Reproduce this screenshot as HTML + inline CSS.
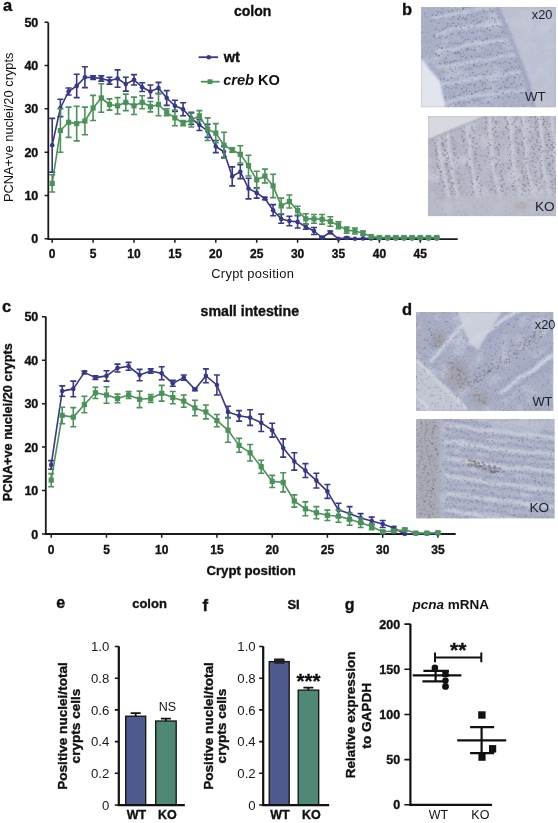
<!DOCTYPE html>
<html><head><meta charset="utf-8"><style>
html,body{margin:0;padding:0;background:#fff;}
svg{display:block;font-family:"Liberation Sans", sans-serif;filter:blur(0.35px);}
</style></head><body>
<svg width="558" height="823" viewBox="0 0 558 823">
<defs><filter id="speck1" x="0" y="0" width="100%" height="100%" color-interpolation-filters="sRGB"><feTurbulence type="fractalNoise" baseFrequency="0.38" numOctaves="2" seed="7"/><feColorMatrix type="matrix" values="0 0 0 0 0.38  0 0 0 0 0.38  0 0 0 0 0.48  2.6 0 0 0 -1.45"/><feGaussianBlur stdDeviation="0.6"/></filter><filter id="mottle1" x="0" y="0" width="100%" height="100%" color-interpolation-filters="sRGB"><feTurbulence type="fractalNoise" baseFrequency="0.06" numOctaves="2" seed="13"/><feColorMatrix type="matrix" values="0 0 0 0 0.88  0 0 0 0 0.89  0 0 0 0 0.94  1.2 0 0 0 -0.58"/></filter><filter id="speck2" x="0" y="0" width="100%" height="100%" color-interpolation-filters="sRGB"><feTurbulence type="fractalNoise" baseFrequency="0.38" numOctaves="2" seed="14"/><feColorMatrix type="matrix" values="0 0 0 0 0.38  0 0 0 0 0.38  0 0 0 0 0.48  2.6 0 0 0 -1.45"/><feGaussianBlur stdDeviation="0.6"/></filter><filter id="mottle2" x="0" y="0" width="100%" height="100%" color-interpolation-filters="sRGB"><feTurbulence type="fractalNoise" baseFrequency="0.06" numOctaves="2" seed="26"/><feColorMatrix type="matrix" values="0 0 0 0 0.88  0 0 0 0 0.89  0 0 0 0 0.94  1.2 0 0 0 -0.58"/></filter><filter id="speck3" x="0" y="0" width="100%" height="100%" color-interpolation-filters="sRGB"><feTurbulence type="fractalNoise" baseFrequency="0.38" numOctaves="2" seed="21"/><feColorMatrix type="matrix" values="0 0 0 0 0.38  0 0 0 0 0.38  0 0 0 0 0.48  2.6 0 0 0 -1.45"/><feGaussianBlur stdDeviation="0.6"/></filter><filter id="mottle3" x="0" y="0" width="100%" height="100%" color-interpolation-filters="sRGB"><feTurbulence type="fractalNoise" baseFrequency="0.06" numOctaves="2" seed="39"/><feColorMatrix type="matrix" values="0 0 0 0 0.88  0 0 0 0 0.89  0 0 0 0 0.94  1.2 0 0 0 -0.58"/></filter><filter id="speck4" x="0" y="0" width="100%" height="100%" color-interpolation-filters="sRGB"><feTurbulence type="fractalNoise" baseFrequency="0.38" numOctaves="2" seed="28"/><feColorMatrix type="matrix" values="0 0 0 0 0.38  0 0 0 0 0.38  0 0 0 0 0.48  2.6 0 0 0 -1.45"/><feGaussianBlur stdDeviation="0.6"/></filter><filter id="mottle4" x="0" y="0" width="100%" height="100%" color-interpolation-filters="sRGB"><feTurbulence type="fractalNoise" baseFrequency="0.06" numOctaves="2" seed="52"/><feColorMatrix type="matrix" values="0 0 0 0 0.88  0 0 0 0 0.89  0 0 0 0 0.94  1.2 0 0 0 -0.58"/></filter><filter id="soft" x="0" y="0" width="100%" height="100%"><feGaussianBlur stdDeviation="0.45"/></filter><filter id="blur3" x="-20%" y="-20%" width="140%" height="140%"><feGaussianBlur stdDeviation="2.5"/></filter><filter id="blur1" x="-20%" y="-20%" width="140%" height="140%"><feGaussianBlur stdDeviation="1"/></filter><clipPath id="clipb1"><rect x="421" y="7" width="135" height="100.5"/></clipPath><clipPath id="clipb2"><rect x="428" y="116" width="128" height="100.3"/></clipPath><clipPath id="clipd1"><rect x="416" y="312" width="137.5" height="99"/></clipPath><clipPath id="clipd2"><rect x="416" y="419" width="138.8" height="99.6"/></clipPath></defs>
<rect width="558" height="823" fill="#fff"/>
<g clip-path="url(#clipb1)"><g filter="url(#soft)"><rect x="421" y="7" width="135" height="100.5" fill="#aab0c7"/><rect x="421" y="7" width="135" height="100.5" filter="url(#mottle1)"/><g filter="url(#blur3)"><path d="M421,7H450L440,50L421,60Z" fill="#aab0c8"/></g><g filter="url(#blur1)" stroke="#c8ccdc" stroke-width="2.4" fill="none"><path d="M431.9,18.2L442.8,16.1L451.0,14.8L459.6,12.8L470.4,11.9L477.5,8.9L486.3,8.9L496.8,5.1L505.0,5.0"/><path d="M435.4,35.4L444.2,32.6L452.5,29.0L463.3,27.4L472.1,26.2L480.6,25.4L490.8,25.0L500.1,22.9L509.0,21.0"/><path d="M436.0,51.5L443.9,48.9L453.5,49.7L461.0,47.4L467.4,44.6L475.4,42.7L486.0,42.2L495.5,40.7L505.1,40.5L513.0,38.0"/><path d="M436.5,67.1L447.4,66.5L455.8,64.9L461.3,64.2L471.6,61.7L477.8,60.5L489.9,60.3L496.9,57.2L506.3,55.2L517.0,55.0"/><path d="M440.9,84.0L448.6,83.4L455.9,82.9L464.1,81.2L472.4,79.2L481.1,77.3L493.2,77.4L500.9,76.2L510.4,73.2L521.0,72.0"/><path d="M443.1,102.4L449.4,102.1L458.3,98.5L468.6,97.3L475.8,95.1L483.8,95.2L492.2,94.1L500.6,92.5L510.4,91.4L517.2,91.3L525.0,89.0"/></g><g><ellipse cx="432.6" cy="15.2" rx="1.0" ry="0.9" fill="#777b95" opacity="0.40"/><ellipse cx="436.2" cy="15.3" rx="0.9" ry="0.9" fill="#686c88" opacity="0.61"/><ellipse cx="438.3" cy="11.8" rx="0.6" ry="0.7" fill="#777b95" opacity="0.57"/><ellipse cx="440.8" cy="12.2" rx="0.8" ry="1.0" fill="#686c88" opacity="0.44"/><ellipse cx="443.1" cy="11.4" rx="0.7" ry="0.7" fill="#6f7390" opacity="0.43"/><ellipse cx="447.0" cy="10.2" rx="0.7" ry="0.5" fill="#7a7480" opacity="0.47"/><ellipse cx="448.9" cy="11.5" rx="0.9" ry="1.1" fill="#6f7390" opacity="0.46"/><ellipse cx="452.5" cy="10.1" rx="1.1" ry="1.2" fill="#777b95" opacity="0.53"/><ellipse cx="455.0" cy="7.9" rx="0.8" ry="0.6" fill="#6f7390" opacity="0.49"/><ellipse cx="457.7" cy="9.0" rx="0.8" ry="0.9" fill="#6f7390" opacity="0.49"/><ellipse cx="460.3" cy="11.5" rx="1.0" ry="0.8" fill="#7a7480" opacity="0.46"/><ellipse cx="463.1" cy="8.7" rx="1.1" ry="1.2" fill="#686c88" opacity="0.63"/><ellipse cx="464.6" cy="7.3" rx="1.0" ry="0.9" fill="#6f7390" opacity="0.53"/><ellipse cx="467.4" cy="7.0" rx="1.0" ry="1.1" fill="#686c88" opacity="0.57"/><ellipse cx="470.6" cy="6.2" rx="0.8" ry="0.9" fill="#6f7390" opacity="0.51"/><ellipse cx="473.2" cy="4.1" rx="0.8" ry="0.6" fill="#6f7390" opacity="0.42"/><ellipse cx="476.2" cy="3.5" rx="1.1" ry="0.9" fill="#6f7390" opacity="0.46"/><ellipse cx="478.3" cy="5.1" rx="0.9" ry="0.9" fill="#7a7480" opacity="0.55"/><ellipse cx="481.6" cy="5.5" rx="1.0" ry="0.8" fill="#686c88" opacity="0.59"/><ellipse cx="484.5" cy="3.2" rx="0.7" ry="0.6" fill="#777b95" opacity="0.52"/><ellipse cx="486.8" cy="4.7" rx="1.1" ry="1.2" fill="#6f7390" opacity="0.64"/><ellipse cx="489.5" cy="4.4" rx="0.7" ry="0.6" fill="#7a7480" opacity="0.63"/><ellipse cx="492.7" cy="1.3" rx="1.0" ry="1.0" fill="#686c88" opacity="0.45"/><ellipse cx="495.8" cy="3.2" rx="0.8" ry="0.8" fill="#7a7480" opacity="0.52"/><ellipse cx="497.4" cy="1.9" rx="0.7" ry="0.6" fill="#6f7390" opacity="0.58"/><ellipse cx="500.0" cy="1.1" rx="1.0" ry="1.1" fill="#6f7390" opacity="0.48"/><ellipse cx="503.1" cy="-0.6" rx="1.1" ry="1.2" fill="#777b95" opacity="0.60"/><ellipse cx="432.0" cy="20.4" rx="1.0" ry="1.1" fill="#6f7390" opacity="0.40"/><ellipse cx="434.9" cy="20.7" rx="0.9" ry="0.9" fill="#777b95" opacity="0.47"/><ellipse cx="439.0" cy="23.0" rx="1.1" ry="0.8" fill="#686c88" opacity="0.39"/><ellipse cx="440.5" cy="18.7" rx="0.8" ry="0.8" fill="#7a7480" opacity="0.49"/><ellipse cx="443.5" cy="18.2" rx="0.7" ry="0.8" fill="#6f7390" opacity="0.41"/><ellipse cx="447.7" cy="23.5" rx="0.9" ry="1.0" fill="#7a7480" opacity="0.43"/><ellipse cx="449.4" cy="18.8" rx="0.6" ry="0.6" fill="#6f7390" opacity="0.48"/><ellipse cx="451.9" cy="19.0" rx="0.6" ry="0.7" fill="#6f7390" opacity="0.48"/><ellipse cx="453.5" cy="16.9" rx="0.9" ry="0.9" fill="#777b95" opacity="0.49"/><ellipse cx="458.3" cy="19.0" rx="1.0" ry="0.9" fill="#686c88" opacity="0.52"/><ellipse cx="460.1" cy="16.3" rx="1.0" ry="0.9" fill="#7a7480" opacity="0.60"/><ellipse cx="462.9" cy="17.7" rx="1.1" ry="0.9" fill="#686c88" opacity="0.64"/><ellipse cx="466.3" cy="17.7" rx="0.9" ry="0.8" fill="#777b95" opacity="0.64"/><ellipse cx="468.0" cy="15.0" rx="0.9" ry="0.9" fill="#686c88" opacity="0.36"/><ellipse cx="471.5" cy="14.8" rx="0.9" ry="0.8" fill="#6f7390" opacity="0.50"/><ellipse cx="474.1" cy="16.4" rx="0.8" ry="1.0" fill="#686c88" opacity="0.43"/><ellipse cx="476.3" cy="15.1" rx="0.7" ry="0.6" fill="#686c88" opacity="0.51"/><ellipse cx="478.2" cy="13.8" rx="0.7" ry="0.8" fill="#6f7390" opacity="0.36"/><ellipse cx="481.0" cy="13.8" rx="0.6" ry="0.5" fill="#7a7480" opacity="0.42"/><ellipse cx="484.0" cy="11.2" rx="1.1" ry="1.1" fill="#777b95" opacity="0.56"/><ellipse cx="487.6" cy="12.5" rx="0.6" ry="0.6" fill="#777b95" opacity="0.51"/><ellipse cx="490.1" cy="11.1" rx="0.7" ry="0.7" fill="#777b95" opacity="0.42"/><ellipse cx="492.7" cy="11.4" rx="1.0" ry="1.2" fill="#7a7480" opacity="0.53"/><ellipse cx="495.8" cy="11.9" rx="0.7" ry="0.5" fill="#777b95" opacity="0.39"/><ellipse cx="497.5" cy="13.1" rx="0.8" ry="0.7" fill="#686c88" opacity="0.51"/><ellipse cx="500.9" cy="10.8" rx="1.0" ry="0.8" fill="#7a7480" opacity="0.62"/><ellipse cx="504.2" cy="11.5" rx="0.7" ry="0.6" fill="#7a7480" opacity="0.50"/><ellipse cx="435.1" cy="29.5" rx="0.7" ry="0.5" fill="#686c88" opacity="0.39"/><ellipse cx="437.0" cy="29.5" rx="0.7" ry="0.8" fill="#7a7480" opacity="0.63"/><ellipse cx="439.9" cy="31.7" rx="0.9" ry="0.9" fill="#7a7480" opacity="0.47"/><ellipse cx="442.7" cy="29.3" rx="0.8" ry="0.6" fill="#7a7480" opacity="0.35"/><ellipse cx="445.6" cy="27.9" rx="0.8" ry="0.9" fill="#686c88" opacity="0.63"/><ellipse cx="447.8" cy="26.3" rx="0.7" ry="0.7" fill="#7a7480" opacity="0.62"/><ellipse cx="450.7" cy="25.7" rx="0.9" ry="0.9" fill="#777b95" opacity="0.50"/><ellipse cx="453.3" cy="23.3" rx="1.0" ry="0.9" fill="#6f7390" opacity="0.57"/><ellipse cx="456.1" cy="26.1" rx="1.1" ry="1.2" fill="#7a7480" opacity="0.58"/><ellipse cx="458.4" cy="23.8" rx="0.8" ry="0.9" fill="#6f7390" opacity="0.59"/><ellipse cx="460.9" cy="27.1" rx="1.1" ry="1.3" fill="#6f7390" opacity="0.42"/><ellipse cx="464.4" cy="25.8" rx="1.0" ry="0.8" fill="#686c88" opacity="0.52"/><ellipse cx="465.2" cy="19.2" rx="1.0" ry="1.0" fill="#686c88" opacity="0.64"/><ellipse cx="468.5" cy="27.2" rx="0.9" ry="1.0" fill="#7a7480" opacity="0.48"/><ellipse cx="471.2" cy="23.0" rx="0.6" ry="0.5" fill="#7a7480" opacity="0.62"/><ellipse cx="473.5" cy="20.4" rx="0.9" ry="1.0" fill="#6f7390" opacity="0.54"/><ellipse cx="477.1" cy="23.5" rx="1.0" ry="0.7" fill="#777b95" opacity="0.47"/><ellipse cx="479.8" cy="22.3" rx="1.1" ry="1.0" fill="#6f7390" opacity="0.48"/><ellipse cx="481.4" cy="20.8" rx="0.8" ry="0.7" fill="#686c88" opacity="0.55"/><ellipse cx="484.4" cy="22.0" rx="0.8" ry="0.8" fill="#7a7480" opacity="0.36"/><ellipse cx="486.8" cy="18.5" rx="0.8" ry="0.9" fill="#6f7390" opacity="0.62"/><ellipse cx="489.4" cy="18.7" rx="0.6" ry="0.7" fill="#7a7480" opacity="0.37"/><ellipse cx="492.2" cy="17.8" rx="1.1" ry="0.9" fill="#6f7390" opacity="0.63"/><ellipse cx="494.8" cy="19.6" rx="0.9" ry="1.0" fill="#777b95" opacity="0.53"/><ellipse cx="496.1" cy="17.5" rx="0.7" ry="0.5" fill="#777b95" opacity="0.39"/><ellipse cx="499.2" cy="17.0" rx="1.0" ry="0.9" fill="#7a7480" opacity="0.54"/><ellipse cx="502.1" cy="16.1" rx="1.0" ry="0.8" fill="#7a7480" opacity="0.57"/><ellipse cx="504.5" cy="19.0" rx="0.7" ry="0.8" fill="#7a7480" opacity="0.43"/><ellipse cx="507.3" cy="16.4" rx="0.7" ry="0.6" fill="#777b95" opacity="0.41"/><ellipse cx="434.0" cy="36.3" rx="1.1" ry="1.3" fill="#6f7390" opacity="0.54"/><ellipse cx="436.6" cy="38.0" rx="0.6" ry="0.5" fill="#7a7480" opacity="0.37"/><ellipse cx="439.4" cy="37.9" rx="1.0" ry="0.9" fill="#7a7480" opacity="0.50"/><ellipse cx="442.2" cy="36.2" rx="0.7" ry="0.8" fill="#6f7390" opacity="0.48"/><ellipse cx="445.9" cy="37.8" rx="1.1" ry="1.2" fill="#686c88" opacity="0.48"/><ellipse cx="447.5" cy="36.6" rx="1.0" ry="1.1" fill="#7a7480" opacity="0.44"/><ellipse cx="450.6" cy="34.3" rx="1.1" ry="0.8" fill="#7a7480" opacity="0.52"/><ellipse cx="452.8" cy="34.3" rx="0.8" ry="0.8" fill="#686c88" opacity="0.44"/><ellipse cx="456.3" cy="36.1" rx="0.6" ry="0.5" fill="#6f7390" opacity="0.56"/><ellipse cx="458.2" cy="34.3" rx="1.1" ry="0.9" fill="#7a7480" opacity="0.46"/><ellipse cx="460.0" cy="32.6" rx="1.0" ry="1.0" fill="#7a7480" opacity="0.48"/><ellipse cx="463.8" cy="32.7" rx="0.8" ry="1.0" fill="#777b95" opacity="0.38"/><ellipse cx="466.7" cy="33.8" rx="0.6" ry="0.6" fill="#686c88" opacity="0.59"/><ellipse cx="468.8" cy="31.3" rx="0.7" ry="0.7" fill="#777b95" opacity="0.40"/><ellipse cx="471.8" cy="32.8" rx="1.1" ry="0.9" fill="#6f7390" opacity="0.42"/><ellipse cx="473.2" cy="32.1" rx="0.6" ry="0.7" fill="#686c88" opacity="0.37"/><ellipse cx="476.6" cy="31.9" rx="1.0" ry="0.8" fill="#6f7390" opacity="0.43"/><ellipse cx="478.3" cy="30.5" rx="1.0" ry="0.7" fill="#686c88" opacity="0.42"/><ellipse cx="481.1" cy="30.4" rx="1.0" ry="1.0" fill="#686c88" opacity="0.47"/><ellipse cx="484.1" cy="31.7" rx="0.9" ry="0.8" fill="#6f7390" opacity="0.56"/><ellipse cx="487.2" cy="28.7" rx="0.8" ry="0.9" fill="#7a7480" opacity="0.61"/><ellipse cx="489.9" cy="30.2" rx="1.1" ry="1.1" fill="#7a7480" opacity="0.56"/><ellipse cx="491.8" cy="25.8" rx="0.8" ry="0.8" fill="#777b95" opacity="0.42"/><ellipse cx="493.6" cy="26.6" rx="0.8" ry="0.7" fill="#7a7480" opacity="0.43"/><ellipse cx="497.2" cy="25.8" rx="0.9" ry="0.9" fill="#7a7480" opacity="0.54"/><ellipse cx="499.9" cy="27.2" rx="0.9" ry="0.8" fill="#6f7390" opacity="0.44"/><ellipse cx="501.7" cy="27.2" rx="0.8" ry="0.8" fill="#686c88" opacity="0.53"/><ellipse cx="504.3" cy="26.7" rx="0.7" ry="0.7" fill="#7a7480" opacity="0.54"/><ellipse cx="508.1" cy="26.7" rx="0.9" ry="1.0" fill="#686c88" opacity="0.62"/><ellipse cx="437.3" cy="45.3" rx="1.1" ry="1.1" fill="#777b95" opacity="0.47"/><ellipse cx="439.3" cy="47.4" rx="0.7" ry="0.7" fill="#7a7480" opacity="0.59"/><ellipse cx="441.9" cy="48.1" rx="1.1" ry="1.2" fill="#686c88" opacity="0.59"/><ellipse cx="444.9" cy="43.6" rx="0.9" ry="0.7" fill="#777b95" opacity="0.58"/><ellipse cx="447.3" cy="46.7" rx="0.7" ry="0.7" fill="#7a7480" opacity="0.50"/><ellipse cx="449.2" cy="42.8" rx="0.9" ry="0.7" fill="#777b95" opacity="0.60"/><ellipse cx="453.4" cy="43.7" rx="0.7" ry="0.8" fill="#6f7390" opacity="0.62"/><ellipse cx="455.7" cy="42.5" rx="0.6" ry="0.7" fill="#7a7480" opacity="0.36"/><ellipse cx="457.8" cy="43.4" rx="1.0" ry="0.9" fill="#6f7390" opacity="0.51"/><ellipse cx="461.2" cy="44.1" rx="0.7" ry="0.8" fill="#7a7480" opacity="0.44"/><ellipse cx="462.5" cy="37.3" rx="1.0" ry="0.7" fill="#6f7390" opacity="0.56"/><ellipse cx="465.2" cy="39.7" rx="0.8" ry="0.8" fill="#6f7390" opacity="0.55"/><ellipse cx="467.7" cy="39.3" rx="0.7" ry="0.7" fill="#686c88" opacity="0.58"/><ellipse cx="472.3" cy="41.7" rx="1.1" ry="1.1" fill="#777b95" opacity="0.44"/><ellipse cx="473.7" cy="38.7" rx="0.8" ry="0.7" fill="#6f7390" opacity="0.43"/><ellipse cx="476.3" cy="39.2" rx="1.0" ry="0.9" fill="#7a7480" opacity="0.52"/><ellipse cx="479.6" cy="37.6" rx="0.7" ry="0.5" fill="#6f7390" opacity="0.39"/><ellipse cx="482.7" cy="40.7" rx="0.7" ry="0.6" fill="#6f7390" opacity="0.60"/><ellipse cx="485.0" cy="38.9" rx="0.7" ry="0.5" fill="#686c88" opacity="0.58"/><ellipse cx="487.2" cy="38.2" rx="1.1" ry="1.2" fill="#777b95" opacity="0.54"/><ellipse cx="490.5" cy="37.7" rx="0.8" ry="0.7" fill="#6f7390" opacity="0.57"/><ellipse cx="492.6" cy="35.5" rx="0.8" ry="0.8" fill="#777b95" opacity="0.55"/><ellipse cx="495.7" cy="37.6" rx="0.8" ry="0.8" fill="#6f7390" opacity="0.52"/><ellipse cx="497.5" cy="36.2" rx="0.8" ry="0.7" fill="#6f7390" opacity="0.53"/><ellipse cx="500.1" cy="35.9" rx="0.9" ry="0.8" fill="#777b95" opacity="0.52"/><ellipse cx="502.3" cy="32.2" rx="1.1" ry="1.3" fill="#777b95" opacity="0.52"/><ellipse cx="504.9" cy="33.5" rx="0.7" ry="0.6" fill="#686c88" opacity="0.56"/><ellipse cx="507.9" cy="32.3" rx="1.1" ry="1.0" fill="#686c88" opacity="0.61"/><ellipse cx="511.1" cy="33.7" rx="0.9" ry="0.9" fill="#6f7390" opacity="0.52"/><ellipse cx="436.2" cy="54.4" rx="1.1" ry="1.3" fill="#7a7480" opacity="0.53"/><ellipse cx="439.0" cy="55.5" rx="1.1" ry="0.9" fill="#7a7480" opacity="0.60"/><ellipse cx="441.5" cy="53.5" rx="0.9" ry="0.7" fill="#6f7390" opacity="0.47"/><ellipse cx="446.1" cy="58.5" rx="0.7" ry="0.7" fill="#686c88" opacity="0.53"/><ellipse cx="447.3" cy="51.3" rx="1.0" ry="0.8" fill="#686c88" opacity="0.49"/><ellipse cx="449.3" cy="51.8" rx="0.7" ry="0.7" fill="#7a7480" opacity="0.42"/><ellipse cx="453.7" cy="53.6" rx="0.6" ry="0.7" fill="#777b95" opacity="0.47"/><ellipse cx="455.6" cy="53.1" rx="1.1" ry="1.3" fill="#686c88" opacity="0.58"/><ellipse cx="458.2" cy="52.4" rx="1.1" ry="1.3" fill="#686c88" opacity="0.60"/><ellipse cx="460.6" cy="53.7" rx="0.8" ry="0.8" fill="#686c88" opacity="0.62"/><ellipse cx="463.6" cy="52.9" rx="0.6" ry="0.7" fill="#686c88" opacity="0.57"/><ellipse cx="466.3" cy="50.2" rx="0.9" ry="0.7" fill="#6f7390" opacity="0.60"/><ellipse cx="468.2" cy="48.7" rx="1.1" ry="1.3" fill="#686c88" opacity="0.56"/><ellipse cx="471.5" cy="49.4" rx="0.8" ry="0.7" fill="#6f7390" opacity="0.65"/><ellipse cx="474.7" cy="49.9" rx="1.1" ry="1.0" fill="#686c88" opacity="0.52"/><ellipse cx="476.1" cy="47.6" rx="0.7" ry="0.5" fill="#777b95" opacity="0.39"/><ellipse cx="479.3" cy="46.8" rx="1.1" ry="0.8" fill="#777b95" opacity="0.57"/><ellipse cx="481.4" cy="48.3" rx="0.8" ry="0.8" fill="#777b95" opacity="0.46"/><ellipse cx="485.1" cy="48.4" rx="0.6" ry="0.4" fill="#7a7480" opacity="0.44"/><ellipse cx="487.9" cy="50.1" rx="0.9" ry="0.7" fill="#7a7480" opacity="0.61"/><ellipse cx="490.1" cy="44.6" rx="0.6" ry="0.5" fill="#7a7480" opacity="0.62"/><ellipse cx="491.7" cy="44.5" rx="0.9" ry="0.9" fill="#777b95" opacity="0.41"/><ellipse cx="495.6" cy="43.7" rx="0.6" ry="0.5" fill="#7a7480" opacity="0.64"/><ellipse cx="497.2" cy="42.5" rx="0.8" ry="0.9" fill="#686c88" opacity="0.47"/><ellipse cx="500.3" cy="46.0" rx="1.1" ry="0.8" fill="#777b95" opacity="0.43"/><ellipse cx="503.4" cy="42.9" rx="0.8" ry="0.8" fill="#6f7390" opacity="0.53"/><ellipse cx="505.4" cy="43.7" rx="0.8" ry="0.9" fill="#777b95" opacity="0.43"/><ellipse cx="509.3" cy="46.5" rx="0.8" ry="0.8" fill="#6f7390" opacity="0.35"/><ellipse cx="511.6" cy="44.9" rx="0.9" ry="0.8" fill="#6f7390" opacity="0.40"/><ellipse cx="439.7" cy="63.5" rx="1.0" ry="0.7" fill="#777b95" opacity="0.65"/><ellipse cx="440.9" cy="63.8" rx="0.9" ry="0.9" fill="#686c88" opacity="0.35"/><ellipse cx="445.0" cy="62.8" rx="1.0" ry="1.2" fill="#7a7480" opacity="0.55"/><ellipse cx="447.5" cy="62.1" rx="0.9" ry="0.8" fill="#777b95" opacity="0.53"/><ellipse cx="450.4" cy="62.5" rx="1.0" ry="0.9" fill="#7a7480" opacity="0.59"/><ellipse cx="453.1" cy="61.9" rx="0.7" ry="0.7" fill="#777b95" opacity="0.61"/><ellipse cx="455.4" cy="60.5" rx="1.1" ry="0.8" fill="#686c88" opacity="0.61"/><ellipse cx="457.6" cy="61.1" rx="0.7" ry="0.5" fill="#686c88" opacity="0.59"/><ellipse cx="460.6" cy="59.2" rx="0.6" ry="0.5" fill="#777b95" opacity="0.52"/><ellipse cx="463.0" cy="56.5" rx="1.0" ry="0.8" fill="#777b95" opacity="0.37"/><ellipse cx="465.9" cy="57.9" rx="1.0" ry="1.1" fill="#686c88" opacity="0.38"/><ellipse cx="469.0" cy="55.7" rx="0.7" ry="0.6" fill="#777b95" opacity="0.50"/><ellipse cx="471.7" cy="56.5" rx="0.8" ry="0.7" fill="#777b95" opacity="0.56"/><ellipse cx="475.0" cy="56.3" rx="0.7" ry="0.7" fill="#777b95" opacity="0.39"/><ellipse cx="477.0" cy="56.8" rx="0.7" ry="0.8" fill="#777b95" opacity="0.38"/><ellipse cx="479.8" cy="56.0" rx="0.9" ry="1.0" fill="#6f7390" opacity="0.55"/><ellipse cx="483.2" cy="57.8" rx="0.8" ry="0.6" fill="#777b95" opacity="0.48"/><ellipse cx="484.5" cy="55.3" rx="0.7" ry="0.6" fill="#777b95" opacity="0.36"/><ellipse cx="487.8" cy="54.8" rx="0.8" ry="0.8" fill="#777b95" opacity="0.49"/><ellipse cx="490.4" cy="54.3" rx="1.1" ry="0.9" fill="#6f7390" opacity="0.41"/><ellipse cx="493.2" cy="55.0" rx="0.7" ry="0.6" fill="#777b95" opacity="0.53"/><ellipse cx="496.8" cy="55.3" rx="0.9" ry="0.8" fill="#777b95" opacity="0.61"/><ellipse cx="498.3" cy="53.0" rx="1.0" ry="0.9" fill="#7a7480" opacity="0.54"/><ellipse cx="501.6" cy="53.3" rx="1.0" ry="1.0" fill="#777b95" opacity="0.43"/><ellipse cx="504.3" cy="54.4" rx="0.8" ry="0.9" fill="#6f7390" opacity="0.36"/><ellipse cx="507.1" cy="54.8" rx="0.8" ry="0.6" fill="#686c88" opacity="0.45"/><ellipse cx="510.0" cy="51.1" rx="0.8" ry="0.7" fill="#6f7390" opacity="0.41"/><ellipse cx="512.4" cy="51.2" rx="0.7" ry="0.5" fill="#686c88" opacity="0.48"/><ellipse cx="515.4" cy="52.2" rx="0.7" ry="0.8" fill="#686c88" opacity="0.39"/><ellipse cx="438.6" cy="74.1" rx="0.8" ry="0.8" fill="#686c88" opacity="0.39"/><ellipse cx="441.5" cy="71.5" rx="0.8" ry="0.8" fill="#777b95" opacity="0.36"/><ellipse cx="443.6" cy="72.1" rx="0.9" ry="0.9" fill="#7a7480" opacity="0.55"/><ellipse cx="446.5" cy="72.1" rx="0.8" ry="0.6" fill="#7a7480" opacity="0.42"/><ellipse cx="449.7" cy="69.0" rx="0.6" ry="0.6" fill="#686c88" opacity="0.50"/><ellipse cx="452.6" cy="71.1" rx="1.0" ry="0.8" fill="#686c88" opacity="0.41"/><ellipse cx="455.6" cy="69.0" rx="0.8" ry="0.8" fill="#6f7390" opacity="0.57"/><ellipse cx="458.7" cy="69.5" rx="0.7" ry="0.8" fill="#7a7480" opacity="0.56"/><ellipse cx="459.7" cy="67.3" rx="0.8" ry="0.7" fill="#6f7390" opacity="0.62"/><ellipse cx="462.7" cy="66.3" rx="0.8" ry="0.8" fill="#7a7480" opacity="0.37"/><ellipse cx="465.7" cy="69.7" rx="0.8" ry="0.7" fill="#7a7480" opacity="0.43"/><ellipse cx="469.3" cy="67.8" rx="0.9" ry="1.1" fill="#7a7480" opacity="0.36"/><ellipse cx="472.2" cy="68.1" rx="0.7" ry="0.5" fill="#6f7390" opacity="0.54"/><ellipse cx="474.0" cy="65.4" rx="1.1" ry="1.2" fill="#686c88" opacity="0.64"/><ellipse cx="477.0" cy="66.4" rx="1.0" ry="1.1" fill="#7a7480" opacity="0.44"/><ellipse cx="479.7" cy="66.2" rx="0.7" ry="0.6" fill="#777b95" opacity="0.42"/><ellipse cx="481.7" cy="65.0" rx="0.9" ry="0.8" fill="#777b95" opacity="0.51"/><ellipse cx="485.8" cy="64.5" rx="1.1" ry="1.2" fill="#7a7480" opacity="0.43"/><ellipse cx="487.2" cy="63.6" rx="0.6" ry="0.7" fill="#777b95" opacity="0.56"/><ellipse cx="491.4" cy="66.1" rx="0.7" ry="0.7" fill="#686c88" opacity="0.59"/><ellipse cx="493.0" cy="62.7" rx="0.8" ry="0.7" fill="#686c88" opacity="0.42"/><ellipse cx="495.6" cy="62.5" rx="0.9" ry="0.7" fill="#6f7390" opacity="0.65"/><ellipse cx="499.5" cy="63.1" rx="1.1" ry="0.9" fill="#686c88" opacity="0.50"/><ellipse cx="502.1" cy="63.8" rx="0.8" ry="0.8" fill="#7a7480" opacity="0.43"/><ellipse cx="504.3" cy="62.0" rx="1.0" ry="0.9" fill="#7a7480" opacity="0.46"/><ellipse cx="507.4" cy="62.1" rx="0.7" ry="0.7" fill="#777b95" opacity="0.52"/><ellipse cx="509.9" cy="63.2" rx="1.0" ry="1.0" fill="#7a7480" opacity="0.59"/><ellipse cx="511.5" cy="58.9" rx="0.7" ry="0.6" fill="#6f7390" opacity="0.49"/><ellipse cx="515.6" cy="61.2" rx="1.0" ry="1.2" fill="#7a7480" opacity="0.56"/><ellipse cx="440.5" cy="79.4" rx="1.1" ry="1.3" fill="#6f7390" opacity="0.40"/><ellipse cx="444.0" cy="78.8" rx="1.1" ry="0.9" fill="#7a7480" opacity="0.57"/><ellipse cx="447.0" cy="80.3" rx="0.6" ry="0.6" fill="#686c88" opacity="0.40"/><ellipse cx="448.1" cy="80.0" rx="0.8" ry="1.0" fill="#7a7480" opacity="0.42"/><ellipse cx="451.5" cy="77.9" rx="0.9" ry="1.0" fill="#777b95" opacity="0.51"/><ellipse cx="454.5" cy="78.5" rx="0.7" ry="0.5" fill="#6f7390" opacity="0.52"/><ellipse cx="457.3" cy="78.7" rx="0.7" ry="0.8" fill="#7a7480" opacity="0.52"/><ellipse cx="458.4" cy="76.4" rx="0.9" ry="0.8" fill="#777b95" opacity="0.37"/><ellipse cx="461.0" cy="75.3" rx="0.7" ry="0.5" fill="#7a7480" opacity="0.55"/><ellipse cx="463.5" cy="76.0" rx="0.8" ry="0.6" fill="#777b95" opacity="0.65"/><ellipse cx="467.1" cy="77.3" rx="0.9" ry="0.9" fill="#777b95" opacity="0.52"/><ellipse cx="470.0" cy="75.8" rx="0.9" ry="0.8" fill="#7a7480" opacity="0.61"/><ellipse cx="472.7" cy="72.5" rx="1.0" ry="0.8" fill="#6f7390" opacity="0.63"/><ellipse cx="475.1" cy="75.6" rx="1.0" ry="0.8" fill="#6f7390" opacity="0.58"/><ellipse cx="477.2" cy="74.1" rx="0.7" ry="0.8" fill="#6f7390" opacity="0.58"/><ellipse cx="479.8" cy="73.9" rx="0.7" ry="0.9" fill="#686c88" opacity="0.47"/><ellipse cx="483.4" cy="74.4" rx="1.1" ry="0.9" fill="#686c88" opacity="0.47"/><ellipse cx="485.4" cy="70.8" rx="0.7" ry="0.9" fill="#6f7390" opacity="0.35"/><ellipse cx="487.3" cy="71.7" rx="0.9" ry="0.7" fill="#7a7480" opacity="0.54"/><ellipse cx="490.8" cy="74.2" rx="0.8" ry="0.6" fill="#7a7480" opacity="0.53"/><ellipse cx="492.8" cy="72.0" rx="0.6" ry="0.5" fill="#7a7480" opacity="0.55"/><ellipse cx="495.4" cy="72.3" rx="0.7" ry="0.5" fill="#7a7480" opacity="0.40"/><ellipse cx="497.6" cy="70.7" rx="0.7" ry="0.8" fill="#777b95" opacity="0.36"/><ellipse cx="500.5" cy="70.9" rx="0.6" ry="0.6" fill="#7a7480" opacity="0.48"/><ellipse cx="504.3" cy="70.3" rx="1.0" ry="0.8" fill="#7a7480" opacity="0.37"/><ellipse cx="506.2" cy="71.2" rx="1.1" ry="1.3" fill="#7a7480" opacity="0.51"/><ellipse cx="508.0" cy="69.2" rx="1.1" ry="0.8" fill="#7a7480" opacity="0.62"/><ellipse cx="511.6" cy="66.9" rx="0.9" ry="0.9" fill="#6f7390" opacity="0.39"/><ellipse cx="514.3" cy="68.5" rx="0.9" ry="1.0" fill="#777b95" opacity="0.46"/><ellipse cx="516.4" cy="66.7" rx="0.6" ry="0.7" fill="#686c88" opacity="0.48"/><ellipse cx="518.9" cy="65.1" rx="0.7" ry="0.6" fill="#7a7480" opacity="0.57"/><ellipse cx="440.2" cy="87.6" rx="1.0" ry="1.2" fill="#686c88" opacity="0.37"/><ellipse cx="444.2" cy="88.9" rx="0.7" ry="0.5" fill="#777b95" opacity="0.60"/><ellipse cx="446.0" cy="85.5" rx="0.9" ry="1.1" fill="#6f7390" opacity="0.41"/><ellipse cx="447.8" cy="87.3" rx="0.8" ry="0.6" fill="#6f7390" opacity="0.61"/><ellipse cx="451.0" cy="89.1" rx="0.8" ry="0.8" fill="#6f7390" opacity="0.38"/><ellipse cx="453.8" cy="87.3" rx="0.6" ry="0.6" fill="#6f7390" opacity="0.58"/><ellipse cx="456.1" cy="83.9" rx="1.1" ry="1.2" fill="#777b95" opacity="0.59"/><ellipse cx="458.4" cy="84.8" rx="1.1" ry="0.9" fill="#7a7480" opacity="0.39"/><ellipse cx="461.7" cy="88.7" rx="0.8" ry="0.9" fill="#686c88" opacity="0.62"/><ellipse cx="463.9" cy="86.5" rx="0.9" ry="1.1" fill="#777b95" opacity="0.52"/><ellipse cx="467.8" cy="84.8" rx="0.8" ry="0.9" fill="#7a7480" opacity="0.60"/><ellipse cx="470.3" cy="83.9" rx="0.7" ry="0.8" fill="#777b95" opacity="0.56"/><ellipse cx="472.1" cy="83.3" rx="0.7" ry="0.5" fill="#7a7480" opacity="0.53"/><ellipse cx="474.9" cy="85.2" rx="1.0" ry="1.0" fill="#7a7480" opacity="0.61"/><ellipse cx="478.7" cy="87.4" rx="0.7" ry="0.5" fill="#7a7480" opacity="0.48"/><ellipse cx="480.5" cy="81.4" rx="0.9" ry="1.0" fill="#7a7480" opacity="0.50"/><ellipse cx="482.8" cy="83.2" rx="0.9" ry="0.7" fill="#6f7390" opacity="0.61"/><ellipse cx="485.2" cy="83.3" rx="0.9" ry="1.0" fill="#686c88" opacity="0.41"/><ellipse cx="487.6" cy="80.0" rx="0.7" ry="0.7" fill="#7a7480" opacity="0.48"/><ellipse cx="489.7" cy="78.0" rx="0.8" ry="0.8" fill="#777b95" opacity="0.35"/><ellipse cx="493.2" cy="82.1" rx="0.9" ry="1.0" fill="#686c88" opacity="0.48"/><ellipse cx="495.7" cy="81.6" rx="0.9" ry="0.9" fill="#6f7390" opacity="0.49"/><ellipse cx="497.6" cy="77.6" rx="1.0" ry="0.7" fill="#6f7390" opacity="0.57"/><ellipse cx="501.0" cy="77.9" rx="1.1" ry="0.8" fill="#777b95" opacity="0.49"/><ellipse cx="503.7" cy="81.7" rx="0.9" ry="0.7" fill="#6f7390" opacity="0.64"/><ellipse cx="507.1" cy="80.1" rx="1.1" ry="1.1" fill="#6f7390" opacity="0.65"/><ellipse cx="508.1" cy="78.4" rx="0.9" ry="0.8" fill="#777b95" opacity="0.51"/><ellipse cx="511.1" cy="75.4" rx="0.9" ry="0.7" fill="#6f7390" opacity="0.35"/><ellipse cx="514.7" cy="77.5" rx="1.0" ry="1.1" fill="#7a7480" opacity="0.55"/><ellipse cx="516.9" cy="74.2" rx="0.8" ry="0.7" fill="#7a7480" opacity="0.61"/><ellipse cx="519.9" cy="77.1" rx="1.1" ry="0.8" fill="#7a7480" opacity="0.47"/><ellipse cx="443.3" cy="99.7" rx="0.7" ry="0.8" fill="#6f7390" opacity="0.37"/><ellipse cx="445.0" cy="96.6" rx="1.0" ry="0.9" fill="#7a7480" opacity="0.44"/><ellipse cx="448.6" cy="96.4" rx="0.6" ry="0.5" fill="#686c88" opacity="0.40"/><ellipse cx="450.5" cy="97.6" rx="0.7" ry="0.8" fill="#777b95" opacity="0.39"/><ellipse cx="453.8" cy="96.5" rx="1.1" ry="1.2" fill="#6f7390" opacity="0.47"/><ellipse cx="455.7" cy="97.0" rx="0.7" ry="0.8" fill="#686c88" opacity="0.40"/><ellipse cx="459.1" cy="95.4" rx="0.8" ry="0.9" fill="#6f7390" opacity="0.47"/><ellipse cx="461.3" cy="94.5" rx="0.7" ry="0.7" fill="#686c88" opacity="0.45"/><ellipse cx="464.0" cy="92.2" rx="1.1" ry="1.1" fill="#6f7390" opacity="0.47"/><ellipse cx="466.3" cy="91.1" rx="1.0" ry="0.8" fill="#7a7480" opacity="0.38"/><ellipse cx="469.9" cy="91.4" rx="0.8" ry="0.6" fill="#7a7480" opacity="0.60"/><ellipse cx="471.9" cy="94.0" rx="0.9" ry="0.9" fill="#686c88" opacity="0.60"/><ellipse cx="475.3" cy="92.0" rx="0.8" ry="0.9" fill="#686c88" opacity="0.57"/><ellipse cx="477.5" cy="91.4" rx="0.9" ry="0.7" fill="#7a7480" opacity="0.64"/><ellipse cx="480.0" cy="90.2" rx="0.8" ry="0.8" fill="#6f7390" opacity="0.44"/><ellipse cx="483.0" cy="90.0" rx="0.9" ry="1.0" fill="#6f7390" opacity="0.61"/><ellipse cx="485.0" cy="88.3" rx="1.1" ry="1.1" fill="#7a7480" opacity="0.47"/><ellipse cx="487.9" cy="88.7" rx="1.0" ry="0.7" fill="#777b95" opacity="0.60"/><ellipse cx="490.7" cy="88.6" rx="1.0" ry="1.1" fill="#6f7390" opacity="0.65"/><ellipse cx="494.1" cy="91.5" rx="0.8" ry="0.6" fill="#777b95" opacity="0.63"/><ellipse cx="497.2" cy="91.9" rx="1.0" ry="1.0" fill="#6f7390" opacity="0.60"/><ellipse cx="499.2" cy="88.8" rx="0.8" ry="0.8" fill="#6f7390" opacity="0.40"/><ellipse cx="501.1" cy="87.8" rx="1.0" ry="1.1" fill="#6f7390" opacity="0.48"/><ellipse cx="505.0" cy="86.8" rx="1.0" ry="1.1" fill="#7a7480" opacity="0.55"/><ellipse cx="507.3" cy="87.7" rx="0.8" ry="0.9" fill="#6f7390" opacity="0.63"/><ellipse cx="509.4" cy="87.3" rx="0.8" ry="0.8" fill="#6f7390" opacity="0.40"/><ellipse cx="511.7" cy="84.0" rx="1.1" ry="0.9" fill="#686c88" opacity="0.50"/><ellipse cx="515.7" cy="87.6" rx="0.8" ry="0.9" fill="#6f7390" opacity="0.51"/><ellipse cx="518.4" cy="85.7" rx="0.6" ry="0.7" fill="#7a7480" opacity="0.46"/><ellipse cx="520.8" cy="83.9" rx="1.0" ry="0.9" fill="#686c88" opacity="0.46"/><ellipse cx="522.7" cy="80.9" rx="0.8" ry="0.8" fill="#777b95" opacity="0.54"/><ellipse cx="442.6" cy="106.9" rx="0.8" ry="0.6" fill="#6f7390" opacity="0.59"/><ellipse cx="445.1" cy="106.0" rx="1.1" ry="0.8" fill="#777b95" opacity="0.64"/><ellipse cx="449.0" cy="106.3" rx="0.9" ry="0.8" fill="#777b95" opacity="0.41"/><ellipse cx="450.9" cy="104.3" rx="0.7" ry="0.8" fill="#7a7480" opacity="0.52"/><ellipse cx="453.4" cy="103.1" rx="0.8" ry="0.6" fill="#7a7480" opacity="0.59"/><ellipse cx="455.6" cy="104.5" rx="0.7" ry="0.7" fill="#7a7480" opacity="0.39"/><ellipse cx="459.2" cy="102.7" rx="0.9" ry="1.1" fill="#7a7480" opacity="0.56"/><ellipse cx="461.7" cy="105.4" rx="0.8" ry="0.9" fill="#7a7480" opacity="0.38"/><ellipse cx="464.0" cy="102.2" rx="0.7" ry="0.8" fill="#7a7480" opacity="0.44"/><ellipse cx="467.1" cy="102.4" rx="0.6" ry="0.7" fill="#777b95" opacity="0.61"/><ellipse cx="469.2" cy="102.6" rx="1.1" ry="1.2" fill="#6f7390" opacity="0.51"/><ellipse cx="472.4" cy="99.5" rx="1.1" ry="1.2" fill="#7a7480" opacity="0.44"/><ellipse cx="474.9" cy="100.7" rx="1.0" ry="1.1" fill="#777b95" opacity="0.49"/><ellipse cx="478.0" cy="100.1" rx="1.0" ry="0.8" fill="#7a7480" opacity="0.62"/><ellipse cx="479.9" cy="101.2" rx="0.9" ry="0.9" fill="#6f7390" opacity="0.44"/><ellipse cx="482.8" cy="103.2" rx="0.7" ry="0.6" fill="#7a7480" opacity="0.61"/><ellipse cx="484.9" cy="98.1" rx="1.0" ry="0.7" fill="#6f7390" opacity="0.47"/><ellipse cx="488.4" cy="102.1" rx="1.1" ry="1.3" fill="#6f7390" opacity="0.48"/><ellipse cx="491.1" cy="96.4" rx="0.6" ry="0.7" fill="#686c88" opacity="0.63"/><ellipse cx="494.5" cy="98.7" rx="0.7" ry="0.7" fill="#6f7390" opacity="0.52"/><ellipse cx="497.3" cy="98.1" rx="0.9" ry="0.7" fill="#7a7480" opacity="0.43"/><ellipse cx="498.7" cy="97.3" rx="0.9" ry="1.0" fill="#777b95" opacity="0.61"/><ellipse cx="502.6" cy="97.7" rx="0.6" ry="0.6" fill="#7a7480" opacity="0.63"/><ellipse cx="503.3" cy="93.2" rx="0.6" ry="0.5" fill="#7a7480" opacity="0.64"/><ellipse cx="506.3" cy="95.9" rx="0.6" ry="0.7" fill="#6f7390" opacity="0.35"/><ellipse cx="509.3" cy="96.9" rx="1.1" ry="1.0" fill="#7a7480" opacity="0.42"/><ellipse cx="511.8" cy="91.8" rx="1.1" ry="0.9" fill="#6f7390" opacity="0.53"/><ellipse cx="515.0" cy="93.9" rx="0.9" ry="0.7" fill="#686c88" opacity="0.40"/><ellipse cx="517.5" cy="96.4" rx="0.7" ry="0.7" fill="#7a7480" opacity="0.41"/><ellipse cx="520.5" cy="92.7" rx="0.9" ry="0.9" fill="#6f7390" opacity="0.41"/><ellipse cx="522.5" cy="92.7" rx="0.8" ry="0.7" fill="#777b95" opacity="0.55"/></g><path d="M497,7L512,40L527,80L534,107.5" stroke="#a2a9c4" stroke-width="4" fill="none" filter="url(#blur1)"/><rect x="421" y="7" width="135" height="100.5" filter="url(#speck1)" opacity="0.4"/><path d="M500,7L514,40L529,80L536,107.5H556V7Z" fill="#c8cbd8" opacity="0.65" filter="url(#blur1)"/><path d="M421,58L431,71L440,81L442.5,94L445.7,107.5H421Z" fill="#e2e5ed" filter="url(#blur1)"/></g></g><g clip-path="url(#clipb2)"><g filter="url(#soft)"><rect x="428" y="116" width="128" height="100.3" fill="#b5b7c7"/><rect x="428" y="116" width="128" height="100.3" filter="url(#mottle2)"/><g filter="url(#blur1)" stroke="#cdcfda" stroke-width="2.4" fill="none"><path d="M438.9,135.9L438.0,145.1L439.7,152.1L441.5,162.9L442.6,169.6L446.2,180.8L446.7,187.6L449.0,198.0"/><path d="M447.9,132.9L447.8,142.4L449.1,150.4L451.0,161.2L451.9,171.0L452.5,179.3L455.6,187.4L458.0,198.0"/><path d="M468.2,122.6L467.1,134.0L470.4,143.5L469.5,152.7L469.9,161.4L473.3,169.1L472.9,179.9L477.1,189.3L478.0,198.0"/><path d="M490.3,114.2L489.5,122.5L490.0,134.2L490.2,141.2L491.9,150.1L492.6,159.8L492.9,170.1L496.1,179.5L498.8,188.7L500.0,198.0"/><path d="M510.3,104.7L508.8,112.7L509.7,122.8L512.1,130.0L510.5,137.5L512.3,145.4L513.6,155.4L513.3,162.3L515.0,169.9L515.1,180.7L519.4,187.2L520.0,198.0"/><path d="M523.8,99.8L522.3,107.8L523.3,118.3L524.0,124.9L524.7,135.9L526.1,144.2L526.6,151.6L525.9,160.7L526.6,169.3L530.4,178.9L531.9,189.0L534.0,198.0"/><path d="M537.5,93.4L539.7,102.5L538.9,110.9L539.5,118.7L541.5,126.9L542.1,137.2L542.5,143.6L541.9,154.5L541.8,160.5L543.7,169.2L545.3,178.3L548.3,188.0L549.0,198.0"/><path d="M549.8,88.9L551.0,96.7L552.0,105.9L552.5,112.5L551.5,121.0L552.8,129.4L554.4,137.2L553.3,145.5L554.9,154.1L556.9,161.2L555.8,168.8L558.9,178.5L561.0,189.6L562.0,198.0"/></g><g><ellipse cx="432.2" cy="140.5" rx="0.8" ry="0.8" fill="#77788a" opacity="0.50"/><ellipse cx="435.1" cy="142.9" rx="0.8" ry="0.9" fill="#6f7080" opacity="0.63"/><ellipse cx="435.2" cy="145.8" rx="0.8" ry="0.8" fill="#7d7470" opacity="0.56"/><ellipse cx="436.6" cy="148.4" rx="1.0" ry="1.1" fill="#7d7470" opacity="0.39"/><ellipse cx="435.7" cy="150.7" rx="1.0" ry="1.2" fill="#6f7080" opacity="0.49"/><ellipse cx="436.6" cy="153.5" rx="1.0" ry="0.9" fill="#77788a" opacity="0.64"/><ellipse cx="436.6" cy="155.4" rx="0.8" ry="0.7" fill="#6f7080" opacity="0.65"/><ellipse cx="436.1" cy="158.9" rx="0.7" ry="0.7" fill="#77788a" opacity="0.48"/><ellipse cx="439.4" cy="160.5" rx="0.6" ry="0.5" fill="#80766e" opacity="0.54"/><ellipse cx="436.7" cy="163.8" rx="0.8" ry="0.7" fill="#77788a" opacity="0.62"/><ellipse cx="437.7" cy="166.3" rx="0.9" ry="0.7" fill="#7d7470" opacity="0.50"/><ellipse cx="439.2" cy="168.4" rx="0.8" ry="0.6" fill="#6f7080" opacity="0.56"/><ellipse cx="441.3" cy="171.6" rx="1.1" ry="0.9" fill="#6f7080" opacity="0.64"/><ellipse cx="437.5" cy="174.7" rx="0.8" ry="0.7" fill="#80766e" opacity="0.37"/><ellipse cx="440.7" cy="175.7" rx="1.0" ry="1.0" fill="#6f7080" opacity="0.41"/><ellipse cx="441.6" cy="178.9" rx="0.7" ry="0.6" fill="#77788a" opacity="0.45"/><ellipse cx="442.6" cy="182.0" rx="1.1" ry="1.0" fill="#7d7470" opacity="0.47"/><ellipse cx="439.5" cy="184.1" rx="0.9" ry="1.0" fill="#77788a" opacity="0.48"/><ellipse cx="444.3" cy="186.2" rx="1.0" ry="1.2" fill="#6f7080" opacity="0.53"/><ellipse cx="442.2" cy="189.2" rx="0.6" ry="0.5" fill="#7d7470" opacity="0.58"/><ellipse cx="442.5" cy="191.2" rx="0.7" ry="0.8" fill="#6f7080" opacity="0.43"/><ellipse cx="442.8" cy="194.9" rx="0.6" ry="0.5" fill="#77788a" opacity="0.48"/><ellipse cx="445.9" cy="139.3" rx="1.1" ry="0.8" fill="#77788a" opacity="0.35"/><ellipse cx="442.6" cy="143.2" rx="0.9" ry="1.1" fill="#80766e" opacity="0.50"/><ellipse cx="443.7" cy="146.1" rx="0.7" ry="0.8" fill="#80766e" opacity="0.36"/><ellipse cx="441.7" cy="149.0" rx="0.7" ry="0.5" fill="#80766e" opacity="0.47"/><ellipse cx="444.7" cy="150.6" rx="0.9" ry="0.8" fill="#7d7470" opacity="0.61"/><ellipse cx="447.4" cy="152.9" rx="0.9" ry="0.8" fill="#77788a" opacity="0.45"/><ellipse cx="444.4" cy="155.4" rx="0.9" ry="1.0" fill="#7d7470" opacity="0.43"/><ellipse cx="448.1" cy="158.5" rx="1.0" ry="0.9" fill="#6f7080" opacity="0.55"/><ellipse cx="447.4" cy="160.4" rx="0.6" ry="0.7" fill="#77788a" opacity="0.49"/><ellipse cx="446.8" cy="163.6" rx="1.1" ry="1.0" fill="#80766e" opacity="0.55"/><ellipse cx="446.7" cy="166.3" rx="1.1" ry="0.8" fill="#7d7470" opacity="0.44"/><ellipse cx="451.2" cy="168.4" rx="1.1" ry="1.2" fill="#80766e" opacity="0.48"/><ellipse cx="448.3" cy="171.5" rx="0.9" ry="1.1" fill="#6f7080" opacity="0.52"/><ellipse cx="446.8" cy="174.1" rx="1.1" ry="0.9" fill="#80766e" opacity="0.43"/><ellipse cx="449.4" cy="176.6" rx="1.1" ry="0.9" fill="#80766e" opacity="0.37"/><ellipse cx="448.8" cy="179.3" rx="1.1" ry="1.2" fill="#80766e" opacity="0.37"/><ellipse cx="451.1" cy="182.1" rx="0.8" ry="0.8" fill="#6f7080" opacity="0.56"/><ellipse cx="452.4" cy="183.8" rx="0.9" ry="1.1" fill="#7d7470" opacity="0.58"/><ellipse cx="451.1" cy="186.8" rx="0.6" ry="0.7" fill="#6f7080" opacity="0.51"/><ellipse cx="453.7" cy="188.8" rx="0.7" ry="0.7" fill="#80766e" opacity="0.55"/><ellipse cx="452.1" cy="191.4" rx="0.7" ry="0.7" fill="#80766e" opacity="0.49"/><ellipse cx="454.5" cy="194.0" rx="0.8" ry="0.6" fill="#6f7080" opacity="0.46"/><ellipse cx="441.7" cy="137.4" rx="1.0" ry="1.0" fill="#7d7470" opacity="0.46"/><ellipse cx="442.5" cy="139.2" rx="0.8" ry="0.8" fill="#77788a" opacity="0.51"/><ellipse cx="445.6" cy="141.5" rx="0.9" ry="1.1" fill="#7d7470" opacity="0.41"/><ellipse cx="442.6" cy="144.1" rx="1.1" ry="1.1" fill="#77788a" opacity="0.57"/><ellipse cx="446.6" cy="146.5" rx="0.6" ry="0.7" fill="#6f7080" opacity="0.41"/><ellipse cx="444.9" cy="150.2" rx="1.0" ry="0.9" fill="#7d7470" opacity="0.60"/><ellipse cx="442.5" cy="153.3" rx="1.0" ry="0.9" fill="#6f7080" opacity="0.42"/><ellipse cx="445.4" cy="154.7" rx="0.9" ry="0.7" fill="#6f7080" opacity="0.59"/><ellipse cx="446.2" cy="158.3" rx="0.9" ry="1.0" fill="#80766e" opacity="0.46"/><ellipse cx="446.2" cy="160.7" rx="0.7" ry="0.8" fill="#7d7470" opacity="0.49"/><ellipse cx="449.3" cy="161.8" rx="1.1" ry="1.1" fill="#77788a" opacity="0.38"/><ellipse cx="447.7" cy="164.8" rx="0.8" ry="0.9" fill="#80766e" opacity="0.37"/><ellipse cx="446.2" cy="167.9" rx="0.7" ry="0.6" fill="#7d7470" opacity="0.56"/><ellipse cx="448.5" cy="170.5" rx="0.9" ry="0.7" fill="#77788a" opacity="0.46"/><ellipse cx="449.3" cy="173.1" rx="0.7" ry="0.5" fill="#6f7080" opacity="0.47"/><ellipse cx="448.6" cy="175.6" rx="0.7" ry="0.5" fill="#77788a" opacity="0.49"/><ellipse cx="451.4" cy="178.3" rx="1.0" ry="1.0" fill="#80766e" opacity="0.56"/><ellipse cx="448.1" cy="181.6" rx="0.8" ry="0.7" fill="#6f7080" opacity="0.49"/><ellipse cx="453.6" cy="183.4" rx="1.1" ry="0.9" fill="#77788a" opacity="0.44"/><ellipse cx="452.2" cy="186.1" rx="1.0" ry="0.7" fill="#80766e" opacity="0.44"/><ellipse cx="450.3" cy="188.8" rx="1.0" ry="1.0" fill="#80766e" opacity="0.38"/><ellipse cx="454.6" cy="191.2" rx="0.7" ry="0.7" fill="#7d7470" opacity="0.37"/><ellipse cx="451.4" cy="194.1" rx="0.9" ry="0.8" fill="#6f7080" opacity="0.51"/><ellipse cx="452.1" cy="137.5" rx="0.6" ry="0.8" fill="#77788a" opacity="0.61"/><ellipse cx="452.7" cy="139.8" rx="0.8" ry="1.0" fill="#80766e" opacity="0.53"/><ellipse cx="454.9" cy="141.7" rx="0.6" ry="0.7" fill="#77788a" opacity="0.49"/><ellipse cx="453.6" cy="145.2" rx="0.8" ry="0.8" fill="#6f7080" opacity="0.65"/><ellipse cx="454.5" cy="147.7" rx="0.9" ry="0.7" fill="#7d7470" opacity="0.53"/><ellipse cx="454.3" cy="149.4" rx="1.1" ry="1.0" fill="#7d7470" opacity="0.43"/><ellipse cx="453.8" cy="153.1" rx="1.0" ry="1.1" fill="#77788a" opacity="0.45"/><ellipse cx="455.6" cy="155.3" rx="0.9" ry="1.0" fill="#80766e" opacity="0.54"/><ellipse cx="458.0" cy="158.0" rx="1.0" ry="1.2" fill="#7d7470" opacity="0.45"/><ellipse cx="453.7" cy="160.1" rx="1.1" ry="0.9" fill="#6f7080" opacity="0.47"/><ellipse cx="456.4" cy="163.1" rx="0.8" ry="0.9" fill="#77788a" opacity="0.42"/><ellipse cx="455.0" cy="165.5" rx="0.6" ry="0.5" fill="#7d7470" opacity="0.46"/><ellipse cx="458.5" cy="168.6" rx="1.0" ry="0.7" fill="#80766e" opacity="0.63"/><ellipse cx="456.4" cy="170.7" rx="0.9" ry="0.7" fill="#6f7080" opacity="0.36"/><ellipse cx="458.1" cy="172.6" rx="1.1" ry="1.0" fill="#6f7080" opacity="0.47"/><ellipse cx="460.1" cy="176.4" rx="0.7" ry="0.5" fill="#7d7470" opacity="0.48"/><ellipse cx="460.8" cy="178.2" rx="0.6" ry="0.6" fill="#77788a" opacity="0.39"/><ellipse cx="459.5" cy="181.0" rx="0.8" ry="0.6" fill="#6f7080" opacity="0.57"/><ellipse cx="458.7" cy="183.3" rx="1.1" ry="0.8" fill="#7d7470" opacity="0.53"/><ellipse cx="460.7" cy="187.0" rx="0.7" ry="0.7" fill="#7d7470" opacity="0.60"/><ellipse cx="459.3" cy="189.5" rx="1.1" ry="0.8" fill="#77788a" opacity="0.42"/><ellipse cx="463.0" cy="190.8" rx="0.6" ry="0.6" fill="#77788a" opacity="0.40"/><ellipse cx="461.7" cy="194.3" rx="0.8" ry="0.6" fill="#77788a" opacity="0.47"/><ellipse cx="460.8" cy="128.7" rx="0.7" ry="0.6" fill="#77788a" opacity="0.48"/><ellipse cx="462.7" cy="131.6" rx="1.1" ry="0.9" fill="#6f7080" opacity="0.63"/><ellipse cx="465.0" cy="132.8" rx="0.8" ry="0.8" fill="#77788a" opacity="0.43"/><ellipse cx="462.4" cy="136.2" rx="0.7" ry="0.9" fill="#77788a" opacity="0.56"/><ellipse cx="463.9" cy="139.7" rx="1.1" ry="1.2" fill="#77788a" opacity="0.52"/><ellipse cx="463.4" cy="141.2" rx="0.8" ry="0.9" fill="#6f7080" opacity="0.65"/><ellipse cx="467.2" cy="144.4" rx="0.7" ry="0.6" fill="#77788a" opacity="0.39"/><ellipse cx="468.6" cy="146.8" rx="0.6" ry="0.6" fill="#6f7080" opacity="0.41"/><ellipse cx="467.0" cy="150.0" rx="1.0" ry="1.1" fill="#77788a" opacity="0.43"/><ellipse cx="465.7" cy="152.0" rx="1.0" ry="0.8" fill="#6f7080" opacity="0.41"/><ellipse cx="466.9" cy="154.8" rx="0.6" ry="0.4" fill="#6f7080" opacity="0.54"/><ellipse cx="467.2" cy="157.3" rx="0.9" ry="0.6" fill="#80766e" opacity="0.56"/><ellipse cx="469.8" cy="159.2" rx="1.1" ry="1.3" fill="#80766e" opacity="0.43"/><ellipse cx="467.9" cy="162.7" rx="0.7" ry="0.8" fill="#80766e" opacity="0.51"/><ellipse cx="466.8" cy="165.7" rx="1.1" ry="0.9" fill="#7d7470" opacity="0.56"/><ellipse cx="470.0" cy="167.6" rx="1.1" ry="1.0" fill="#7d7470" opacity="0.52"/><ellipse cx="469.0" cy="170.8" rx="0.7" ry="0.5" fill="#80766e" opacity="0.55"/><ellipse cx="469.9" cy="172.7" rx="0.7" ry="0.7" fill="#6f7080" opacity="0.63"/><ellipse cx="471.1" cy="174.9" rx="0.7" ry="0.7" fill="#77788a" opacity="0.40"/><ellipse cx="471.9" cy="177.9" rx="0.7" ry="0.7" fill="#6f7080" opacity="0.63"/><ellipse cx="471.8" cy="180.7" rx="0.8" ry="0.9" fill="#7d7470" opacity="0.61"/><ellipse cx="472.6" cy="183.7" rx="1.1" ry="1.0" fill="#6f7080" opacity="0.54"/><ellipse cx="470.4" cy="186.5" rx="0.7" ry="0.7" fill="#7d7470" opacity="0.50"/><ellipse cx="472.1" cy="188.2" rx="0.7" ry="0.7" fill="#77788a" opacity="0.65"/><ellipse cx="473.2" cy="191.9" rx="0.9" ry="1.0" fill="#80766e" opacity="0.64"/><ellipse cx="471.8" cy="194.7" rx="1.1" ry="1.2" fill="#6f7080" opacity="0.37"/><ellipse cx="472.0" cy="127.7" rx="1.1" ry="1.3" fill="#80766e" opacity="0.39"/><ellipse cx="473.7" cy="130.7" rx="0.9" ry="1.0" fill="#80766e" opacity="0.54"/><ellipse cx="474.7" cy="133.0" rx="1.0" ry="0.7" fill="#7d7470" opacity="0.49"/><ellipse cx="470.8" cy="136.0" rx="0.7" ry="0.8" fill="#77788a" opacity="0.52"/><ellipse cx="473.7" cy="138.3" rx="1.1" ry="1.0" fill="#77788a" opacity="0.45"/><ellipse cx="472.9" cy="141.1" rx="1.0" ry="0.8" fill="#77788a" opacity="0.64"/><ellipse cx="476.7" cy="143.5" rx="1.0" ry="1.1" fill="#7d7470" opacity="0.49"/><ellipse cx="472.7" cy="146.8" rx="1.1" ry="0.9" fill="#77788a" opacity="0.48"/><ellipse cx="475.8" cy="148.8" rx="0.6" ry="0.6" fill="#77788a" opacity="0.59"/><ellipse cx="475.1" cy="151.7" rx="1.1" ry="1.0" fill="#6f7080" opacity="0.42"/><ellipse cx="476.2" cy="154.7" rx="1.0" ry="1.1" fill="#6f7080" opacity="0.55"/><ellipse cx="475.6" cy="158.0" rx="1.1" ry="0.9" fill="#77788a" opacity="0.39"/><ellipse cx="475.3" cy="159.5" rx="0.9" ry="0.9" fill="#6f7080" opacity="0.41"/><ellipse cx="474.8" cy="162.3" rx="0.7" ry="0.7" fill="#7d7470" opacity="0.39"/><ellipse cx="479.2" cy="165.3" rx="1.0" ry="1.0" fill="#80766e" opacity="0.47"/><ellipse cx="479.1" cy="167.9" rx="0.8" ry="0.7" fill="#6f7080" opacity="0.39"/><ellipse cx="480.1" cy="169.8" rx="0.7" ry="0.8" fill="#7d7470" opacity="0.60"/><ellipse cx="478.4" cy="173.0" rx="1.0" ry="0.8" fill="#6f7080" opacity="0.52"/><ellipse cx="478.0" cy="176.7" rx="0.9" ry="0.9" fill="#7d7470" opacity="0.64"/><ellipse cx="477.0" cy="178.9" rx="0.9" ry="0.9" fill="#80766e" opacity="0.42"/><ellipse cx="481.1" cy="181.5" rx="0.7" ry="0.6" fill="#80766e" opacity="0.59"/><ellipse cx="479.2" cy="183.5" rx="0.9" ry="0.7" fill="#6f7080" opacity="0.50"/><ellipse cx="481.3" cy="185.4" rx="1.0" ry="1.0" fill="#7d7470" opacity="0.49"/><ellipse cx="481.1" cy="189.1" rx="0.8" ry="0.6" fill="#80766e" opacity="0.48"/><ellipse cx="480.4" cy="191.4" rx="1.0" ry="1.1" fill="#77788a" opacity="0.39"/><ellipse cx="480.8" cy="194.9" rx="0.6" ry="0.6" fill="#77788a" opacity="0.50"/><ellipse cx="485.4" cy="118.5" rx="0.8" ry="0.7" fill="#6f7080" opacity="0.64"/><ellipse cx="485.8" cy="122.0" rx="1.0" ry="0.9" fill="#6f7080" opacity="0.55"/><ellipse cx="486.7" cy="123.6" rx="0.9" ry="0.9" fill="#80766e" opacity="0.38"/><ellipse cx="485.9" cy="126.3" rx="0.6" ry="0.5" fill="#6f7080" opacity="0.38"/><ellipse cx="485.1" cy="129.1" rx="0.9" ry="1.0" fill="#77788a" opacity="0.60"/><ellipse cx="484.9" cy="132.8" rx="0.6" ry="0.6" fill="#77788a" opacity="0.62"/><ellipse cx="487.9" cy="134.1" rx="1.0" ry="1.0" fill="#7d7470" opacity="0.47"/><ellipse cx="485.5" cy="137.5" rx="0.7" ry="0.7" fill="#6f7080" opacity="0.37"/><ellipse cx="489.3" cy="139.5" rx="0.9" ry="0.9" fill="#80766e" opacity="0.35"/><ellipse cx="488.6" cy="143.1" rx="1.1" ry="0.9" fill="#7d7470" opacity="0.49"/><ellipse cx="490.3" cy="145.0" rx="1.1" ry="1.0" fill="#7d7470" opacity="0.54"/><ellipse cx="487.8" cy="147.5" rx="0.8" ry="1.0" fill="#77788a" opacity="0.62"/><ellipse cx="488.1" cy="150.3" rx="0.7" ry="0.8" fill="#6f7080" opacity="0.48"/><ellipse cx="488.4" cy="152.9" rx="0.9" ry="0.8" fill="#80766e" opacity="0.50"/><ellipse cx="487.2" cy="156.5" rx="1.0" ry="0.8" fill="#80766e" opacity="0.52"/><ellipse cx="492.8" cy="158.3" rx="0.9" ry="1.0" fill="#7d7470" opacity="0.60"/><ellipse cx="490.9" cy="159.7" rx="0.8" ry="0.6" fill="#80766e" opacity="0.45"/><ellipse cx="489.6" cy="162.8" rx="0.8" ry="0.7" fill="#7d7470" opacity="0.41"/><ellipse cx="490.4" cy="166.3" rx="0.8" ry="0.8" fill="#77788a" opacity="0.57"/><ellipse cx="491.9" cy="168.0" rx="0.8" ry="0.7" fill="#80766e" opacity="0.38"/><ellipse cx="491.6" cy="171.7" rx="0.8" ry="0.7" fill="#77788a" opacity="0.40"/><ellipse cx="492.6" cy="174.2" rx="0.7" ry="0.8" fill="#77788a" opacity="0.49"/><ellipse cx="491.1" cy="176.9" rx="0.8" ry="0.6" fill="#80766e" opacity="0.61"/><ellipse cx="492.2" cy="178.8" rx="0.6" ry="0.5" fill="#6f7080" opacity="0.59"/><ellipse cx="491.0" cy="181.4" rx="0.8" ry="0.8" fill="#80766e" opacity="0.57"/><ellipse cx="492.5" cy="183.8" rx="0.7" ry="0.5" fill="#77788a" opacity="0.44"/><ellipse cx="494.9" cy="186.0" rx="0.9" ry="0.8" fill="#80766e" opacity="0.55"/><ellipse cx="491.4" cy="189.2" rx="0.9" ry="0.8" fill="#6f7080" opacity="0.54"/><ellipse cx="494.7" cy="190.8" rx="0.7" ry="0.8" fill="#77788a" opacity="0.57"/><ellipse cx="495.9" cy="193.3" rx="0.6" ry="0.6" fill="#7d7470" opacity="0.36"/><ellipse cx="493.1" cy="118.6" rx="0.9" ry="0.8" fill="#6f7080" opacity="0.50"/><ellipse cx="495.8" cy="122.0" rx="1.1" ry="1.2" fill="#7d7470" opacity="0.55"/><ellipse cx="496.1" cy="124.0" rx="0.9" ry="1.0" fill="#77788a" opacity="0.60"/><ellipse cx="495.2" cy="127.4" rx="0.9" ry="0.9" fill="#77788a" opacity="0.53"/><ellipse cx="493.2" cy="129.2" rx="1.1" ry="0.9" fill="#80766e" opacity="0.38"/><ellipse cx="495.4" cy="132.3" rx="1.1" ry="1.0" fill="#6f7080" opacity="0.42"/><ellipse cx="494.1" cy="135.3" rx="0.8" ry="0.6" fill="#80766e" opacity="0.57"/><ellipse cx="497.7" cy="136.4" rx="1.1" ry="1.1" fill="#77788a" opacity="0.48"/><ellipse cx="495.6" cy="139.6" rx="0.8" ry="0.8" fill="#80766e" opacity="0.39"/><ellipse cx="495.3" cy="142.8" rx="0.9" ry="0.7" fill="#80766e" opacity="0.47"/><ellipse cx="499.0" cy="144.7" rx="1.1" ry="1.3" fill="#7d7470" opacity="0.56"/><ellipse cx="496.8" cy="147.3" rx="1.1" ry="1.0" fill="#6f7080" opacity="0.55"/><ellipse cx="498.4" cy="149.8" rx="1.1" ry="1.3" fill="#77788a" opacity="0.55"/><ellipse cx="498.9" cy="152.1" rx="0.7" ry="0.5" fill="#6f7080" opacity="0.51"/><ellipse cx="499.3" cy="155.2" rx="0.9" ry="0.7" fill="#6f7080" opacity="0.58"/><ellipse cx="496.1" cy="158.4" rx="0.7" ry="0.7" fill="#6f7080" opacity="0.57"/><ellipse cx="499.6" cy="160.0" rx="0.7" ry="0.7" fill="#77788a" opacity="0.64"/><ellipse cx="496.5" cy="164.3" rx="1.1" ry="1.2" fill="#6f7080" opacity="0.52"/><ellipse cx="500.4" cy="165.0" rx="1.1" ry="0.8" fill="#77788a" opacity="0.50"/><ellipse cx="503.2" cy="168.3" rx="0.6" ry="0.6" fill="#80766e" opacity="0.61"/><ellipse cx="501.5" cy="170.4" rx="0.6" ry="0.8" fill="#80766e" opacity="0.57"/><ellipse cx="500.0" cy="174.2" rx="0.9" ry="0.7" fill="#80766e" opacity="0.48"/><ellipse cx="501.9" cy="176.6" rx="1.1" ry="1.3" fill="#7d7470" opacity="0.39"/><ellipse cx="502.9" cy="179.3" rx="1.1" ry="1.0" fill="#7d7470" opacity="0.55"/><ellipse cx="501.0" cy="180.7" rx="1.0" ry="1.0" fill="#6f7080" opacity="0.37"/><ellipse cx="504.2" cy="183.9" rx="0.8" ry="0.9" fill="#77788a" opacity="0.55"/><ellipse cx="501.9" cy="186.8" rx="1.0" ry="1.3" fill="#80766e" opacity="0.58"/><ellipse cx="506.8" cy="188.7" rx="0.9" ry="0.7" fill="#6f7080" opacity="0.46"/><ellipse cx="502.8" cy="191.0" rx="1.1" ry="1.1" fill="#77788a" opacity="0.58"/><ellipse cx="506.0" cy="194.7" rx="0.9" ry="1.0" fill="#80766e" opacity="0.56"/><ellipse cx="504.2" cy="110.9" rx="0.9" ry="0.8" fill="#77788a" opacity="0.56"/><ellipse cx="505.1" cy="112.7" rx="0.8" ry="0.7" fill="#77788a" opacity="0.38"/><ellipse cx="505.5" cy="116.0" rx="0.9" ry="1.0" fill="#6f7080" opacity="0.42"/><ellipse cx="505.2" cy="117.9" rx="0.8" ry="0.9" fill="#6f7080" opacity="0.45"/><ellipse cx="507.6" cy="121.5" rx="0.8" ry="0.7" fill="#6f7080" opacity="0.64"/><ellipse cx="507.7" cy="124.0" rx="1.0" ry="1.2" fill="#7d7470" opacity="0.61"/><ellipse cx="506.0" cy="126.9" rx="1.0" ry="1.1" fill="#7d7470" opacity="0.60"/><ellipse cx="506.6" cy="128.4" rx="0.8" ry="0.8" fill="#80766e" opacity="0.64"/><ellipse cx="507.7" cy="131.6" rx="0.8" ry="0.6" fill="#77788a" opacity="0.43"/><ellipse cx="503.7" cy="134.3" rx="0.8" ry="0.8" fill="#6f7080" opacity="0.60"/><ellipse cx="508.9" cy="137.5" rx="1.0" ry="1.1" fill="#6f7080" opacity="0.38"/><ellipse cx="508.6" cy="139.5" rx="0.6" ry="0.5" fill="#7d7470" opacity="0.42"/><ellipse cx="510.9" cy="142.1" rx="0.7" ry="0.8" fill="#80766e" opacity="0.61"/><ellipse cx="510.2" cy="144.5" rx="0.8" ry="0.7" fill="#77788a" opacity="0.63"/><ellipse cx="507.7" cy="147.7" rx="1.0" ry="0.9" fill="#7d7470" opacity="0.47"/><ellipse cx="508.1" cy="150.1" rx="0.8" ry="0.6" fill="#6f7080" opacity="0.45"/><ellipse cx="510.6" cy="152.8" rx="0.6" ry="0.7" fill="#80766e" opacity="0.37"/><ellipse cx="509.5" cy="154.6" rx="0.6" ry="0.6" fill="#80766e" opacity="0.64"/><ellipse cx="510.5" cy="157.4" rx="0.7" ry="0.5" fill="#80766e" opacity="0.52"/><ellipse cx="509.9" cy="160.3" rx="0.9" ry="1.0" fill="#6f7080" opacity="0.60"/><ellipse cx="511.0" cy="163.0" rx="0.9" ry="1.1" fill="#77788a" opacity="0.42"/><ellipse cx="511.3" cy="164.9" rx="0.8" ry="0.9" fill="#7d7470" opacity="0.42"/><ellipse cx="508.8" cy="168.0" rx="1.1" ry="1.1" fill="#77788a" opacity="0.60"/><ellipse cx="513.0" cy="171.2" rx="0.7" ry="0.6" fill="#77788a" opacity="0.35"/><ellipse cx="510.8" cy="174.2" rx="0.6" ry="0.7" fill="#7d7470" opacity="0.53"/><ellipse cx="515.0" cy="175.9" rx="0.7" ry="0.6" fill="#77788a" opacity="0.39"/><ellipse cx="513.3" cy="177.9" rx="0.7" ry="0.7" fill="#6f7080" opacity="0.35"/><ellipse cx="515.1" cy="181.0" rx="0.9" ry="0.9" fill="#7d7470" opacity="0.56"/><ellipse cx="513.4" cy="183.4" rx="0.8" ry="0.7" fill="#77788a" opacity="0.50"/><ellipse cx="512.7" cy="186.3" rx="1.1" ry="1.0" fill="#77788a" opacity="0.63"/><ellipse cx="513.7" cy="189.6" rx="1.1" ry="0.9" fill="#80766e" opacity="0.63"/><ellipse cx="515.8" cy="191.0" rx="0.6" ry="0.5" fill="#77788a" opacity="0.45"/><ellipse cx="514.6" cy="194.8" rx="1.1" ry="0.8" fill="#6f7080" opacity="0.39"/><ellipse cx="514.9" cy="110.7" rx="1.0" ry="1.0" fill="#7d7470" opacity="0.53"/><ellipse cx="515.3" cy="113.1" rx="0.9" ry="0.7" fill="#80766e" opacity="0.62"/><ellipse cx="513.2" cy="115.6" rx="0.9" ry="0.9" fill="#7d7470" opacity="0.45"/><ellipse cx="516.0" cy="117.9" rx="0.8" ry="0.6" fill="#6f7080" opacity="0.48"/><ellipse cx="514.5" cy="121.8" rx="1.1" ry="1.2" fill="#6f7080" opacity="0.44"/><ellipse cx="512.4" cy="124.2" rx="0.9" ry="0.9" fill="#77788a" opacity="0.46"/><ellipse cx="515.9" cy="127.1" rx="1.0" ry="1.0" fill="#7d7470" opacity="0.57"/><ellipse cx="517.4" cy="129.4" rx="0.6" ry="0.7" fill="#80766e" opacity="0.60"/><ellipse cx="515.9" cy="131.9" rx="1.0" ry="0.8" fill="#77788a" opacity="0.55"/><ellipse cx="516.1" cy="133.7" rx="0.6" ry="0.6" fill="#7d7470" opacity="0.60"/><ellipse cx="516.7" cy="137.5" rx="0.9" ry="1.1" fill="#77788a" opacity="0.36"/><ellipse cx="515.3" cy="139.4" rx="0.7" ry="0.5" fill="#7d7470" opacity="0.36"/><ellipse cx="516.3" cy="142.3" rx="0.8" ry="1.0" fill="#7d7470" opacity="0.49"/><ellipse cx="518.4" cy="144.1" rx="1.1" ry="1.0" fill="#77788a" opacity="0.46"/><ellipse cx="517.9" cy="147.1" rx="0.7" ry="0.6" fill="#6f7080" opacity="0.57"/><ellipse cx="518.7" cy="149.9" rx="1.0" ry="1.1" fill="#7d7470" opacity="0.62"/><ellipse cx="518.0" cy="152.3" rx="1.1" ry="1.1" fill="#6f7080" opacity="0.59"/><ellipse cx="519.4" cy="154.3" rx="0.9" ry="0.8" fill="#77788a" opacity="0.38"/><ellipse cx="522.0" cy="157.8" rx="0.7" ry="0.7" fill="#6f7080" opacity="0.41"/><ellipse cx="518.1" cy="161.1" rx="1.0" ry="0.8" fill="#7d7470" opacity="0.54"/><ellipse cx="520.3" cy="163.0" rx="0.8" ry="0.7" fill="#6f7080" opacity="0.42"/><ellipse cx="519.2" cy="165.9" rx="0.7" ry="0.5" fill="#6f7080" opacity="0.39"/><ellipse cx="522.5" cy="167.3" rx="1.0" ry="0.9" fill="#77788a" opacity="0.55"/><ellipse cx="522.2" cy="170.7" rx="0.7" ry="0.6" fill="#77788a" opacity="0.63"/><ellipse cx="521.9" cy="173.0" rx="0.9" ry="0.9" fill="#80766e" opacity="0.49"/><ellipse cx="523.7" cy="176.4" rx="1.0" ry="1.1" fill="#77788a" opacity="0.41"/><ellipse cx="523.6" cy="177.7" rx="0.9" ry="0.7" fill="#80766e" opacity="0.49"/><ellipse cx="524.2" cy="180.4" rx="0.9" ry="0.7" fill="#77788a" opacity="0.53"/><ellipse cx="523.1" cy="184.5" rx="0.9" ry="0.9" fill="#7d7470" opacity="0.44"/><ellipse cx="525.3" cy="185.9" rx="1.0" ry="0.8" fill="#7d7470" opacity="0.64"/><ellipse cx="522.7" cy="189.1" rx="1.1" ry="1.2" fill="#80766e" opacity="0.48"/><ellipse cx="524.8" cy="190.9" rx="1.1" ry="0.9" fill="#80766e" opacity="0.65"/><ellipse cx="522.1" cy="194.4" rx="1.1" ry="1.1" fill="#6f7080" opacity="0.55"/><ellipse cx="516.8" cy="105.2" rx="1.0" ry="0.9" fill="#80766e" opacity="0.57"/><ellipse cx="517.8" cy="107.5" rx="0.9" ry="0.8" fill="#77788a" opacity="0.62"/><ellipse cx="519.4" cy="109.6" rx="0.9" ry="1.1" fill="#77788a" opacity="0.55"/><ellipse cx="520.4" cy="112.6" rx="0.9" ry="0.7" fill="#80766e" opacity="0.37"/><ellipse cx="517.2" cy="116.2" rx="0.8" ry="0.7" fill="#77788a" opacity="0.53"/><ellipse cx="520.7" cy="118.7" rx="1.0" ry="0.7" fill="#80766e" opacity="0.45"/><ellipse cx="521.5" cy="121.3" rx="0.9" ry="1.0" fill="#77788a" opacity="0.63"/><ellipse cx="521.4" cy="122.8" rx="0.8" ry="0.7" fill="#80766e" opacity="0.42"/><ellipse cx="522.8" cy="125.6" rx="0.7" ry="0.8" fill="#80766e" opacity="0.54"/><ellipse cx="520.6" cy="129.3" rx="0.7" ry="0.7" fill="#6f7080" opacity="0.46"/><ellipse cx="520.1" cy="131.2" rx="1.1" ry="1.2" fill="#6f7080" opacity="0.46"/><ellipse cx="522.3" cy="134.5" rx="0.8" ry="0.7" fill="#7d7470" opacity="0.51"/><ellipse cx="525.5" cy="136.1" rx="1.0" ry="0.8" fill="#77788a" opacity="0.35"/><ellipse cx="523.9" cy="138.2" rx="1.1" ry="0.9" fill="#77788a" opacity="0.59"/><ellipse cx="521.9" cy="142.5" rx="1.1" ry="1.0" fill="#77788a" opacity="0.47"/><ellipse cx="522.4" cy="144.3" rx="1.1" ry="1.1" fill="#7d7470" opacity="0.53"/><ellipse cx="524.2" cy="147.5" rx="0.8" ry="0.8" fill="#77788a" opacity="0.47"/><ellipse cx="524.8" cy="149.3" rx="0.7" ry="0.6" fill="#80766e" opacity="0.43"/><ellipse cx="523.4" cy="152.4" rx="0.7" ry="0.7" fill="#77788a" opacity="0.42"/><ellipse cx="524.0" cy="155.1" rx="0.9" ry="1.0" fill="#77788a" opacity="0.45"/><ellipse cx="526.6" cy="158.0" rx="0.7" ry="0.5" fill="#77788a" opacity="0.61"/><ellipse cx="524.7" cy="159.5" rx="0.6" ry="0.4" fill="#6f7080" opacity="0.59"/><ellipse cx="526.3" cy="162.7" rx="1.1" ry="1.1" fill="#7d7470" opacity="0.48"/><ellipse cx="524.5" cy="165.5" rx="1.0" ry="1.1" fill="#7d7470" opacity="0.36"/><ellipse cx="525.8" cy="168.4" rx="0.7" ry="0.7" fill="#6f7080" opacity="0.44"/><ellipse cx="527.0" cy="171.2" rx="0.8" ry="0.9" fill="#80766e" opacity="0.43"/><ellipse cx="525.6" cy="172.5" rx="0.8" ry="0.9" fill="#6f7080" opacity="0.56"/><ellipse cx="527.2" cy="175.5" rx="0.9" ry="0.8" fill="#80766e" opacity="0.42"/><ellipse cx="527.1" cy="178.2" rx="1.1" ry="1.0" fill="#6f7080" opacity="0.61"/><ellipse cx="528.8" cy="180.1" rx="0.8" ry="0.7" fill="#80766e" opacity="0.51"/><ellipse cx="528.4" cy="183.4" rx="0.9" ry="1.0" fill="#80766e" opacity="0.63"/><ellipse cx="529.9" cy="186.1" rx="1.0" ry="0.8" fill="#77788a" opacity="0.47"/><ellipse cx="528.7" cy="189.5" rx="0.9" ry="0.8" fill="#77788a" opacity="0.58"/><ellipse cx="529.7" cy="191.4" rx="0.7" ry="0.7" fill="#80766e" opacity="0.37"/><ellipse cx="528.8" cy="193.8" rx="0.7" ry="0.7" fill="#7d7470" opacity="0.51"/><ellipse cx="529.9" cy="104.1" rx="0.6" ry="0.5" fill="#80766e" opacity="0.49"/><ellipse cx="529.8" cy="107.5" rx="0.8" ry="0.9" fill="#6f7080" opacity="0.61"/><ellipse cx="529.1" cy="110.8" rx="1.1" ry="1.1" fill="#7d7470" opacity="0.53"/><ellipse cx="528.9" cy="112.0" rx="0.7" ry="0.6" fill="#6f7080" opacity="0.48"/><ellipse cx="526.9" cy="115.2" rx="0.8" ry="0.8" fill="#7d7470" opacity="0.45"/><ellipse cx="530.5" cy="117.6" rx="0.9" ry="1.0" fill="#80766e" opacity="0.48"/><ellipse cx="529.0" cy="120.6" rx="1.0" ry="0.8" fill="#6f7080" opacity="0.48"/><ellipse cx="531.1" cy="123.2" rx="0.6" ry="0.5" fill="#80766e" opacity="0.51"/><ellipse cx="530.3" cy="126.3" rx="0.6" ry="0.8" fill="#77788a" opacity="0.59"/><ellipse cx="527.5" cy="128.5" rx="0.6" ry="0.5" fill="#7d7470" opacity="0.62"/><ellipse cx="530.5" cy="131.8" rx="1.0" ry="0.8" fill="#6f7080" opacity="0.60"/><ellipse cx="531.4" cy="133.4" rx="0.7" ry="0.5" fill="#80766e" opacity="0.49"/><ellipse cx="532.0" cy="136.1" rx="0.6" ry="0.6" fill="#7d7470" opacity="0.51"/><ellipse cx="529.2" cy="139.7" rx="0.8" ry="0.8" fill="#6f7080" opacity="0.49"/><ellipse cx="530.8" cy="141.3" rx="1.0" ry="1.0" fill="#6f7080" opacity="0.43"/><ellipse cx="533.6" cy="144.1" rx="0.9" ry="0.7" fill="#6f7080" opacity="0.41"/><ellipse cx="532.3" cy="146.8" rx="1.0" ry="0.9" fill="#80766e" opacity="0.60"/><ellipse cx="533.7" cy="148.9" rx="1.0" ry="1.2" fill="#7d7470" opacity="0.41"/><ellipse cx="532.4" cy="152.1" rx="0.8" ry="0.6" fill="#77788a" opacity="0.40"/><ellipse cx="534.5" cy="154.5" rx="0.8" ry="0.6" fill="#80766e" opacity="0.55"/><ellipse cx="533.0" cy="157.2" rx="1.0" ry="0.9" fill="#7d7470" opacity="0.48"/><ellipse cx="532.7" cy="161.0" rx="1.1" ry="1.2" fill="#80766e" opacity="0.47"/><ellipse cx="536.0" cy="162.6" rx="0.6" ry="0.6" fill="#6f7080" opacity="0.47"/><ellipse cx="533.2" cy="165.2" rx="1.0" ry="0.7" fill="#77788a" opacity="0.54"/><ellipse cx="535.4" cy="167.3" rx="1.0" ry="0.8" fill="#7d7470" opacity="0.47"/><ellipse cx="536.6" cy="171.1" rx="0.8" ry="0.9" fill="#6f7080" opacity="0.45"/><ellipse cx="535.3" cy="172.5" rx="1.0" ry="1.0" fill="#77788a" opacity="0.60"/><ellipse cx="535.6" cy="176.0" rx="1.0" ry="1.1" fill="#77788a" opacity="0.54"/><ellipse cx="538.9" cy="177.9" rx="0.7" ry="0.7" fill="#77788a" opacity="0.46"/><ellipse cx="536.6" cy="181.3" rx="1.0" ry="1.1" fill="#80766e" opacity="0.37"/><ellipse cx="540.1" cy="182.7" rx="0.9" ry="0.7" fill="#6f7080" opacity="0.46"/><ellipse cx="536.7" cy="185.6" rx="1.1" ry="0.8" fill="#80766e" opacity="0.51"/><ellipse cx="539.0" cy="189.3" rx="1.0" ry="0.9" fill="#6f7080" opacity="0.65"/><ellipse cx="538.2" cy="191.6" rx="0.9" ry="0.7" fill="#80766e" opacity="0.48"/><ellipse cx="540.2" cy="194.2" rx="0.6" ry="0.5" fill="#77788a" opacity="0.59"/><ellipse cx="534.0" cy="98.4" rx="0.8" ry="0.8" fill="#6f7080" opacity="0.47"/><ellipse cx="532.9" cy="100.5" rx="0.6" ry="0.5" fill="#6f7080" opacity="0.51"/><ellipse cx="536.3" cy="104.2" rx="0.7" ry="0.6" fill="#80766e" opacity="0.38"/><ellipse cx="535.0" cy="106.9" rx="0.8" ry="0.9" fill="#80766e" opacity="0.50"/><ellipse cx="533.6" cy="108.6" rx="1.0" ry="1.0" fill="#80766e" opacity="0.64"/><ellipse cx="536.9" cy="111.7" rx="0.8" ry="0.7" fill="#80766e" opacity="0.46"/><ellipse cx="537.4" cy="114.2" rx="0.7" ry="0.8" fill="#7d7470" opacity="0.61"/><ellipse cx="535.0" cy="116.7" rx="1.0" ry="0.7" fill="#77788a" opacity="0.63"/><ellipse cx="537.6" cy="119.2" rx="0.8" ry="0.7" fill="#7d7470" opacity="0.62"/><ellipse cx="536.1" cy="121.8" rx="1.1" ry="1.3" fill="#80766e" opacity="0.55"/><ellipse cx="535.6" cy="124.0" rx="0.9" ry="0.8" fill="#7d7470" opacity="0.49"/><ellipse cx="537.0" cy="127.0" rx="1.1" ry="0.9" fill="#77788a" opacity="0.55"/><ellipse cx="535.6" cy="129.4" rx="0.9" ry="1.0" fill="#80766e" opacity="0.64"/><ellipse cx="537.8" cy="132.4" rx="1.0" ry="1.2" fill="#6f7080" opacity="0.57"/><ellipse cx="538.2" cy="135.1" rx="1.0" ry="0.8" fill="#7d7470" opacity="0.54"/><ellipse cx="538.3" cy="136.6" rx="0.8" ry="0.9" fill="#77788a" opacity="0.54"/><ellipse cx="536.7" cy="139.9" rx="1.0" ry="0.8" fill="#80766e" opacity="0.56"/><ellipse cx="537.0" cy="142.2" rx="1.0" ry="0.7" fill="#7d7470" opacity="0.63"/><ellipse cx="537.6" cy="146.0" rx="0.8" ry="0.7" fill="#80766e" opacity="0.43"/><ellipse cx="540.9" cy="146.8" rx="1.1" ry="1.3" fill="#77788a" opacity="0.52"/><ellipse cx="539.4" cy="149.6" rx="1.1" ry="1.1" fill="#80766e" opacity="0.64"/><ellipse cx="541.7" cy="152.6" rx="0.8" ry="0.9" fill="#6f7080" opacity="0.53"/><ellipse cx="540.4" cy="156.1" rx="1.1" ry="0.9" fill="#77788a" opacity="0.44"/><ellipse cx="537.3" cy="158.3" rx="1.1" ry="1.1" fill="#7d7470" opacity="0.40"/><ellipse cx="541.5" cy="160.8" rx="0.8" ry="0.7" fill="#6f7080" opacity="0.52"/><ellipse cx="540.4" cy="162.9" rx="0.6" ry="0.7" fill="#7d7470" opacity="0.59"/><ellipse cx="541.3" cy="165.1" rx="0.8" ry="0.8" fill="#7d7470" opacity="0.54"/><ellipse cx="539.9" cy="168.3" rx="0.8" ry="0.7" fill="#77788a" opacity="0.50"/><ellipse cx="541.1" cy="170.9" rx="0.9" ry="0.9" fill="#6f7080" opacity="0.46"/><ellipse cx="541.6" cy="173.7" rx="1.0" ry="0.8" fill="#80766e" opacity="0.43"/><ellipse cx="541.8" cy="176.5" rx="1.0" ry="1.1" fill="#6f7080" opacity="0.59"/><ellipse cx="540.7" cy="178.7" rx="0.7" ry="0.8" fill="#7d7470" opacity="0.64"/><ellipse cx="544.5" cy="181.7" rx="1.0" ry="1.0" fill="#80766e" opacity="0.45"/><ellipse cx="546.1" cy="183.2" rx="0.6" ry="0.5" fill="#6f7080" opacity="0.44"/><ellipse cx="542.0" cy="185.8" rx="1.0" ry="1.0" fill="#77788a" opacity="0.44"/><ellipse cx="543.8" cy="188.3" rx="0.8" ry="0.9" fill="#6f7080" opacity="0.38"/><ellipse cx="545.6" cy="191.6" rx="0.9" ry="0.7" fill="#6f7080" opacity="0.38"/><ellipse cx="546.0" cy="194.4" rx="0.9" ry="1.0" fill="#80766e" opacity="0.52"/><ellipse cx="542.2" cy="98.1" rx="0.8" ry="0.7" fill="#77788a" opacity="0.47"/><ellipse cx="542.4" cy="100.6" rx="0.6" ry="0.6" fill="#80766e" opacity="0.42"/><ellipse cx="544.4" cy="103.8" rx="0.8" ry="0.6" fill="#6f7080" opacity="0.35"/><ellipse cx="544.2" cy="106.2" rx="1.0" ry="0.7" fill="#6f7080" opacity="0.37"/><ellipse cx="545.0" cy="108.9" rx="0.7" ry="0.7" fill="#6f7080" opacity="0.37"/><ellipse cx="543.5" cy="111.0" rx="0.9" ry="0.9" fill="#7d7470" opacity="0.50"/><ellipse cx="546.8" cy="114.2" rx="0.9" ry="0.9" fill="#7d7470" opacity="0.40"/><ellipse cx="542.7" cy="116.6" rx="0.9" ry="0.7" fill="#80766e" opacity="0.42"/><ellipse cx="543.5" cy="119.3" rx="1.1" ry="0.9" fill="#7d7470" opacity="0.63"/><ellipse cx="544.5" cy="121.5" rx="0.9" ry="0.9" fill="#77788a" opacity="0.53"/><ellipse cx="543.3" cy="124.2" rx="1.1" ry="1.2" fill="#7d7470" opacity="0.59"/><ellipse cx="545.4" cy="127.3" rx="0.9" ry="0.9" fill="#6f7080" opacity="0.52"/><ellipse cx="546.0" cy="129.2" rx="0.6" ry="0.6" fill="#77788a" opacity="0.54"/><ellipse cx="545.7" cy="131.7" rx="0.8" ry="0.7" fill="#77788a" opacity="0.48"/><ellipse cx="545.6" cy="134.8" rx="1.1" ry="1.0" fill="#77788a" opacity="0.48"/><ellipse cx="544.8" cy="137.6" rx="0.7" ry="0.8" fill="#7d7470" opacity="0.50"/><ellipse cx="548.7" cy="140.2" rx="1.0" ry="0.9" fill="#7d7470" opacity="0.46"/><ellipse cx="545.6" cy="142.2" rx="0.8" ry="0.6" fill="#77788a" opacity="0.43"/><ellipse cx="547.1" cy="145.2" rx="1.1" ry="1.2" fill="#80766e" opacity="0.57"/><ellipse cx="549.9" cy="147.8" rx="1.1" ry="1.1" fill="#80766e" opacity="0.51"/><ellipse cx="548.7" cy="150.9" rx="0.9" ry="0.7" fill="#6f7080" opacity="0.54"/><ellipse cx="547.7" cy="152.2" rx="0.7" ry="0.7" fill="#80766e" opacity="0.50"/><ellipse cx="550.8" cy="155.6" rx="0.8" ry="0.7" fill="#80766e" opacity="0.53"/><ellipse cx="546.6" cy="158.5" rx="0.9" ry="0.8" fill="#80766e" opacity="0.43"/><ellipse cx="552.9" cy="160.8" rx="1.1" ry="1.3" fill="#77788a" opacity="0.42"/><ellipse cx="549.3" cy="163.7" rx="1.1" ry="0.9" fill="#80766e" opacity="0.62"/><ellipse cx="549.5" cy="165.3" rx="1.0" ry="1.0" fill="#77788a" opacity="0.64"/><ellipse cx="547.6" cy="168.3" rx="0.9" ry="1.0" fill="#6f7080" opacity="0.50"/><ellipse cx="550.2" cy="170.7" rx="0.9" ry="1.0" fill="#6f7080" opacity="0.57"/><ellipse cx="550.4" cy="174.3" rx="1.0" ry="0.8" fill="#77788a" opacity="0.64"/><ellipse cx="552.1" cy="175.7" rx="0.8" ry="0.6" fill="#80766e" opacity="0.56"/><ellipse cx="553.3" cy="179.0" rx="0.7" ry="0.6" fill="#6f7080" opacity="0.46"/><ellipse cx="551.7" cy="181.3" rx="1.1" ry="1.2" fill="#6f7080" opacity="0.39"/><ellipse cx="552.5" cy="184.5" rx="0.9" ry="0.8" fill="#7d7470" opacity="0.51"/><ellipse cx="551.5" cy="187.3" rx="0.8" ry="0.7" fill="#7d7470" opacity="0.37"/><ellipse cx="552.5" cy="188.8" rx="1.0" ry="1.1" fill="#77788a" opacity="0.44"/><ellipse cx="553.4" cy="191.4" rx="0.6" ry="0.7" fill="#7d7470" opacity="0.50"/><ellipse cx="552.6" cy="194.6" rx="0.7" ry="0.8" fill="#7d7470" opacity="0.64"/><ellipse cx="547.1" cy="92.5" rx="0.9" ry="0.7" fill="#6f7080" opacity="0.54"/><ellipse cx="546.6" cy="95.6" rx="0.9" ry="0.7" fill="#7d7470" opacity="0.51"/><ellipse cx="546.8" cy="97.6" rx="0.7" ry="0.7" fill="#7d7470" opacity="0.37"/><ellipse cx="549.6" cy="100.7" rx="0.6" ry="0.7" fill="#80766e" opacity="0.55"/><ellipse cx="548.4" cy="104.1" rx="0.7" ry="0.8" fill="#6f7080" opacity="0.36"/><ellipse cx="546.8" cy="105.5" rx="0.8" ry="0.7" fill="#80766e" opacity="0.53"/><ellipse cx="547.6" cy="108.3" rx="1.1" ry="1.0" fill="#6f7080" opacity="0.38"/><ellipse cx="545.8" cy="111.5" rx="0.7" ry="0.6" fill="#6f7080" opacity="0.36"/><ellipse cx="549.5" cy="113.5" rx="1.1" ry="1.1" fill="#7d7470" opacity="0.56"/><ellipse cx="548.5" cy="117.1" rx="0.7" ry="0.5" fill="#6f7080" opacity="0.52"/><ellipse cx="548.0" cy="119.0" rx="0.6" ry="0.5" fill="#6f7080" opacity="0.40"/><ellipse cx="547.0" cy="121.6" rx="0.8" ry="0.8" fill="#77788a" opacity="0.61"/><ellipse cx="550.2" cy="123.7" rx="1.1" ry="0.8" fill="#80766e" opacity="0.44"/><ellipse cx="549.4" cy="127.3" rx="0.7" ry="0.5" fill="#6f7080" opacity="0.57"/><ellipse cx="546.8" cy="129.6" rx="0.9" ry="0.8" fill="#77788a" opacity="0.47"/><ellipse cx="551.2" cy="131.3" rx="0.8" ry="0.6" fill="#7d7470" opacity="0.36"/><ellipse cx="548.4" cy="134.1" rx="1.0" ry="1.1" fill="#6f7080" opacity="0.55"/><ellipse cx="549.6" cy="136.6" rx="1.1" ry="0.9" fill="#80766e" opacity="0.50"/><ellipse cx="549.2" cy="140.0" rx="0.8" ry="0.9" fill="#7d7470" opacity="0.63"/><ellipse cx="553.1" cy="142.6" rx="1.0" ry="1.1" fill="#77788a" opacity="0.57"/><ellipse cx="551.8" cy="144.9" rx="1.1" ry="1.2" fill="#6f7080" opacity="0.62"/><ellipse cx="553.0" cy="147.3" rx="1.1" ry="1.1" fill="#80766e" opacity="0.60"/><ellipse cx="552.1" cy="149.9" rx="1.1" ry="1.1" fill="#77788a" opacity="0.59"/><ellipse cx="554.3" cy="152.2" rx="1.1" ry="1.0" fill="#7d7470" opacity="0.39"/><ellipse cx="552.0" cy="156.0" rx="1.0" ry="1.1" fill="#80766e" opacity="0.56"/><ellipse cx="553.8" cy="157.7" rx="0.8" ry="0.7" fill="#77788a" opacity="0.65"/><ellipse cx="554.0" cy="159.9" rx="0.6" ry="0.5" fill="#6f7080" opacity="0.56"/><ellipse cx="553.2" cy="162.9" rx="0.8" ry="0.9" fill="#77788a" opacity="0.39"/><ellipse cx="556.0" cy="165.4" rx="0.8" ry="0.6" fill="#80766e" opacity="0.41"/><ellipse cx="552.9" cy="168.3" rx="0.8" ry="0.7" fill="#7d7470" opacity="0.61"/><ellipse cx="555.1" cy="171.6" rx="0.6" ry="0.6" fill="#80766e" opacity="0.58"/><ellipse cx="557.4" cy="173.9" rx="0.7" ry="0.5" fill="#77788a" opacity="0.36"/><ellipse cx="555.7" cy="175.6" rx="0.7" ry="0.8" fill="#80766e" opacity="0.36"/><ellipse cx="555.3" cy="179.0" rx="0.9" ry="0.9" fill="#7d7470" opacity="0.47"/><ellipse cx="555.1" cy="182.0" rx="1.0" ry="0.9" fill="#6f7080" opacity="0.38"/><ellipse cx="555.9" cy="184.2" rx="0.9" ry="1.0" fill="#6f7080" opacity="0.52"/><ellipse cx="557.8" cy="186.6" rx="0.8" ry="0.8" fill="#77788a" opacity="0.42"/><ellipse cx="554.8" cy="188.7" rx="0.8" ry="0.9" fill="#77788a" opacity="0.47"/><ellipse cx="554.9" cy="192.6" rx="0.9" ry="1.1" fill="#77788a" opacity="0.38"/><ellipse cx="558.8" cy="194.7" rx="1.0" ry="0.9" fill="#6f7080" opacity="0.53"/><ellipse cx="555.0" cy="93.8" rx="0.8" ry="1.0" fill="#6f7080" opacity="0.54"/><ellipse cx="556.7" cy="95.4" rx="0.6" ry="0.6" fill="#7d7470" opacity="0.53"/><ellipse cx="556.9" cy="98.9" rx="1.0" ry="0.7" fill="#77788a" opacity="0.40"/><ellipse cx="555.5" cy="100.4" rx="1.0" ry="1.1" fill="#7d7470" opacity="0.63"/><ellipse cx="555.9" cy="103.0" rx="0.8" ry="0.9" fill="#77788a" opacity="0.36"/><ellipse cx="557.7" cy="105.8" rx="1.1" ry="1.0" fill="#6f7080" opacity="0.52"/><ellipse cx="557.0" cy="109.0" rx="0.9" ry="0.8" fill="#6f7080" opacity="0.43"/><ellipse cx="558.1" cy="110.9" rx="0.7" ry="0.8" fill="#77788a" opacity="0.50"/><ellipse cx="561.9" cy="114.0" rx="0.9" ry="0.7" fill="#80766e" opacity="0.41"/><ellipse cx="558.0" cy="116.5" rx="0.6" ry="0.6" fill="#77788a" opacity="0.60"/><ellipse cx="556.1" cy="119.2" rx="0.6" ry="0.6" fill="#77788a" opacity="0.39"/><ellipse cx="558.1" cy="122.4" rx="1.1" ry="1.3" fill="#7d7470" opacity="0.52"/><ellipse cx="558.7" cy="123.5" rx="0.8" ry="0.8" fill="#6f7080" opacity="0.37"/><ellipse cx="556.9" cy="127.1" rx="0.8" ry="0.6" fill="#77788a" opacity="0.48"/><ellipse cx="557.8" cy="129.7" rx="0.6" ry="0.6" fill="#6f7080" opacity="0.49"/><ellipse cx="560.6" cy="132.6" rx="1.0" ry="0.8" fill="#77788a" opacity="0.48"/><ellipse cx="559.4" cy="134.0" rx="0.7" ry="0.7" fill="#7d7470" opacity="0.42"/><ellipse cx="559.9" cy="137.5" rx="1.0" ry="1.1" fill="#77788a" opacity="0.59"/><ellipse cx="562.8" cy="140.1" rx="0.8" ry="0.6" fill="#80766e" opacity="0.57"/><ellipse cx="561.6" cy="142.8" rx="0.9" ry="0.9" fill="#6f7080" opacity="0.40"/><ellipse cx="561.7" cy="144.1" rx="0.7" ry="0.8" fill="#6f7080" opacity="0.40"/><ellipse cx="563.8" cy="146.7" rx="1.0" ry="1.0" fill="#7d7470" opacity="0.49"/><ellipse cx="563.7" cy="150.6" rx="0.6" ry="0.6" fill="#80766e" opacity="0.62"/><ellipse cx="561.8" cy="152.6" rx="0.8" ry="0.7" fill="#77788a" opacity="0.45"/><ellipse cx="559.4" cy="156.3" rx="0.6" ry="0.6" fill="#77788a" opacity="0.45"/><ellipse cx="561.8" cy="158.1" rx="0.8" ry="0.6" fill="#80766e" opacity="0.50"/><ellipse cx="562.0" cy="161.1" rx="0.7" ry="0.8" fill="#77788a" opacity="0.45"/><ellipse cx="562.8" cy="163.1" rx="0.7" ry="0.7" fill="#77788a" opacity="0.61"/><ellipse cx="563.3" cy="165.3" rx="1.0" ry="1.1" fill="#77788a" opacity="0.38"/><ellipse cx="564.9" cy="168.3" rx="1.0" ry="0.8" fill="#80766e" opacity="0.56"/><ellipse cx="566.4" cy="170.4" rx="1.0" ry="0.8" fill="#7d7470" opacity="0.35"/><ellipse cx="564.4" cy="173.0" rx="1.1" ry="1.1" fill="#80766e" opacity="0.64"/><ellipse cx="566.0" cy="176.2" rx="0.9" ry="1.0" fill="#7d7470" opacity="0.61"/><ellipse cx="562.9" cy="178.4" rx="0.9" ry="0.9" fill="#7d7470" opacity="0.59"/><ellipse cx="568.1" cy="180.1" rx="0.7" ry="0.6" fill="#7d7470" opacity="0.61"/><ellipse cx="566.6" cy="183.7" rx="0.7" ry="0.6" fill="#77788a" opacity="0.50"/><ellipse cx="565.2" cy="185.7" rx="0.8" ry="0.6" fill="#6f7080" opacity="0.40"/><ellipse cx="567.2" cy="189.1" rx="0.9" ry="0.8" fill="#80766e" opacity="0.63"/><ellipse cx="566.0" cy="191.6" rx="0.7" ry="0.7" fill="#7d7470" opacity="0.49"/><ellipse cx="566.3" cy="194.6" rx="1.1" ry="1.2" fill="#6f7080" opacity="0.50"/></g><path d="M428,140L455,128L480.5,117.7L486,116" stroke="#9a9cad" stroke-width="2.2" fill="none" filter="url(#blur1)"/><ellipse cx="521" cy="206" rx="7" ry="4" fill="#a8a296" filter="url(#blur1)"/><rect x="428" y="116" width="128" height="100.3" filter="url(#speck2)" opacity="0.4"/><path d="M428,116H486L480.5,117.7L455,128L428,139.5Z" fill="#d8d9de" filter="url(#blur1)"/><path d="M428,200L470,196L556,190V216.3H428Z" fill="#bdbfca" opacity="0.55" filter="url(#blur3)"/></g></g><g clip-path="url(#clipd1)"><g filter="url(#soft)"><rect x="416" y="312" width="137.5" height="99" fill="#a9aec5"/><rect x="416" y="312" width="137.5" height="99" filter="url(#mottle3)"/><path d="M416,359L467,409V411H416Z" fill="#c3c6d3" filter="url(#blur1)"/><g filter="url(#blur3)" opacity="0.7"><ellipse cx="438" cy="340" rx="9" ry="8" fill="#9c9aa2"/><ellipse cx="458" cy="376" rx="11" ry="15" fill="#9e9ca3"/><ellipse cx="480" cy="399" rx="9" ry="8" fill="#a09ea4"/></g><g filter="url(#blur1)" stroke="#a0a6c2" stroke-width="4" fill="none" opacity="0.75"><path d="M470.4,335.2L476.3,330.6L483.2,326.7L491.8,322.1L498.1,317.6L504.3,311.8L512.0,306.3L519.2,303.6L526.5,296.2L533.5,291.8L538.1,288.1L545.6,282.0L553.0,278.1"/><path d="M470.3,350.3L477.0,345.4L484.2,341.3L491.4,336.3L498.6,330.7L505.0,324.8L510.2,321.0L519.0,315.5L526.7,310.8L532.2,306.5L540.6,300.7L545.3,297.3L553.0,292.1"/><path d="M499.6,384.7L505.5,381.8L513.1,376.2L519.1,372.6L525.3,367.2L531.8,362.1L539.2,358.7L546.2,353.8L553.0,348.1"/><path d="M498.6,398.4L508.1,394.2L511.9,389.2L519.5,385.4L526.1,380.1L533.0,375.9L538.8,371.4L546.6,367.0L553.0,362.1"/><path d="M490.7,287.1L496.1,283.6L502.9,276.8L510.8,272.2L517.1,268.7L524.4,262.8L532.3,256.7L538.8,251.8L546.1,248.7L553.0,243.1"/><path d="M491.1,302.5L495.8,296.2L504.5,291.0L512.3,286.5L519.1,280.3L524.7,277.3L533.0,271.8L540.1,267.7L545.7,262.6L553.0,257.1"/></g><g filter="url(#blur1)" stroke="#d3d6e1" stroke-width="3" fill="none"><path d="M468.8,343.9L476.0,338.0L484.1,332.8L491.8,328.8L499.1,322.4L504.5,318.5L511.7,314.6L518.7,310.6L525.2,304.1L533.0,299.8L538.5,296.0L545.3,288.7L553.0,285.1"/><path d="M500.1,393.4L507.7,388.5L513.6,383.0L519.2,377.3L526.3,374.6L533.3,370.5L540.6,364.5L546.6,359.5L553.0,355.1"/><path d="M487.2,298.0L491.7,293.5L499.9,287.2L506.8,282.7L513.4,278.3L519.9,274.8L527.4,268.8L532.6,264.8L540.1,258.3L546.3,254.1L553.0,250.1"/></g><g><ellipse cx="474.6" cy="381.3" rx="1.1" ry="1.2" fill="#7d7068" opacity="0.37"/><ellipse cx="476.2" cy="379.6" rx="0.7" ry="0.9" fill="#6a6470" opacity="0.43"/><ellipse cx="475.7" cy="376.1" rx="1.0" ry="0.9" fill="#6a6470" opacity="0.37"/><ellipse cx="477.0" cy="373.5" rx="0.8" ry="0.8" fill="#8a7f7a" opacity="0.40"/><ellipse cx="479.8" cy="373.5" rx="0.9" ry="0.9" fill="#6a6470" opacity="0.48"/><ellipse cx="478.7" cy="368.0" rx="1.1" ry="1.0" fill="#6e6158" opacity="0.48"/><ellipse cx="480.9" cy="368.0" rx="0.6" ry="0.6" fill="#8a7f7a" opacity="0.35"/><ellipse cx="487.3" cy="372.9" rx="0.9" ry="0.9" fill="#8a7f7a" opacity="0.47"/><ellipse cx="485.3" cy="365.2" rx="1.0" ry="0.9" fill="#8a7f7a" opacity="0.58"/><ellipse cx="488.5" cy="367.4" rx="0.8" ry="0.7" fill="#8a7f7a" opacity="0.60"/><ellipse cx="491.7" cy="366.5" rx="0.6" ry="0.7" fill="#7d7068" opacity="0.31"/><ellipse cx="494.3" cy="366.5" rx="1.1" ry="1.1" fill="#6a6470" opacity="0.38"/><ellipse cx="492.7" cy="360.0" rx="1.0" ry="1.1" fill="#8a7f7a" opacity="0.53"/><ellipse cx="496.4" cy="362.0" rx="0.8" ry="0.7" fill="#6e6158" opacity="0.35"/><ellipse cx="500.0" cy="362.1" rx="0.7" ry="0.6" fill="#7d7068" opacity="0.38"/><ellipse cx="500.4" cy="359.0" rx="0.9" ry="0.9" fill="#6a6470" opacity="0.47"/><ellipse cx="500.4" cy="357.1" rx="0.9" ry="0.6" fill="#6a6470" opacity="0.57"/><ellipse cx="501.8" cy="353.5" rx="0.7" ry="0.8" fill="#6a6470" opacity="0.33"/><ellipse cx="505.4" cy="354.5" rx="0.9" ry="0.8" fill="#6e6158" opacity="0.39"/><ellipse cx="508.6" cy="355.1" rx="0.6" ry="0.5" fill="#7d7068" opacity="0.51"/><ellipse cx="508.0" cy="352.0" rx="0.9" ry="0.7" fill="#8a7f7a" opacity="0.49"/><ellipse cx="510.3" cy="350.0" rx="0.7" ry="0.7" fill="#7d7068" opacity="0.56"/><ellipse cx="514.6" cy="353.0" rx="0.8" ry="0.7" fill="#6a6470" opacity="0.46"/><ellipse cx="512.5" cy="345.8" rx="0.7" ry="0.7" fill="#6e6158" opacity="0.60"/><ellipse cx="517.7" cy="350.5" rx="1.0" ry="1.1" fill="#8a7f7a" opacity="0.34"/><ellipse cx="517.8" cy="345.3" rx="0.8" ry="1.0" fill="#7d7068" opacity="0.47"/><ellipse cx="520.2" cy="345.0" rx="1.1" ry="0.9" fill="#8a7f7a" opacity="0.46"/><ellipse cx="519.9" cy="342.4" rx="0.8" ry="0.6" fill="#6e6158" opacity="0.52"/><ellipse cx="524.0" cy="344.3" rx="1.0" ry="1.0" fill="#6e6158" opacity="0.51"/><ellipse cx="525.3" cy="340.7" rx="1.0" ry="1.2" fill="#8a7f7a" opacity="0.42"/><ellipse cx="526.2" cy="339.4" rx="1.0" ry="0.9" fill="#6a6470" opacity="0.35"/><ellipse cx="528.2" cy="337.4" rx="0.8" ry="0.6" fill="#6e6158" opacity="0.40"/><ellipse cx="533.9" cy="341.6" rx="1.1" ry="1.2" fill="#7d7068" opacity="0.39"/><ellipse cx="533.6" cy="338.2" rx="0.9" ry="0.8" fill="#7d7068" opacity="0.35"/><ellipse cx="533.3" cy="332.3" rx="1.0" ry="0.9" fill="#8a7f7a" opacity="0.54"/><ellipse cx="535.2" cy="331.9" rx="1.1" ry="1.2" fill="#6a6470" opacity="0.41"/><ellipse cx="538.6" cy="334.0" rx="0.6" ry="0.6" fill="#6a6470" opacity="0.32"/><ellipse cx="540.4" cy="331.3" rx="1.0" ry="1.0" fill="#6e6158" opacity="0.41"/><ellipse cx="540.7" cy="328.8" rx="0.6" ry="0.5" fill="#6e6158" opacity="0.38"/><ellipse cx="543.3" cy="327.3" rx="0.8" ry="0.8" fill="#8a7f7a" opacity="0.59"/><ellipse cx="473.3" cy="382.0" rx="0.7" ry="0.8" fill="#8a7f7a" opacity="0.54"/><ellipse cx="473.7" cy="379.2" rx="0.8" ry="0.8" fill="#6a6470" opacity="0.35"/><ellipse cx="477.9" cy="381.3" rx="1.1" ry="1.0" fill="#6a6470" opacity="0.52"/><ellipse cx="477.1" cy="377.3" rx="1.0" ry="1.1" fill="#6a6470" opacity="0.51"/><ellipse cx="479.9" cy="376.4" rx="0.8" ry="0.7" fill="#6e6158" opacity="0.46"/><ellipse cx="482.3" cy="375.3" rx="0.7" ry="0.6" fill="#6e6158" opacity="0.40"/><ellipse cx="484.4" cy="374.9" rx="0.9" ry="0.9" fill="#7d7068" opacity="0.57"/><ellipse cx="484.2" cy="370.2" rx="1.1" ry="0.8" fill="#6e6158" opacity="0.51"/><ellipse cx="488.0" cy="371.4" rx="1.1" ry="0.8" fill="#6a6470" opacity="0.58"/><ellipse cx="489.7" cy="370.7" rx="1.1" ry="1.1" fill="#6e6158" opacity="0.44"/><ellipse cx="489.2" cy="366.3" rx="0.6" ry="0.6" fill="#8a7f7a" opacity="0.41"/><ellipse cx="492.5" cy="368.2" rx="0.8" ry="0.7" fill="#7d7068" opacity="0.42"/><ellipse cx="492.5" cy="363.7" rx="1.1" ry="1.3" fill="#7d7068" opacity="0.34"/><ellipse cx="498.7" cy="367.2" rx="0.7" ry="0.7" fill="#8a7f7a" opacity="0.49"/><ellipse cx="498.1" cy="362.8" rx="0.7" ry="0.7" fill="#6a6470" opacity="0.32"/><ellipse cx="499.8" cy="361.2" rx="1.0" ry="0.7" fill="#8a7f7a" opacity="0.58"/><ellipse cx="501.7" cy="361.7" rx="0.8" ry="0.6" fill="#6e6158" opacity="0.36"/><ellipse cx="504.8" cy="361.3" rx="1.1" ry="1.1" fill="#6a6470" opacity="0.34"/><ellipse cx="506.5" cy="359.6" rx="1.1" ry="0.9" fill="#7d7068" opacity="0.49"/><ellipse cx="509.0" cy="359.0" rx="1.0" ry="1.0" fill="#8a7f7a" opacity="0.46"/><ellipse cx="509.3" cy="355.9" rx="1.0" ry="0.7" fill="#6a6470" opacity="0.43"/><ellipse cx="509.1" cy="351.0" rx="0.8" ry="0.7" fill="#8a7f7a" opacity="0.55"/><ellipse cx="513.9" cy="354.2" rx="0.9" ry="0.8" fill="#6e6158" opacity="0.56"/><ellipse cx="516.6" cy="354.4" rx="1.0" ry="1.3" fill="#6e6158" opacity="0.32"/><ellipse cx="515.9" cy="350.5" rx="0.8" ry="0.7" fill="#6a6470" opacity="0.40"/><ellipse cx="518.3" cy="350.4" rx="0.6" ry="0.6" fill="#8a7f7a" opacity="0.37"/><ellipse cx="519.0" cy="346.9" rx="0.7" ry="0.7" fill="#7d7068" opacity="0.49"/><ellipse cx="523.4" cy="348.1" rx="1.0" ry="1.0" fill="#6e6158" opacity="0.41"/><ellipse cx="521.0" cy="342.8" rx="1.0" ry="0.7" fill="#6e6158" opacity="0.43"/><ellipse cx="526.0" cy="345.4" rx="0.8" ry="0.6" fill="#8a7f7a" opacity="0.51"/><ellipse cx="527.3" cy="342.2" rx="0.6" ry="0.5" fill="#7d7068" opacity="0.33"/><ellipse cx="528.9" cy="341.9" rx="1.0" ry="0.8" fill="#6a6470" opacity="0.41"/><ellipse cx="531.1" cy="340.8" rx="0.9" ry="0.6" fill="#6a6470" opacity="0.56"/><ellipse cx="532.4" cy="337.9" rx="0.8" ry="0.8" fill="#8a7f7a" opacity="0.45"/><ellipse cx="533.3" cy="336.1" rx="1.1" ry="1.3" fill="#7d7068" opacity="0.36"/><ellipse cx="534.6" cy="334.8" rx="1.1" ry="1.0" fill="#6e6158" opacity="0.56"/><ellipse cx="538.4" cy="336.0" rx="0.9" ry="0.7" fill="#8a7f7a" opacity="0.47"/><ellipse cx="541.6" cy="336.8" rx="0.8" ry="0.7" fill="#6a6470" opacity="0.52"/><ellipse cx="541.2" cy="332.6" rx="0.7" ry="0.8" fill="#7d7068" opacity="0.51"/><ellipse cx="543.5" cy="330.3" rx="0.8" ry="0.9" fill="#8a7f7a" opacity="0.36"/><ellipse cx="471.0" cy="381.8" rx="0.9" ry="0.9" fill="#6a6470" opacity="0.49"/><ellipse cx="474.2" cy="383.6" rx="0.7" ry="0.5" fill="#8a7f7a" opacity="0.48"/><ellipse cx="475.3" cy="379.7" rx="1.1" ry="1.3" fill="#6a6470" opacity="0.38"/><ellipse cx="479.3" cy="382.1" rx="0.7" ry="0.5" fill="#6e6158" opacity="0.42"/><ellipse cx="480.1" cy="379.9" rx="0.7" ry="0.8" fill="#6e6158" opacity="0.55"/><ellipse cx="482.2" cy="380.0" rx="0.9" ry="0.9" fill="#7d7068" opacity="0.47"/><ellipse cx="484.5" cy="377.0" rx="0.6" ry="0.7" fill="#6a6470" opacity="0.49"/><ellipse cx="484.4" cy="375.3" rx="0.6" ry="0.7" fill="#8a7f7a" opacity="0.38"/><ellipse cx="487.8" cy="374.2" rx="1.1" ry="0.8" fill="#8a7f7a" opacity="0.39"/><ellipse cx="488.9" cy="371.8" rx="1.0" ry="0.8" fill="#6a6470" opacity="0.59"/><ellipse cx="490.0" cy="371.2" rx="1.1" ry="1.1" fill="#6a6470" opacity="0.58"/><ellipse cx="491.1" cy="369.2" rx="1.0" ry="1.0" fill="#8a7f7a" opacity="0.54"/><ellipse cx="490.9" cy="363.7" rx="0.9" ry="0.9" fill="#7d7068" opacity="0.57"/><ellipse cx="497.5" cy="368.8" rx="1.0" ry="1.0" fill="#6e6158" opacity="0.49"/><ellipse cx="498.0" cy="366.0" rx="1.1" ry="1.0" fill="#6e6158" opacity="0.50"/><ellipse cx="501.8" cy="368.5" rx="0.6" ry="0.5" fill="#6e6158" opacity="0.49"/><ellipse cx="502.1" cy="363.6" rx="0.8" ry="0.6" fill="#8a7f7a" opacity="0.50"/><ellipse cx="504.3" cy="363.8" rx="0.7" ry="0.6" fill="#6e6158" opacity="0.44"/><ellipse cx="506.3" cy="362.6" rx="0.9" ry="1.1" fill="#6e6158" opacity="0.53"/><ellipse cx="509.4" cy="362.1" rx="1.1" ry="1.2" fill="#7d7068" opacity="0.50"/><ellipse cx="509.3" cy="359.7" rx="0.9" ry="0.9" fill="#7d7068" opacity="0.38"/><ellipse cx="514.5" cy="363.4" rx="0.6" ry="0.5" fill="#6a6470" opacity="0.43"/><ellipse cx="512.7" cy="357.5" rx="0.7" ry="0.5" fill="#8a7f7a" opacity="0.58"/><ellipse cx="516.7" cy="358.0" rx="1.1" ry="0.9" fill="#6e6158" opacity="0.45"/><ellipse cx="516.0" cy="352.2" rx="1.0" ry="0.8" fill="#8a7f7a" opacity="0.38"/><ellipse cx="518.2" cy="353.3" rx="0.8" ry="0.8" fill="#6a6470" opacity="0.51"/><ellipse cx="519.9" cy="351.4" rx="1.0" ry="0.9" fill="#8a7f7a" opacity="0.38"/><ellipse cx="521.7" cy="350.7" rx="1.0" ry="0.8" fill="#6e6158" opacity="0.31"/><ellipse cx="524.1" cy="349.9" rx="0.7" ry="0.8" fill="#7d7068" opacity="0.50"/><ellipse cx="524.1" cy="345.7" rx="0.7" ry="0.7" fill="#6e6158" opacity="0.39"/><ellipse cx="527.1" cy="345.9" rx="1.1" ry="1.2" fill="#8a7f7a" opacity="0.31"/><ellipse cx="529.4" cy="344.2" rx="0.8" ry="0.7" fill="#6e6158" opacity="0.60"/><ellipse cx="529.3" cy="340.8" rx="0.8" ry="0.6" fill="#6e6158" opacity="0.55"/><ellipse cx="536.7" cy="347.4" rx="0.8" ry="0.6" fill="#6e6158" opacity="0.32"/><ellipse cx="530.8" cy="336.7" rx="0.8" ry="0.7" fill="#6e6158" opacity="0.60"/><ellipse cx="533.7" cy="336.9" rx="0.7" ry="0.5" fill="#7d7068" opacity="0.52"/><ellipse cx="538.1" cy="339.0" rx="0.6" ry="0.5" fill="#8a7f7a" opacity="0.37"/><ellipse cx="540.6" cy="337.2" rx="1.0" ry="1.0" fill="#6e6158" opacity="0.57"/><ellipse cx="539.2" cy="333.1" rx="0.8" ry="0.6" fill="#8a7f7a" opacity="0.56"/><ellipse cx="543.1" cy="334.6" rx="0.7" ry="0.5" fill="#8a7f7a" opacity="0.40"/><ellipse cx="429.8" cy="328.5" rx="1.1" ry="1.2" fill="#7d7068" opacity="0.36"/><ellipse cx="430.6" cy="332.4" rx="0.6" ry="0.5" fill="#7d7068" opacity="0.32"/><ellipse cx="431.7" cy="334.9" rx="1.0" ry="1.0" fill="#6a6470" opacity="0.57"/><ellipse cx="434.3" cy="334.3" rx="0.9" ry="0.7" fill="#7d7068" opacity="0.41"/><ellipse cx="434.4" cy="338.2" rx="0.7" ry="0.7" fill="#6e6158" opacity="0.42"/><ellipse cx="439.7" cy="336.2" rx="1.0" ry="1.0" fill="#6a6470" opacity="0.46"/><ellipse cx="438.7" cy="341.1" rx="0.9" ry="0.7" fill="#6e6158" opacity="0.53"/><ellipse cx="440.3" cy="341.8" rx="1.1" ry="1.2" fill="#8a7f7a" opacity="0.42"/><ellipse cx="441.5" cy="344.2" rx="0.6" ry="0.6" fill="#6e6158" opacity="0.58"/><ellipse cx="445.8" cy="343.9" rx="0.9" ry="1.0" fill="#7d7068" opacity="0.34"/><ellipse cx="428.7" cy="337.3" rx="0.7" ry="0.6" fill="#7d7068" opacity="0.44"/><ellipse cx="427.3" cy="340.2" rx="1.0" ry="1.1" fill="#6e6158" opacity="0.35"/><ellipse cx="429.5" cy="343.0" rx="0.7" ry="0.6" fill="#6e6158" opacity="0.42"/><ellipse cx="431.1" cy="344.0" rx="0.8" ry="0.7" fill="#8a7f7a" opacity="0.44"/><ellipse cx="435.9" cy="343.6" rx="0.6" ry="0.5" fill="#8a7f7a" opacity="0.54"/><ellipse cx="436.0" cy="345.9" rx="1.1" ry="1.0" fill="#6e6158" opacity="0.46"/><ellipse cx="439.4" cy="347.0" rx="0.8" ry="0.8" fill="#6a6470" opacity="0.45"/><ellipse cx="437.5" cy="351.6" rx="1.0" ry="0.9" fill="#8a7f7a" opacity="0.44"/><ellipse cx="447.5" cy="362.0" rx="0.7" ry="0.5" fill="#7d7068" opacity="0.38"/><ellipse cx="449.6" cy="362.9" rx="0.9" ry="0.8" fill="#6e6158" opacity="0.53"/><ellipse cx="447.1" cy="366.7" rx="0.7" ry="0.7" fill="#6a6470" opacity="0.39"/><ellipse cx="449.0" cy="369.3" rx="0.9" ry="0.7" fill="#7d7068" opacity="0.32"/><ellipse cx="451.5" cy="370.3" rx="0.7" ry="0.8" fill="#6e6158" opacity="0.43"/><ellipse cx="456.8" cy="369.6" rx="0.9" ry="1.0" fill="#8a7f7a" opacity="0.35"/><ellipse cx="452.4" cy="375.1" rx="1.0" ry="0.7" fill="#6a6470" opacity="0.40"/><ellipse cx="452.3" cy="377.5" rx="1.0" ry="1.0" fill="#6a6470" opacity="0.50"/><ellipse cx="458.3" cy="375.2" rx="1.0" ry="1.1" fill="#7d7068" opacity="0.45"/><ellipse cx="456.9" cy="380.1" rx="0.9" ry="0.6" fill="#7d7068" opacity="0.37"/><ellipse cx="458.7" cy="380.7" rx="1.1" ry="0.9" fill="#8a7f7a" opacity="0.55"/><ellipse cx="457.7" cy="383.5" rx="0.6" ry="0.7" fill="#6a6470" opacity="0.53"/><ellipse cx="462.5" cy="383.5" rx="1.1" ry="1.2" fill="#6a6470" opacity="0.32"/><ellipse cx="460.4" cy="387.2" rx="0.9" ry="0.9" fill="#6e6158" opacity="0.59"/><ellipse cx="463.9" cy="388.6" rx="0.9" ry="1.0" fill="#7d7068" opacity="0.46"/><ellipse cx="463.1" cy="390.9" rx="0.7" ry="0.6" fill="#8a7f7a" opacity="0.48"/><ellipse cx="454.7" cy="359.2" rx="0.7" ry="0.6" fill="#7d7068" opacity="0.40"/><ellipse cx="451.9" cy="363.0" rx="1.1" ry="1.2" fill="#7d7068" opacity="0.47"/><ellipse cx="454.2" cy="364.2" rx="0.9" ry="0.8" fill="#8a7f7a" opacity="0.59"/><ellipse cx="452.4" cy="367.9" rx="1.0" ry="0.7" fill="#6e6158" opacity="0.53"/><ellipse cx="457.2" cy="368.1" rx="0.8" ry="0.7" fill="#6e6158" opacity="0.45"/><ellipse cx="458.4" cy="370.0" rx="1.0" ry="1.0" fill="#6e6158" opacity="0.55"/><ellipse cx="460.6" cy="370.8" rx="1.0" ry="0.8" fill="#6a6470" opacity="0.39"/><ellipse cx="459.2" cy="374.5" rx="0.9" ry="1.0" fill="#6e6158" opacity="0.54"/><ellipse cx="460.9" cy="376.4" rx="0.8" ry="0.5" fill="#6a6470" opacity="0.37"/><ellipse cx="460.9" cy="379.0" rx="0.8" ry="0.7" fill="#6a6470" opacity="0.47"/><ellipse cx="465.8" cy="378.6" rx="1.1" ry="1.0" fill="#6e6158" opacity="0.41"/><ellipse cx="466.5" cy="381.3" rx="0.8" ry="0.9" fill="#6a6470" opacity="0.32"/><ellipse cx="468.6" cy="382.5" rx="0.9" ry="0.9" fill="#6a6470" opacity="0.43"/><ellipse cx="468.5" cy="385.3" rx="1.1" ry="0.8" fill="#6a6470" opacity="0.51"/><ellipse cx="470.4" cy="385.4" rx="1.0" ry="0.8" fill="#8a7f7a" opacity="0.36"/><ellipse cx="476.6" cy="388.2" rx="0.8" ry="0.7" fill="#6a6470" opacity="0.46"/><ellipse cx="477.0" cy="391.4" rx="0.7" ry="0.6" fill="#8a7f7a" opacity="0.32"/><ellipse cx="476.9" cy="394.8" rx="1.1" ry="0.8" fill="#6a6470" opacity="0.49"/><ellipse cx="479.5" cy="395.5" rx="0.9" ry="0.8" fill="#6a6470" opacity="0.46"/><ellipse cx="479.3" cy="398.9" rx="0.9" ry="0.9" fill="#6e6158" opacity="0.54"/><ellipse cx="481.6" cy="400.4" rx="0.7" ry="0.5" fill="#8a7f7a" opacity="0.32"/><ellipse cx="483.1" cy="401.8" rx="1.0" ry="0.9" fill="#6a6470" opacity="0.41"/><ellipse cx="485.0" cy="403.3" rx="0.9" ry="0.7" fill="#7d7068" opacity="0.39"/><ellipse cx="486.5" cy="406.2" rx="0.7" ry="0.6" fill="#8a7f7a" opacity="0.37"/></g><g filter="url(#blur1)" stroke="#d2d6e1" stroke-width="3" fill="none"><path d="M430,362L445,345L458,330L470,318"/><path d="M414,358L467,409"/><path d="M416,395L430,411"/></g><rect x="416" y="312" width="137.5" height="99" filter="url(#speck3)" opacity="0.5"/><g filter="url(#blur1)"><path d="M458,312H502L494,324L485,338L478,350L471,344L464,330Z" fill="#d2d5e0" opacity="0.85"/></g></g></g><g clip-path="url(#clipd2)"><g filter="url(#soft)"><rect x="416" y="419" width="138.8" height="99.6" fill="#b3b7ca"/><rect x="416" y="419" width="138.8" height="99.6" filter="url(#mottle4)"/><g filter="url(#blur3)"><path d="M416,419H440V519H416Z" fill="#a9aab6"/></g><g filter="url(#blur1)" stroke="#a3a9c3" stroke-width="4" fill="none" opacity="0.8"><path d="M444.5,419.9L455.2,420.0L463.1,422.3L474.0,423.4L481.2,423.6L489.9,426.0L500.7,426.2L509.9,428.3L518.6,429.1L527.2,428.5L536.8,431.5L547.0,433.4L555.0,433.0"/><path d="M445.4,428.0L455.2,430.1L464.7,433.0L471.3,431.7L480.3,434.9L490.8,436.0L499.5,437.3L508.0,437.1L519.0,438.2L526.3,440.4L538.1,442.3L547.0,442.6L555.0,443.0"/><path d="M443.5,435.0L454.4,437.4L464.3,437.3L472.9,438.7L482.4,440.1L490.8,443.5L501.5,444.9L510.0,444.4L518.7,446.1L527.5,447.3L536.5,447.6L546.6,449.4L555.0,450.0"/><path d="M446.4,447.3L455.1,446.2L463.3,448.7L473.4,451.2L480.8,449.9L491.9,454.1L499.5,454.3L508.8,454.7L518.7,456.6L528.7,456.6L536.6,457.9L547.3,459.1L555.0,460.0"/><path d="M446.3,454.4L452.8,455.1L462.2,455.7L472.9,455.7L481.9,458.9L490.4,459.8L499.7,460.0L508.4,463.3L518.7,463.1L528.4,465.0L537.4,464.7L546.0,465.5L555.0,467.0"/><path d="M443.7,464.3L452.9,463.9L464.4,465.1L473.7,465.6L480.6,468.2L491.2,470.5L501.2,472.0L508.2,473.5L517.0,472.9L527.0,472.6L535.8,476.5L547.2,475.5L555.0,477.0"/><path d="M446.5,471.7L452.8,472.6L462.4,473.0L473.2,474.1L481.2,474.9L490.3,477.1L498.8,477.8L508.9,478.7L519.6,480.3L527.1,480.7L537.6,482.1L544.6,483.6L555.0,485.0"/><path d="M446.2,482.3L454.1,482.6L462.1,484.9L473.3,484.2L482.7,485.3L490.8,487.0L500.2,488.3L509.3,489.3L516.9,489.8L528.4,491.8L536.7,493.5L545.1,493.1L555.0,495.0"/><path d="M444.7,488.8L454.9,489.2L463.7,489.9L473.8,492.4L482.6,492.9L491.1,495.3L500.1,496.8L508.5,497.9L517.8,498.0L526.4,498.7L537.8,498.6L544.9,501.1L555.0,502.0"/><path d="M445.5,498.6L454.7,500.0L463.6,499.6L472.6,501.3L480.2,503.4L492.3,504.6L500.8,506.4L507.8,507.1L519.8,508.5L526.9,510.2L537.2,511.3L546.9,511.3L555.0,512.0"/><path d="M444.9,505.1L453.6,507.4L462.2,509.1L472.0,508.8L482.0,509.8L491.2,510.3L501.1,511.8L510.3,515.1L519.2,515.8L526.6,516.2L535.4,517.7L546.7,517.1L555.0,519.0"/><path d="M444.8,513.8L454.7,516.9L462.0,518.0L473.6,518.0L482.9,519.7L489.4,520.4L500.8,522.1L510.2,523.8L517.1,525.9L527.0,524.9L535.2,526.4L545.7,528.0L555.0,529.0"/></g><g filter="url(#blur1)" stroke="#ccd0dc" stroke-width="2.4" fill="none"><path d="M446.4,424.2L455.1,426.8L463.8,425.9L473.9,429.2L480.2,430.7L491.3,429.9L499.9,431.4L510.0,432.7L517.1,435.2L527.0,434.0L537.3,434.9L546.1,436.8L555.0,438.0"/><path d="M443.9,442.4L454.7,441.0L464.5,444.1L473.5,445.8L480.7,445.8L489.9,448.6L501.3,449.2L509.7,451.4L518.4,450.8L526.8,453.5L535.5,452.1L546.9,452.6L555.0,455.0"/><path d="M444.1,458.1L453.4,459.0L461.9,461.2L471.2,461.4L480.5,463.9L490.0,464.8L498.6,466.2L508.7,468.2L517.4,467.4L528.6,467.7L536.6,470.0L545.2,470.0L555.0,472.0"/><path d="M445.0,474.6L452.7,476.7L463.0,477.9L473.1,479.7L482.0,481.6L491.5,484.0L500.2,484.6L509.3,483.7L519.3,486.1L526.1,487.7L536.7,489.3L545.6,488.9L555.0,490.0"/><path d="M446.2,494.3L455.0,494.2L463.1,496.4L473.7,496.9L482.3,498.5L491.0,498.8L499.3,500.3L510.6,500.6L517.5,502.1L528.4,504.5L536.1,503.8L546.4,506.7L555.0,507.0"/><path d="M445.4,510.6L454.5,509.9L464.2,513.8L471.5,513.6L483.1,516.8L491.8,517.7L499.0,519.1L510.1,518.1L519.6,520.9L528.7,522.2L535.4,521.0L546.8,522.0L555.0,524.0"/></g><g><ellipse cx="446.3" cy="419.8" rx="1.1" ry="1.0" fill="#7d7068" opacity="0.42"/><ellipse cx="450.5" cy="420.4" rx="0.9" ry="0.8" fill="#7d7068" opacity="0.30"/><ellipse cx="452.9" cy="424.4" rx="0.7" ry="0.7" fill="#858593" opacity="0.49"/><ellipse cx="457.7" cy="421.0" rx="0.8" ry="1.0" fill="#858593" opacity="0.45"/><ellipse cx="461.0" cy="421.4" rx="0.9" ry="0.6" fill="#7a7a88" opacity="0.45"/><ellipse cx="464.1" cy="422.4" rx="0.7" ry="0.8" fill="#7d7068" opacity="0.44"/><ellipse cx="467.5" cy="422.9" rx="1.1" ry="0.8" fill="#858593" opacity="0.39"/><ellipse cx="471.4" cy="419.7" rx="1.0" ry="1.0" fill="#858593" opacity="0.37"/><ellipse cx="475.0" cy="424.8" rx="0.7" ry="0.8" fill="#7a7a88" opacity="0.47"/><ellipse cx="478.2" cy="426.9" rx="0.8" ry="0.8" fill="#858593" opacity="0.42"/><ellipse cx="482.7" cy="425.5" rx="0.9" ry="0.7" fill="#858593" opacity="0.38"/><ellipse cx="487.2" cy="426.5" rx="1.1" ry="0.8" fill="#7d7068" opacity="0.44"/><ellipse cx="490.7" cy="426.0" rx="1.0" ry="1.1" fill="#7d7068" opacity="0.40"/><ellipse cx="493.8" cy="427.9" rx="1.1" ry="1.0" fill="#7d7068" opacity="0.29"/><ellipse cx="496.6" cy="425.9" rx="0.8" ry="0.6" fill="#7a7a88" opacity="0.41"/><ellipse cx="500.1" cy="427.3" rx="0.9" ry="0.7" fill="#858593" opacity="0.45"/><ellipse cx="505.4" cy="426.4" rx="0.8" ry="0.8" fill="#858593" opacity="0.28"/><ellipse cx="509.2" cy="428.0" rx="0.8" ry="0.7" fill="#858593" opacity="0.46"/><ellipse cx="512.5" cy="428.0" rx="0.8" ry="0.6" fill="#7a7a88" opacity="0.40"/><ellipse cx="514.6" cy="431.4" rx="0.7" ry="0.8" fill="#7d7068" opacity="0.38"/><ellipse cx="520.4" cy="428.9" rx="0.7" ry="0.5" fill="#7d7068" opacity="0.32"/><ellipse cx="524.3" cy="428.9" rx="0.7" ry="0.6" fill="#7d7068" opacity="0.27"/><ellipse cx="526.0" cy="429.0" rx="0.9" ry="0.7" fill="#858593" opacity="0.42"/><ellipse cx="531.2" cy="432.1" rx="0.7" ry="0.6" fill="#858593" opacity="0.29"/><ellipse cx="534.8" cy="433.1" rx="1.1" ry="0.9" fill="#858593" opacity="0.37"/><ellipse cx="537.7" cy="429.2" rx="0.7" ry="0.6" fill="#7a7a88" opacity="0.35"/><ellipse cx="540.9" cy="432.3" rx="0.9" ry="1.0" fill="#7d7068" opacity="0.46"/><ellipse cx="546.1" cy="431.8" rx="0.6" ry="0.7" fill="#7d7068" opacity="0.45"/><ellipse cx="549.4" cy="433.0" rx="0.7" ry="0.8" fill="#7d7068" opacity="0.31"/><ellipse cx="553.4" cy="432.6" rx="0.9" ry="0.9" fill="#7a7a88" opacity="0.26"/><ellipse cx="446.2" cy="428.5" rx="1.1" ry="0.8" fill="#858593" opacity="0.48"/><ellipse cx="449.0" cy="429.4" rx="0.7" ry="0.6" fill="#7d7068" opacity="0.36"/><ellipse cx="454.4" cy="428.1" rx="1.1" ry="0.8" fill="#7d7068" opacity="0.38"/><ellipse cx="457.1" cy="431.2" rx="0.8" ry="0.8" fill="#7a7a88" opacity="0.28"/><ellipse cx="460.8" cy="431.5" rx="1.1" ry="0.9" fill="#7a7a88" opacity="0.41"/><ellipse cx="464.2" cy="432.4" rx="1.0" ry="1.1" fill="#858593" opacity="0.34"/><ellipse cx="467.2" cy="433.9" rx="1.0" ry="1.0" fill="#858593" opacity="0.40"/><ellipse cx="472.3" cy="431.7" rx="0.7" ry="0.7" fill="#858593" opacity="0.35"/><ellipse cx="474.9" cy="432.8" rx="0.7" ry="0.5" fill="#858593" opacity="0.33"/><ellipse cx="478.4" cy="435.3" rx="0.8" ry="0.9" fill="#858593" opacity="0.28"/><ellipse cx="482.7" cy="434.1" rx="0.9" ry="0.6" fill="#7a7a88" opacity="0.29"/><ellipse cx="486.3" cy="433.5" rx="1.0" ry="1.0" fill="#858593" opacity="0.50"/><ellipse cx="489.5" cy="436.7" rx="1.0" ry="1.0" fill="#7a7a88" opacity="0.29"/><ellipse cx="493.1" cy="432.7" rx="1.1" ry="0.8" fill="#7d7068" opacity="0.27"/><ellipse cx="496.2" cy="439.2" rx="0.6" ry="0.5" fill="#7a7a88" opacity="0.26"/><ellipse cx="500.7" cy="435.7" rx="1.1" ry="0.8" fill="#7a7a88" opacity="0.25"/><ellipse cx="504.0" cy="436.6" rx="0.7" ry="0.8" fill="#7a7a88" opacity="0.45"/><ellipse cx="508.5" cy="436.5" rx="1.0" ry="0.9" fill="#858593" opacity="0.30"/><ellipse cx="512.3" cy="437.9" rx="0.7" ry="0.6" fill="#858593" opacity="0.49"/><ellipse cx="516.9" cy="437.5" rx="0.9" ry="0.8" fill="#7d7068" opacity="0.46"/><ellipse cx="519.1" cy="440.6" rx="0.9" ry="0.9" fill="#7d7068" opacity="0.49"/><ellipse cx="522.5" cy="440.2" rx="1.1" ry="1.1" fill="#7d7068" opacity="0.36"/><ellipse cx="527.3" cy="439.5" rx="0.7" ry="0.8" fill="#7d7068" opacity="0.39"/><ellipse cx="530.8" cy="442.1" rx="0.8" ry="0.8" fill="#7d7068" opacity="0.33"/><ellipse cx="533.3" cy="440.6" rx="0.7" ry="0.8" fill="#7d7068" opacity="0.39"/><ellipse cx="538.1" cy="442.4" rx="0.7" ry="0.5" fill="#7a7a88" opacity="0.30"/><ellipse cx="541.0" cy="441.1" rx="1.1" ry="0.9" fill="#7d7068" opacity="0.32"/><ellipse cx="543.9" cy="443.9" rx="0.7" ry="0.8" fill="#858593" opacity="0.33"/><ellipse cx="549.4" cy="441.5" rx="1.1" ry="1.0" fill="#7a7a88" opacity="0.28"/><ellipse cx="552.4" cy="442.9" rx="1.0" ry="0.9" fill="#7a7a88" opacity="0.41"/><ellipse cx="445.9" cy="435.9" rx="0.7" ry="0.6" fill="#7d7068" opacity="0.44"/><ellipse cx="449.3" cy="438.0" rx="1.1" ry="1.1" fill="#858593" opacity="0.34"/><ellipse cx="453.8" cy="438.6" rx="0.7" ry="0.8" fill="#858593" opacity="0.50"/><ellipse cx="457.9" cy="437.6" rx="0.7" ry="0.5" fill="#858593" opacity="0.30"/><ellipse cx="459.7" cy="441.4" rx="0.8" ry="0.7" fill="#858593" opacity="0.27"/><ellipse cx="463.7" cy="437.9" rx="1.1" ry="0.8" fill="#858593" opacity="0.34"/><ellipse cx="468.3" cy="438.9" rx="1.0" ry="0.9" fill="#7a7a88" opacity="0.44"/><ellipse cx="471.8" cy="439.6" rx="0.6" ry="0.7" fill="#7a7a88" opacity="0.29"/><ellipse cx="476.0" cy="441.2" rx="1.1" ry="0.8" fill="#7d7068" opacity="0.34"/><ellipse cx="478.5" cy="440.1" rx="0.8" ry="0.9" fill="#7d7068" opacity="0.41"/><ellipse cx="482.8" cy="441.4" rx="1.0" ry="1.1" fill="#7a7a88" opacity="0.28"/><ellipse cx="487.8" cy="440.5" rx="0.7" ry="0.5" fill="#7d7068" opacity="0.39"/><ellipse cx="488.7" cy="444.9" rx="0.7" ry="0.7" fill="#858593" opacity="0.39"/><ellipse cx="494.0" cy="443.3" rx="0.9" ry="0.7" fill="#7a7a88" opacity="0.41"/><ellipse cx="497.6" cy="443.3" rx="0.6" ry="0.7" fill="#858593" opacity="0.30"/><ellipse cx="501.4" cy="444.6" rx="0.7" ry="0.6" fill="#7d7068" opacity="0.48"/><ellipse cx="503.6" cy="445.3" rx="1.0" ry="0.8" fill="#858593" opacity="0.45"/><ellipse cx="508.3" cy="443.2" rx="1.0" ry="1.1" fill="#7a7a88" opacity="0.40"/><ellipse cx="511.3" cy="446.5" rx="1.0" ry="0.8" fill="#858593" opacity="0.28"/><ellipse cx="514.8" cy="448.8" rx="0.8" ry="0.6" fill="#858593" opacity="0.41"/><ellipse cx="519.3" cy="446.6" rx="0.7" ry="0.7" fill="#858593" opacity="0.49"/><ellipse cx="523.7" cy="445.4" rx="0.6" ry="0.5" fill="#7a7a88" opacity="0.25"/><ellipse cx="527.4" cy="445.4" rx="1.1" ry="0.9" fill="#858593" opacity="0.42"/><ellipse cx="531.1" cy="447.4" rx="1.1" ry="1.2" fill="#858593" opacity="0.49"/><ellipse cx="534.3" cy="450.5" rx="1.1" ry="1.0" fill="#858593" opacity="0.26"/><ellipse cx="537.6" cy="448.0" rx="0.8" ry="0.8" fill="#7a7a88" opacity="0.27"/><ellipse cx="542.2" cy="448.1" rx="1.0" ry="0.8" fill="#7d7068" opacity="0.27"/><ellipse cx="546.2" cy="447.7" rx="1.0" ry="1.1" fill="#7d7068" opacity="0.40"/><ellipse cx="548.3" cy="448.9" rx="0.7" ry="0.7" fill="#7a7a88" opacity="0.45"/><ellipse cx="553.4" cy="450.8" rx="1.1" ry="1.1" fill="#7a7a88" opacity="0.44"/><ellipse cx="446.6" cy="447.5" rx="0.8" ry="0.7" fill="#7a7a88" opacity="0.36"/><ellipse cx="448.9" cy="445.7" rx="1.0" ry="0.9" fill="#7a7a88" opacity="0.49"/><ellipse cx="453.2" cy="446.3" rx="1.1" ry="1.0" fill="#858593" opacity="0.45"/><ellipse cx="457.4" cy="446.2" rx="0.7" ry="0.7" fill="#7a7a88" opacity="0.48"/><ellipse cx="461.3" cy="450.4" rx="1.0" ry="1.1" fill="#7d7068" opacity="0.41"/><ellipse cx="464.3" cy="448.7" rx="0.6" ry="0.7" fill="#7a7a88" opacity="0.49"/><ellipse cx="468.0" cy="450.5" rx="0.7" ry="0.5" fill="#7d7068" opacity="0.40"/><ellipse cx="471.9" cy="450.5" rx="1.1" ry="0.8" fill="#858593" opacity="0.44"/><ellipse cx="474.9" cy="447.5" rx="0.7" ry="0.6" fill="#7a7a88" opacity="0.41"/><ellipse cx="479.0" cy="450.9" rx="0.9" ry="0.7" fill="#7a7a88" opacity="0.44"/><ellipse cx="482.3" cy="453.3" rx="0.6" ry="0.7" fill="#858593" opacity="0.41"/><ellipse cx="486.8" cy="451.5" rx="1.0" ry="0.9" fill="#7d7068" opacity="0.42"/><ellipse cx="491.0" cy="452.5" rx="0.8" ry="0.7" fill="#7d7068" opacity="0.26"/><ellipse cx="493.9" cy="451.5" rx="1.0" ry="0.8" fill="#7d7068" opacity="0.40"/><ellipse cx="498.0" cy="452.8" rx="0.9" ry="0.9" fill="#7d7068" opacity="0.28"/><ellipse cx="500.0" cy="454.1" rx="0.9" ry="0.9" fill="#7a7a88" opacity="0.39"/><ellipse cx="504.8" cy="454.4" rx="0.8" ry="0.7" fill="#858593" opacity="0.43"/><ellipse cx="509.4" cy="455.7" rx="1.0" ry="0.8" fill="#7d7068" opacity="0.45"/><ellipse cx="512.3" cy="457.6" rx="0.7" ry="0.7" fill="#7a7a88" opacity="0.34"/><ellipse cx="516.7" cy="454.0" rx="0.7" ry="0.7" fill="#858593" opacity="0.47"/><ellipse cx="518.6" cy="456.2" rx="1.1" ry="0.9" fill="#7d7068" opacity="0.35"/><ellipse cx="523.3" cy="456.1" rx="0.9" ry="0.7" fill="#7a7a88" opacity="0.35"/><ellipse cx="527.0" cy="456.4" rx="1.0" ry="0.8" fill="#858593" opacity="0.31"/><ellipse cx="530.7" cy="455.4" rx="1.1" ry="1.1" fill="#7d7068" opacity="0.38"/><ellipse cx="534.3" cy="457.4" rx="0.6" ry="0.6" fill="#858593" opacity="0.43"/><ellipse cx="537.0" cy="455.6" rx="0.6" ry="0.7" fill="#858593" opacity="0.39"/><ellipse cx="541.2" cy="458.3" rx="1.0" ry="1.1" fill="#7d7068" opacity="0.36"/><ellipse cx="544.5" cy="459.7" rx="0.7" ry="0.7" fill="#7a7a88" opacity="0.43"/><ellipse cx="549.5" cy="459.0" rx="1.0" ry="0.8" fill="#7d7068" opacity="0.37"/><ellipse cx="552.9" cy="459.0" rx="0.7" ry="0.8" fill="#7d7068" opacity="0.29"/><ellipse cx="446.9" cy="453.3" rx="0.9" ry="1.0" fill="#858593" opacity="0.39"/><ellipse cx="451.0" cy="452.6" rx="1.0" ry="1.0" fill="#7d7068" opacity="0.39"/><ellipse cx="452.8" cy="454.7" rx="1.0" ry="1.1" fill="#858593" opacity="0.41"/><ellipse cx="456.4" cy="455.6" rx="1.0" ry="0.8" fill="#7d7068" opacity="0.31"/><ellipse cx="460.6" cy="453.4" rx="1.0" ry="0.8" fill="#7a7a88" opacity="0.40"/><ellipse cx="463.9" cy="457.8" rx="0.8" ry="0.8" fill="#858593" opacity="0.32"/><ellipse cx="468.6" cy="459.1" rx="1.1" ry="1.1" fill="#858593" opacity="0.28"/><ellipse cx="471.6" cy="458.1" rx="1.0" ry="0.9" fill="#7d7068" opacity="0.40"/><ellipse cx="476.1" cy="460.1" rx="0.9" ry="0.7" fill="#858593" opacity="0.26"/><ellipse cx="479.4" cy="458.2" rx="0.9" ry="0.7" fill="#7d7068" opacity="0.30"/><ellipse cx="483.6" cy="456.9" rx="0.7" ry="0.7" fill="#7a7a88" opacity="0.37"/><ellipse cx="486.0" cy="458.4" rx="1.1" ry="0.9" fill="#7a7a88" opacity="0.37"/><ellipse cx="489.7" cy="458.4" rx="0.9" ry="0.9" fill="#7d7068" opacity="0.34"/><ellipse cx="493.1" cy="458.9" rx="0.9" ry="0.7" fill="#7d7068" opacity="0.48"/><ellipse cx="497.0" cy="462.4" rx="0.9" ry="0.9" fill="#7a7a88" opacity="0.47"/><ellipse cx="501.7" cy="462.0" rx="1.1" ry="1.0" fill="#7a7a88" opacity="0.43"/><ellipse cx="504.3" cy="461.3" rx="1.0" ry="1.0" fill="#858593" opacity="0.37"/><ellipse cx="508.7" cy="463.3" rx="1.1" ry="1.0" fill="#858593" opacity="0.39"/><ellipse cx="512.7" cy="463.3" rx="0.7" ry="0.7" fill="#858593" opacity="0.35"/><ellipse cx="516.6" cy="462.7" rx="0.7" ry="0.7" fill="#7a7a88" opacity="0.35"/><ellipse cx="518.9" cy="462.2" rx="0.6" ry="0.5" fill="#7d7068" opacity="0.28"/><ellipse cx="522.7" cy="465.3" rx="0.9" ry="0.7" fill="#7d7068" opacity="0.48"/><ellipse cx="527.4" cy="463.3" rx="0.7" ry="0.5" fill="#858593" opacity="0.28"/><ellipse cx="531.4" cy="463.4" rx="0.9" ry="0.9" fill="#858593" opacity="0.49"/><ellipse cx="533.7" cy="463.2" rx="1.1" ry="1.0" fill="#858593" opacity="0.27"/><ellipse cx="537.7" cy="467.2" rx="1.0" ry="0.9" fill="#858593" opacity="0.37"/><ellipse cx="542.4" cy="466.7" rx="0.8" ry="0.8" fill="#7a7a88" opacity="0.34"/><ellipse cx="546.3" cy="464.3" rx="0.6" ry="0.6" fill="#858593" opacity="0.35"/><ellipse cx="547.5" cy="468.2" rx="1.1" ry="1.0" fill="#858593" opacity="0.40"/><ellipse cx="551.8" cy="467.0" rx="0.9" ry="0.7" fill="#7d7068" opacity="0.45"/><ellipse cx="445.4" cy="461.4" rx="1.0" ry="0.8" fill="#7d7068" opacity="0.41"/><ellipse cx="450.3" cy="461.6" rx="0.9" ry="0.9" fill="#7a7a88" opacity="0.35"/><ellipse cx="453.3" cy="465.0" rx="0.6" ry="0.7" fill="#7a7a88" opacity="0.40"/><ellipse cx="457.7" cy="465.5" rx="1.0" ry="0.9" fill="#7d7068" opacity="0.44"/><ellipse cx="461.0" cy="462.5" rx="0.6" ry="0.6" fill="#858593" opacity="0.30"/><ellipse cx="463.4" cy="465.7" rx="0.7" ry="0.7" fill="#7d7068" opacity="0.35"/><ellipse cx="467.7" cy="465.9" rx="0.7" ry="0.5" fill="#7d7068" opacity="0.43"/><ellipse cx="472.1" cy="465.3" rx="0.6" ry="0.5" fill="#858593" opacity="0.40"/><ellipse cx="474.7" cy="466.0" rx="0.7" ry="0.8" fill="#7a7a88" opacity="0.27"/><ellipse cx="478.5" cy="468.4" rx="0.7" ry="0.8" fill="#7d7068" opacity="0.41"/><ellipse cx="483.6" cy="466.3" rx="0.8" ry="0.6" fill="#7d7068" opacity="0.32"/><ellipse cx="486.2" cy="469.3" rx="0.9" ry="0.8" fill="#7d7068" opacity="0.31"/><ellipse cx="489.5" cy="467.9" rx="0.7" ry="0.6" fill="#7a7a88" opacity="0.45"/><ellipse cx="493.5" cy="470.1" rx="0.7" ry="0.7" fill="#858593" opacity="0.33"/><ellipse cx="498.3" cy="471.9" rx="0.7" ry="0.5" fill="#7a7a88" opacity="0.39"/><ellipse cx="501.3" cy="469.9" rx="1.1" ry="1.2" fill="#858593" opacity="0.39"/><ellipse cx="504.2" cy="471.7" rx="1.0" ry="1.0" fill="#7d7068" opacity="0.49"/><ellipse cx="507.8" cy="470.6" rx="0.6" ry="0.7" fill="#7a7a88" opacity="0.33"/><ellipse cx="511.4" cy="471.0" rx="0.8" ry="0.7" fill="#858593" opacity="0.48"/><ellipse cx="515.3" cy="471.1" rx="1.0" ry="1.1" fill="#7d7068" opacity="0.36"/><ellipse cx="519.3" cy="471.9" rx="1.0" ry="1.0" fill="#7a7a88" opacity="0.37"/><ellipse cx="522.5" cy="473.4" rx="0.7" ry="0.6" fill="#7d7068" opacity="0.47"/><ellipse cx="525.9" cy="477.0" rx="0.6" ry="0.7" fill="#7a7a88" opacity="0.32"/><ellipse cx="529.9" cy="473.7" rx="0.9" ry="0.8" fill="#858593" opacity="0.26"/><ellipse cx="534.6" cy="472.2" rx="1.1" ry="1.0" fill="#7a7a88" opacity="0.34"/><ellipse cx="537.4" cy="472.1" rx="0.7" ry="0.8" fill="#7a7a88" opacity="0.40"/><ellipse cx="542.4" cy="476.3" rx="1.1" ry="1.0" fill="#7a7a88" opacity="0.49"/><ellipse cx="546.0" cy="474.3" rx="0.7" ry="0.5" fill="#7d7068" opacity="0.28"/><ellipse cx="548.6" cy="476.4" rx="0.7" ry="0.8" fill="#7a7a88" opacity="0.39"/><ellipse cx="551.8" cy="474.7" rx="1.0" ry="0.9" fill="#858593" opacity="0.47"/><ellipse cx="446.1" cy="470.5" rx="0.8" ry="0.8" fill="#7a7a88" opacity="0.28"/><ellipse cx="450.4" cy="473.9" rx="1.1" ry="0.9" fill="#7d7068" opacity="0.32"/><ellipse cx="452.7" cy="473.2" rx="1.1" ry="0.9" fill="#858593" opacity="0.42"/><ellipse cx="456.4" cy="473.5" rx="0.8" ry="0.7" fill="#7d7068" opacity="0.26"/><ellipse cx="461.9" cy="472.7" rx="0.9" ry="0.7" fill="#858593" opacity="0.38"/><ellipse cx="464.4" cy="475.1" rx="1.1" ry="1.1" fill="#7d7068" opacity="0.28"/><ellipse cx="467.6" cy="475.2" rx="0.7" ry="0.9" fill="#7a7a88" opacity="0.30"/><ellipse cx="471.6" cy="477.0" rx="0.7" ry="0.8" fill="#858593" opacity="0.43"/><ellipse cx="475.1" cy="474.1" rx="1.0" ry="0.9" fill="#7a7a88" opacity="0.48"/><ellipse cx="478.3" cy="477.8" rx="0.9" ry="1.0" fill="#7a7a88" opacity="0.35"/><ellipse cx="483.5" cy="479.0" rx="1.1" ry="1.3" fill="#858593" opacity="0.46"/><ellipse cx="486.5" cy="477.5" rx="1.0" ry="1.2" fill="#7a7a88" opacity="0.48"/><ellipse cx="490.1" cy="477.1" rx="1.0" ry="1.0" fill="#7a7a88" opacity="0.26"/><ellipse cx="492.8" cy="478.3" rx="0.6" ry="0.6" fill="#858593" opacity="0.36"/><ellipse cx="498.3" cy="477.7" rx="1.0" ry="1.1" fill="#7a7a88" opacity="0.47"/><ellipse cx="500.5" cy="480.4" rx="1.0" ry="0.8" fill="#858593" opacity="0.35"/><ellipse cx="503.9" cy="482.4" rx="1.0" ry="1.2" fill="#858593" opacity="0.32"/><ellipse cx="508.9" cy="481.0" rx="0.7" ry="0.6" fill="#7d7068" opacity="0.28"/><ellipse cx="512.7" cy="481.9" rx="0.7" ry="0.8" fill="#7d7068" opacity="0.47"/><ellipse cx="514.7" cy="481.6" rx="0.9" ry="0.9" fill="#7d7068" opacity="0.40"/><ellipse cx="518.5" cy="483.7" rx="1.0" ry="0.7" fill="#858593" opacity="0.37"/><ellipse cx="523.2" cy="479.3" rx="0.9" ry="0.8" fill="#7a7a88" opacity="0.45"/><ellipse cx="526.4" cy="482.7" rx="0.8" ry="0.6" fill="#7a7a88" opacity="0.48"/><ellipse cx="529.6" cy="482.9" rx="0.9" ry="1.0" fill="#858593" opacity="0.29"/><ellipse cx="534.9" cy="481.2" rx="1.1" ry="0.9" fill="#7d7068" opacity="0.44"/><ellipse cx="539.0" cy="482.5" rx="1.1" ry="1.2" fill="#7d7068" opacity="0.43"/><ellipse cx="542.1" cy="484.2" rx="0.9" ry="0.7" fill="#858593" opacity="0.49"/><ellipse cx="544.9" cy="482.7" rx="1.0" ry="0.9" fill="#7d7068" opacity="0.46"/><ellipse cx="547.8" cy="485.6" rx="0.6" ry="0.5" fill="#7a7a88" opacity="0.28"/><ellipse cx="552.7" cy="488.0" rx="0.9" ry="1.0" fill="#7d7068" opacity="0.30"/><ellipse cx="447.2" cy="479.7" rx="0.8" ry="0.8" fill="#7d7068" opacity="0.42"/><ellipse cx="450.6" cy="478.7" rx="1.0" ry="0.7" fill="#858593" opacity="0.46"/><ellipse cx="454.1" cy="480.9" rx="0.7" ry="0.7" fill="#7d7068" opacity="0.28"/><ellipse cx="458.2" cy="480.8" rx="0.9" ry="1.0" fill="#7d7068" opacity="0.36"/><ellipse cx="460.2" cy="482.1" rx="0.7" ry="0.5" fill="#7d7068" opacity="0.46"/><ellipse cx="464.9" cy="480.9" rx="0.9" ry="0.8" fill="#7d7068" opacity="0.32"/><ellipse cx="467.6" cy="483.6" rx="0.8" ry="0.9" fill="#7d7068" opacity="0.46"/><ellipse cx="470.9" cy="485.9" rx="0.6" ry="0.6" fill="#858593" opacity="0.41"/><ellipse cx="476.2" cy="486.6" rx="0.9" ry="0.9" fill="#7d7068" opacity="0.43"/><ellipse cx="479.6" cy="486.6" rx="0.9" ry="0.8" fill="#858593" opacity="0.34"/><ellipse cx="481.8" cy="485.4" rx="0.9" ry="0.9" fill="#7a7a88" opacity="0.47"/><ellipse cx="486.8" cy="485.9" rx="0.7" ry="0.7" fill="#858593" opacity="0.48"/><ellipse cx="489.9" cy="485.3" rx="0.8" ry="0.7" fill="#7a7a88" opacity="0.30"/><ellipse cx="495.0" cy="484.5" rx="1.0" ry="1.2" fill="#7d7068" opacity="0.35"/><ellipse cx="497.5" cy="486.1" rx="0.9" ry="0.8" fill="#7d7068" opacity="0.27"/><ellipse cx="500.9" cy="490.0" rx="0.7" ry="0.5" fill="#7d7068" opacity="0.50"/><ellipse cx="505.1" cy="488.4" rx="0.8" ry="1.0" fill="#7a7a88" opacity="0.40"/><ellipse cx="507.7" cy="488.8" rx="0.6" ry="0.5" fill="#858593" opacity="0.43"/><ellipse cx="511.6" cy="491.0" rx="1.0" ry="0.9" fill="#7a7a88" opacity="0.26"/><ellipse cx="516.8" cy="490.2" rx="0.7" ry="0.8" fill="#858593" opacity="0.46"/><ellipse cx="519.3" cy="489.9" rx="0.9" ry="0.7" fill="#858593" opacity="0.38"/><ellipse cx="523.5" cy="489.5" rx="1.0" ry="1.0" fill="#7a7a88" opacity="0.26"/><ellipse cx="526.9" cy="491.9" rx="1.1" ry="1.3" fill="#858593" opacity="0.47"/><ellipse cx="529.8" cy="492.5" rx="0.8" ry="0.7" fill="#7d7068" opacity="0.44"/><ellipse cx="533.8" cy="492.8" rx="0.9" ry="1.0" fill="#7a7a88" opacity="0.48"/><ellipse cx="537.6" cy="491.4" rx="1.1" ry="1.3" fill="#7d7068" opacity="0.34"/><ellipse cx="540.1" cy="494.9" rx="0.9" ry="0.9" fill="#7d7068" opacity="0.41"/><ellipse cx="546.2" cy="490.7" rx="1.1" ry="1.3" fill="#858593" opacity="0.32"/><ellipse cx="548.0" cy="493.3" rx="0.8" ry="0.7" fill="#7d7068" opacity="0.35"/><ellipse cx="552.8" cy="494.4" rx="0.8" ry="0.7" fill="#7d7068" opacity="0.33"/><ellipse cx="445.5" cy="487.8" rx="0.8" ry="0.9" fill="#7d7068" opacity="0.41"/><ellipse cx="450.3" cy="487.1" rx="0.6" ry="0.6" fill="#7d7068" opacity="0.31"/><ellipse cx="454.2" cy="489.6" rx="1.1" ry="1.2" fill="#7a7a88" opacity="0.44"/><ellipse cx="455.7" cy="492.8" rx="0.9" ry="0.6" fill="#7a7a88" opacity="0.49"/><ellipse cx="461.6" cy="491.4" rx="1.0" ry="1.0" fill="#7a7a88" opacity="0.38"/><ellipse cx="464.5" cy="492.1" rx="0.7" ry="0.7" fill="#7a7a88" opacity="0.28"/><ellipse cx="467.6" cy="496.2" rx="1.1" ry="1.2" fill="#7d7068" opacity="0.35"/><ellipse cx="472.5" cy="490.8" rx="1.1" ry="1.2" fill="#7d7068" opacity="0.34"/><ellipse cx="475.5" cy="493.4" rx="0.7" ry="0.8" fill="#858593" opacity="0.30"/><ellipse cx="479.5" cy="494.5" rx="0.9" ry="0.8" fill="#858593" opacity="0.36"/><ellipse cx="481.5" cy="496.8" rx="1.0" ry="0.7" fill="#7a7a88" opacity="0.45"/><ellipse cx="486.3" cy="494.8" rx="0.8" ry="0.9" fill="#7a7a88" opacity="0.32"/><ellipse cx="490.6" cy="492.7" rx="1.0" ry="1.2" fill="#858593" opacity="0.35"/><ellipse cx="493.0" cy="494.8" rx="0.9" ry="0.7" fill="#7d7068" opacity="0.45"/><ellipse cx="498.0" cy="497.5" rx="1.1" ry="1.1" fill="#858593" opacity="0.33"/><ellipse cx="502.2" cy="495.0" rx="0.6" ry="0.8" fill="#7d7068" opacity="0.32"/><ellipse cx="504.3" cy="497.7" rx="0.7" ry="0.7" fill="#7d7068" opacity="0.46"/><ellipse cx="509.0" cy="496.0" rx="1.1" ry="1.3" fill="#7a7a88" opacity="0.44"/><ellipse cx="513.1" cy="498.2" rx="0.6" ry="0.5" fill="#7d7068" opacity="0.30"/><ellipse cx="515.8" cy="498.5" rx="0.7" ry="0.7" fill="#7a7a88" opacity="0.27"/><ellipse cx="519.1" cy="497.7" rx="0.7" ry="0.6" fill="#7a7a88" opacity="0.37"/><ellipse cx="523.0" cy="501.6" rx="0.6" ry="0.5" fill="#858593" opacity="0.42"/><ellipse cx="526.4" cy="500.2" rx="1.0" ry="1.1" fill="#7a7a88" opacity="0.28"/><ellipse cx="530.3" cy="500.8" rx="0.8" ry="0.7" fill="#7d7068" opacity="0.44"/><ellipse cx="534.3" cy="499.8" rx="0.8" ry="0.7" fill="#858593" opacity="0.36"/><ellipse cx="538.9" cy="499.5" rx="0.9" ry="0.7" fill="#858593" opacity="0.44"/><ellipse cx="542.4" cy="500.6" rx="0.9" ry="1.0" fill="#7d7068" opacity="0.27"/><ellipse cx="544.8" cy="503.0" rx="1.0" ry="0.9" fill="#858593" opacity="0.48"/><ellipse cx="549.0" cy="503.2" rx="0.6" ry="0.7" fill="#858593" opacity="0.49"/><ellipse cx="553.2" cy="501.0" rx="1.1" ry="1.2" fill="#7a7a88" opacity="0.28"/><ellipse cx="446.6" cy="499.9" rx="1.1" ry="1.0" fill="#7a7a88" opacity="0.40"/><ellipse cx="449.8" cy="496.9" rx="1.1" ry="0.8" fill="#7d7068" opacity="0.28"/><ellipse cx="452.9" cy="498.4" rx="1.0" ry="0.9" fill="#7d7068" opacity="0.45"/><ellipse cx="457.8" cy="499.0" rx="0.7" ry="0.8" fill="#7a7a88" opacity="0.27"/><ellipse cx="460.4" cy="501.2" rx="0.8" ry="0.7" fill="#7d7068" opacity="0.35"/><ellipse cx="464.4" cy="501.0" rx="1.1" ry="1.3" fill="#858593" opacity="0.43"/><ellipse cx="468.5" cy="503.7" rx="0.8" ry="0.6" fill="#7d7068" opacity="0.31"/><ellipse cx="471.6" cy="501.5" rx="0.9" ry="0.6" fill="#7d7068" opacity="0.44"/><ellipse cx="476.5" cy="500.8" rx="1.0" ry="1.1" fill="#7d7068" opacity="0.31"/><ellipse cx="478.8" cy="502.3" rx="1.0" ry="0.8" fill="#7d7068" opacity="0.36"/><ellipse cx="483.0" cy="503.2" rx="0.9" ry="0.7" fill="#7d7068" opacity="0.35"/><ellipse cx="485.7" cy="503.2" rx="0.8" ry="0.7" fill="#7a7a88" opacity="0.43"/><ellipse cx="489.5" cy="502.0" rx="0.6" ry="0.6" fill="#7d7068" opacity="0.49"/><ellipse cx="494.1" cy="506.3" rx="1.0" ry="0.9" fill="#7d7068" opacity="0.40"/><ellipse cx="496.9" cy="505.5" rx="1.1" ry="1.2" fill="#858593" opacity="0.33"/><ellipse cx="500.7" cy="507.8" rx="0.8" ry="0.9" fill="#858593" opacity="0.39"/><ellipse cx="505.1" cy="506.4" rx="0.9" ry="0.6" fill="#7a7a88" opacity="0.47"/><ellipse cx="507.7" cy="505.8" rx="0.8" ry="0.8" fill="#7d7068" opacity="0.43"/><ellipse cx="511.3" cy="505.6" rx="0.8" ry="0.9" fill="#858593" opacity="0.39"/><ellipse cx="515.6" cy="507.9" rx="0.8" ry="0.6" fill="#858593" opacity="0.33"/><ellipse cx="518.4" cy="508.3" rx="0.6" ry="0.6" fill="#7d7068" opacity="0.30"/><ellipse cx="523.7" cy="507.2" rx="1.1" ry="1.2" fill="#7d7068" opacity="0.34"/><ellipse cx="526.3" cy="507.6" rx="1.1" ry="0.8" fill="#858593" opacity="0.40"/><ellipse cx="529.8" cy="509.8" rx="0.8" ry="0.9" fill="#7a7a88" opacity="0.44"/><ellipse cx="533.7" cy="511.0" rx="1.0" ry="0.7" fill="#7d7068" opacity="0.43"/><ellipse cx="538.0" cy="512.5" rx="0.7" ry="0.7" fill="#7a7a88" opacity="0.42"/><ellipse cx="542.4" cy="511.1" rx="1.0" ry="0.9" fill="#7a7a88" opacity="0.40"/><ellipse cx="544.2" cy="512.2" rx="1.1" ry="1.1" fill="#858593" opacity="0.33"/><ellipse cx="549.5" cy="510.6" rx="0.7" ry="0.7" fill="#858593" opacity="0.47"/><ellipse cx="552.6" cy="510.2" rx="0.9" ry="0.8" fill="#7d7068" opacity="0.27"/><ellipse cx="445.8" cy="506.2" rx="1.1" ry="1.2" fill="#858593" opacity="0.38"/><ellipse cx="450.6" cy="507.2" rx="0.7" ry="0.7" fill="#858593" opacity="0.27"/><ellipse cx="454.2" cy="506.4" rx="0.9" ry="1.0" fill="#7d7068" opacity="0.36"/><ellipse cx="457.8" cy="508.5" rx="0.6" ry="0.5" fill="#858593" opacity="0.36"/><ellipse cx="460.3" cy="507.1" rx="0.6" ry="0.5" fill="#7d7068" opacity="0.39"/><ellipse cx="463.7" cy="507.4" rx="0.7" ry="0.8" fill="#7d7068" opacity="0.26"/><ellipse cx="468.0" cy="509.2" rx="0.7" ry="0.8" fill="#858593" opacity="0.44"/><ellipse cx="470.6" cy="510.6" rx="1.1" ry="1.3" fill="#7d7068" opacity="0.28"/><ellipse cx="474.9" cy="508.8" rx="1.1" ry="1.0" fill="#858593" opacity="0.40"/><ellipse cx="478.1" cy="512.1" rx="1.0" ry="1.1" fill="#7a7a88" opacity="0.26"/><ellipse cx="482.2" cy="514.1" rx="1.0" ry="0.8" fill="#858593" opacity="0.38"/><ellipse cx="486.9" cy="510.5" rx="1.1" ry="1.0" fill="#858593" opacity="0.38"/><ellipse cx="489.7" cy="510.2" rx="1.0" ry="0.9" fill="#7a7a88" opacity="0.25"/><ellipse cx="493.6" cy="510.9" rx="0.7" ry="0.7" fill="#858593" opacity="0.37"/><ellipse cx="497.7" cy="512.2" rx="0.9" ry="0.7" fill="#7a7a88" opacity="0.36"/><ellipse cx="501.3" cy="513.7" rx="0.8" ry="1.0" fill="#858593" opacity="0.31"/><ellipse cx="505.6" cy="511.5" rx="0.7" ry="0.8" fill="#858593" opacity="0.38"/><ellipse cx="508.7" cy="511.3" rx="0.7" ry="0.6" fill="#858593" opacity="0.38"/><ellipse cx="512.3" cy="515.5" rx="1.0" ry="0.8" fill="#7a7a88" opacity="0.46"/><ellipse cx="514.7" cy="515.3" rx="0.8" ry="0.9" fill="#7a7a88" opacity="0.49"/><ellipse cx="519.8" cy="514.1" rx="0.8" ry="0.6" fill="#7a7a88" opacity="0.43"/><ellipse cx="523.8" cy="515.6" rx="0.6" ry="0.6" fill="#858593" opacity="0.27"/><ellipse cx="526.3" cy="516.1" rx="1.1" ry="1.1" fill="#7a7a88" opacity="0.48"/><ellipse cx="531.8" cy="514.4" rx="1.1" ry="1.1" fill="#858593" opacity="0.34"/><ellipse cx="534.6" cy="516.5" rx="0.8" ry="0.7" fill="#858593" opacity="0.39"/><ellipse cx="537.8" cy="517.7" rx="1.1" ry="0.9" fill="#858593" opacity="0.28"/><ellipse cx="542.0" cy="517.2" rx="0.7" ry="0.8" fill="#7d7068" opacity="0.36"/><ellipse cx="545.0" cy="519.9" rx="1.0" ry="0.9" fill="#858593" opacity="0.49"/><ellipse cx="547.9" cy="517.1" rx="0.8" ry="0.7" fill="#7a7a88" opacity="0.45"/><ellipse cx="552.5" cy="518.9" rx="1.1" ry="1.0" fill="#7a7a88" opacity="0.41"/><ellipse cx="447.5" cy="512.4" rx="1.0" ry="1.0" fill="#7a7a88" opacity="0.25"/><ellipse cx="450.6" cy="512.6" rx="0.7" ry="0.6" fill="#858593" opacity="0.28"/><ellipse cx="452.1" cy="518.1" rx="0.9" ry="0.9" fill="#858593" opacity="0.39"/><ellipse cx="457.1" cy="515.8" rx="0.9" ry="0.8" fill="#858593" opacity="0.38"/><ellipse cx="459.8" cy="518.2" rx="1.1" ry="1.3" fill="#858593" opacity="0.40"/><ellipse cx="464.6" cy="518.6" rx="1.0" ry="0.7" fill="#7a7a88" opacity="0.40"/><ellipse cx="467.4" cy="515.8" rx="0.8" ry="0.8" fill="#7a7a88" opacity="0.38"/><ellipse cx="471.1" cy="517.1" rx="0.7" ry="0.6" fill="#858593" opacity="0.35"/><ellipse cx="474.6" cy="519.3" rx="0.7" ry="0.7" fill="#7d7068" opacity="0.25"/><ellipse cx="478.9" cy="520.9" rx="0.8" ry="0.8" fill="#7d7068" opacity="0.44"/><ellipse cx="482.8" cy="518.3" rx="0.7" ry="0.6" fill="#7a7a88" opacity="0.49"/><ellipse cx="487.2" cy="518.6" rx="0.9" ry="0.9" fill="#7d7068" opacity="0.30"/><ellipse cx="490.6" cy="521.6" rx="0.9" ry="0.8" fill="#858593" opacity="0.41"/><ellipse cx="494.4" cy="520.6" rx="0.9" ry="0.7" fill="#7a7a88" opacity="0.49"/><ellipse cx="496.8" cy="522.3" rx="0.7" ry="0.6" fill="#7a7a88" opacity="0.48"/><ellipse cx="500.4" cy="524.2" rx="1.1" ry="0.8" fill="#7d7068" opacity="0.46"/><ellipse cx="505.3" cy="523.5" rx="0.8" ry="0.8" fill="#7a7a88" opacity="0.32"/><ellipse cx="508.2" cy="522.7" rx="1.0" ry="0.7" fill="#858593" opacity="0.39"/><ellipse cx="512.5" cy="521.3" rx="0.7" ry="0.8" fill="#7d7068" opacity="0.39"/><ellipse cx="515.1" cy="524.1" rx="1.1" ry="1.3" fill="#7a7a88" opacity="0.36"/><ellipse cx="520.4" cy="523.3" rx="0.7" ry="0.8" fill="#858593" opacity="0.43"/><ellipse cx="522.4" cy="525.6" rx="0.9" ry="0.8" fill="#7d7068" opacity="0.25"/><ellipse cx="525.8" cy="527.2" rx="0.6" ry="0.5" fill="#858593" opacity="0.42"/><ellipse cx="530.8" cy="524.4" rx="1.0" ry="0.9" fill="#858593" opacity="0.26"/><ellipse cx="534.5" cy="526.7" rx="0.6" ry="0.7" fill="#7a7a88" opacity="0.27"/><ellipse cx="538.6" cy="528.6" rx="1.1" ry="0.9" fill="#858593" opacity="0.40"/><ellipse cx="542.0" cy="524.7" rx="0.8" ry="0.9" fill="#7a7a88" opacity="0.27"/><ellipse cx="544.3" cy="528.7" rx="0.6" ry="0.5" fill="#858593" opacity="0.36"/><ellipse cx="547.8" cy="528.3" rx="0.7" ry="0.5" fill="#858593" opacity="0.36"/><ellipse cx="552.7" cy="527.6" rx="0.9" ry="1.0" fill="#7a7a88" opacity="0.45"/><ellipse cx="420.5" cy="419.8" rx="1.1" ry="1.0" fill="#6e6158" opacity="0.30"/><ellipse cx="421.3" cy="422.9" rx="0.8" ry="1.0" fill="#6e6158" opacity="0.60"/><ellipse cx="421.7" cy="424.9" rx="0.7" ry="0.6" fill="#6a6470" opacity="0.47"/><ellipse cx="420.9" cy="427.7" rx="0.6" ry="0.7" fill="#6e6158" opacity="0.58"/><ellipse cx="416.9" cy="429.7" rx="0.7" ry="0.8" fill="#6a6470" opacity="0.38"/><ellipse cx="419.0" cy="433.5" rx="0.9" ry="0.7" fill="#7d7068" opacity="0.30"/><ellipse cx="417.9" cy="435.6" rx="0.9" ry="1.0" fill="#6e6158" opacity="0.38"/><ellipse cx="422.1" cy="438.5" rx="0.8" ry="0.8" fill="#8a7f7a" opacity="0.54"/><ellipse cx="420.7" cy="440.8" rx="1.1" ry="1.3" fill="#8a7f7a" opacity="0.37"/><ellipse cx="421.1" cy="443.3" rx="0.7" ry="0.8" fill="#8a7f7a" opacity="0.51"/><ellipse cx="417.8" cy="446.5" rx="1.1" ry="1.1" fill="#6e6158" opacity="0.39"/><ellipse cx="421.6" cy="449.2" rx="0.6" ry="0.5" fill="#6e6158" opacity="0.43"/><ellipse cx="421.9" cy="451.4" rx="0.8" ry="0.7" fill="#8a7f7a" opacity="0.47"/><ellipse cx="422.4" cy="453.4" rx="0.9" ry="0.8" fill="#8a7f7a" opacity="0.41"/><ellipse cx="421.5" cy="457.4" rx="1.0" ry="1.0" fill="#8a7f7a" opacity="0.40"/><ellipse cx="422.0" cy="459.9" rx="0.8" ry="0.9" fill="#6e6158" opacity="0.33"/><ellipse cx="420.0" cy="461.2" rx="0.7" ry="0.6" fill="#8a7f7a" opacity="0.49"/><ellipse cx="418.5" cy="465.1" rx="1.0" ry="0.7" fill="#8a7f7a" opacity="0.57"/><ellipse cx="418.1" cy="466.5" rx="1.1" ry="1.2" fill="#8a7f7a" opacity="0.47"/><ellipse cx="424.0" cy="469.1" rx="0.8" ry="1.0" fill="#8a7f7a" opacity="0.57"/><ellipse cx="423.6" cy="472.7" rx="0.8" ry="0.6" fill="#6e6158" opacity="0.41"/><ellipse cx="416.8" cy="475.5" rx="1.1" ry="1.2" fill="#8a7f7a" opacity="0.47"/><ellipse cx="420.8" cy="477.5" rx="0.8" ry="0.7" fill="#6e6158" opacity="0.31"/><ellipse cx="424.1" cy="480.2" rx="0.9" ry="0.8" fill="#6e6158" opacity="0.37"/><ellipse cx="421.4" cy="483.6" rx="0.7" ry="0.5" fill="#6e6158" opacity="0.41"/><ellipse cx="421.3" cy="485.5" rx="0.8" ry="0.8" fill="#6e6158" opacity="0.36"/><ellipse cx="421.0" cy="487.9" rx="0.7" ry="0.5" fill="#6a6470" opacity="0.49"/><ellipse cx="419.9" cy="490.3" rx="0.9" ry="0.7" fill="#8a7f7a" opacity="0.43"/><ellipse cx="414.0" cy="493.1" rx="0.7" ry="0.5" fill="#7d7068" opacity="0.32"/><ellipse cx="416.1" cy="495.5" rx="0.7" ry="0.6" fill="#8a7f7a" opacity="0.58"/><ellipse cx="416.3" cy="498.2" rx="0.8" ry="0.8" fill="#8a7f7a" opacity="0.57"/><ellipse cx="423.2" cy="501.3" rx="0.8" ry="0.8" fill="#6a6470" opacity="0.32"/><ellipse cx="418.8" cy="504.3" rx="0.7" ry="0.8" fill="#8a7f7a" opacity="0.41"/><ellipse cx="422.3" cy="505.9" rx="0.7" ry="0.6" fill="#8a7f7a" opacity="0.33"/><ellipse cx="423.1" cy="510.0" rx="0.6" ry="0.5" fill="#6a6470" opacity="0.45"/><ellipse cx="414.8" cy="512.6" rx="1.0" ry="0.8" fill="#7d7068" opacity="0.57"/><ellipse cx="421.1" cy="513.8" rx="0.8" ry="0.6" fill="#6a6470" opacity="0.55"/><ellipse cx="419.8" cy="516.7" rx="0.6" ry="0.6" fill="#6e6158" opacity="0.55"/><ellipse cx="427.4" cy="419.5" rx="0.7" ry="0.8" fill="#7d7068" opacity="0.44"/><ellipse cx="425.8" cy="421.9" rx="0.7" ry="0.8" fill="#6e6158" opacity="0.53"/><ellipse cx="426.7" cy="424.9" rx="1.0" ry="1.1" fill="#8a7f7a" opacity="0.59"/><ellipse cx="426.3" cy="428.4" rx="0.6" ry="0.5" fill="#7d7068" opacity="0.45"/><ellipse cx="426.7" cy="430.1" rx="1.1" ry="1.1" fill="#6a6470" opacity="0.34"/><ellipse cx="425.5" cy="432.3" rx="0.8" ry="0.9" fill="#8a7f7a" opacity="0.56"/><ellipse cx="425.0" cy="434.8" rx="1.0" ry="0.7" fill="#7d7068" opacity="0.56"/><ellipse cx="428.3" cy="438.6" rx="0.8" ry="0.7" fill="#6e6158" opacity="0.45"/><ellipse cx="425.9" cy="440.7" rx="0.9" ry="0.8" fill="#7d7068" opacity="0.57"/><ellipse cx="424.5" cy="443.5" rx="0.7" ry="0.6" fill="#7d7068" opacity="0.40"/><ellipse cx="425.6" cy="446.4" rx="0.6" ry="0.5" fill="#6e6158" opacity="0.46"/><ellipse cx="424.9" cy="448.0" rx="0.6" ry="0.5" fill="#8a7f7a" opacity="0.57"/><ellipse cx="427.3" cy="452.0" rx="1.0" ry="0.7" fill="#8a7f7a" opacity="0.47"/><ellipse cx="427.2" cy="453.6" rx="0.6" ry="0.7" fill="#8a7f7a" opacity="0.41"/><ellipse cx="428.1" cy="456.1" rx="1.0" ry="0.8" fill="#7d7068" opacity="0.50"/><ellipse cx="429.0" cy="459.8" rx="1.0" ry="1.0" fill="#8a7f7a" opacity="0.54"/><ellipse cx="426.4" cy="462.4" rx="0.7" ry="0.5" fill="#7d7068" opacity="0.49"/><ellipse cx="423.6" cy="464.6" rx="0.6" ry="0.5" fill="#7d7068" opacity="0.54"/><ellipse cx="425.3" cy="466.4" rx="1.1" ry="1.2" fill="#7d7068" opacity="0.57"/><ellipse cx="424.8" cy="470.1" rx="0.7" ry="0.5" fill="#6e6158" opacity="0.39"/><ellipse cx="427.7" cy="472.8" rx="1.0" ry="0.8" fill="#7d7068" opacity="0.59"/><ellipse cx="427.8" cy="474.5" rx="0.8" ry="0.9" fill="#8a7f7a" opacity="0.60"/><ellipse cx="424.9" cy="478.5" rx="1.1" ry="0.8" fill="#8a7f7a" opacity="0.30"/><ellipse cx="428.7" cy="480.8" rx="0.9" ry="1.1" fill="#6a6470" opacity="0.35"/><ellipse cx="427.5" cy="482.5" rx="0.9" ry="0.7" fill="#6a6470" opacity="0.56"/><ellipse cx="427.7" cy="485.9" rx="0.6" ry="0.6" fill="#8a7f7a" opacity="0.52"/><ellipse cx="422.8" cy="487.7" rx="0.7" ry="0.8" fill="#6e6158" opacity="0.35"/><ellipse cx="429.0" cy="491.0" rx="0.9" ry="1.0" fill="#8a7f7a" opacity="0.52"/><ellipse cx="426.7" cy="493.6" rx="0.7" ry="0.7" fill="#8a7f7a" opacity="0.52"/><ellipse cx="425.4" cy="496.0" rx="1.1" ry="0.9" fill="#8a7f7a" opacity="0.56"/><ellipse cx="423.5" cy="498.9" rx="0.8" ry="0.7" fill="#7d7068" opacity="0.44"/><ellipse cx="424.6" cy="501.4" rx="1.0" ry="1.1" fill="#6a6470" opacity="0.35"/><ellipse cx="428.9" cy="504.5" rx="0.8" ry="0.8" fill="#7d7068" opacity="0.48"/><ellipse cx="431.2" cy="506.3" rx="0.8" ry="0.9" fill="#8a7f7a" opacity="0.35"/><ellipse cx="424.9" cy="509.6" rx="0.7" ry="0.8" fill="#7d7068" opacity="0.34"/><ellipse cx="430.0" cy="511.6" rx="0.8" ry="0.6" fill="#7d7068" opacity="0.46"/><ellipse cx="424.8" cy="514.6" rx="0.8" ry="0.6" fill="#6a6470" opacity="0.55"/><ellipse cx="428.2" cy="517.9" rx="0.9" ry="0.8" fill="#6e6158" opacity="0.34"/><ellipse cx="435.1" cy="419.7" rx="0.8" ry="0.6" fill="#7d7068" opacity="0.40"/><ellipse cx="433.5" cy="422.5" rx="0.8" ry="0.8" fill="#6e6158" opacity="0.48"/><ellipse cx="434.8" cy="425.6" rx="1.1" ry="0.9" fill="#6e6158" opacity="0.58"/><ellipse cx="433.8" cy="428.4" rx="1.1" ry="1.2" fill="#6e6158" opacity="0.46"/><ellipse cx="433.0" cy="430.4" rx="0.7" ry="0.6" fill="#6a6470" opacity="0.40"/><ellipse cx="432.6" cy="432.4" rx="1.1" ry="1.3" fill="#6e6158" opacity="0.33"/><ellipse cx="431.4" cy="435.0" rx="0.8" ry="0.5" fill="#7d7068" opacity="0.50"/><ellipse cx="434.5" cy="438.8" rx="0.8" ry="0.6" fill="#7d7068" opacity="0.31"/><ellipse cx="429.0" cy="440.7" rx="1.0" ry="0.8" fill="#6a6470" opacity="0.31"/><ellipse cx="432.4" cy="443.4" rx="1.1" ry="1.3" fill="#6a6470" opacity="0.41"/><ellipse cx="436.2" cy="446.2" rx="0.7" ry="0.6" fill="#6a6470" opacity="0.43"/><ellipse cx="436.3" cy="449.5" rx="1.1" ry="1.3" fill="#6a6470" opacity="0.54"/><ellipse cx="432.9" cy="450.7" rx="0.7" ry="0.5" fill="#7d7068" opacity="0.43"/><ellipse cx="437.7" cy="454.0" rx="1.0" ry="1.2" fill="#7d7068" opacity="0.56"/><ellipse cx="431.5" cy="456.0" rx="1.1" ry="1.2" fill="#6e6158" opacity="0.42"/><ellipse cx="433.5" cy="459.3" rx="0.7" ry="0.7" fill="#8a7f7a" opacity="0.60"/><ellipse cx="432.2" cy="461.1" rx="0.8" ry="0.6" fill="#6a6470" opacity="0.41"/><ellipse cx="433.8" cy="465.2" rx="0.7" ry="0.5" fill="#8a7f7a" opacity="0.57"/><ellipse cx="437.2" cy="466.6" rx="0.9" ry="0.8" fill="#7d7068" opacity="0.44"/><ellipse cx="429.7" cy="470.3" rx="0.6" ry="0.6" fill="#6e6158" opacity="0.31"/><ellipse cx="432.4" cy="472.1" rx="1.0" ry="0.7" fill="#6e6158" opacity="0.36"/><ellipse cx="433.4" cy="475.5" rx="0.7" ry="0.5" fill="#6a6470" opacity="0.48"/><ellipse cx="434.8" cy="478.3" rx="0.6" ry="0.5" fill="#6e6158" opacity="0.35"/><ellipse cx="434.8" cy="480.2" rx="1.0" ry="1.1" fill="#6a6470" opacity="0.47"/><ellipse cx="433.4" cy="483.2" rx="0.8" ry="0.8" fill="#7d7068" opacity="0.36"/><ellipse cx="433.5" cy="484.9" rx="0.7" ry="0.8" fill="#6a6470" opacity="0.53"/><ellipse cx="433.0" cy="488.9" rx="1.1" ry="1.2" fill="#6e6158" opacity="0.57"/><ellipse cx="431.4" cy="490.9" rx="1.0" ry="0.9" fill="#7d7068" opacity="0.56"/><ellipse cx="432.1" cy="494.2" rx="0.8" ry="0.7" fill="#7d7068" opacity="0.59"/><ellipse cx="431.3" cy="496.7" rx="0.9" ry="0.7" fill="#6e6158" opacity="0.42"/><ellipse cx="436.1" cy="498.3" rx="0.6" ry="0.4" fill="#6e6158" opacity="0.56"/><ellipse cx="431.6" cy="502.0" rx="0.9" ry="1.0" fill="#8a7f7a" opacity="0.33"/><ellipse cx="434.0" cy="504.5" rx="0.9" ry="0.7" fill="#7d7068" opacity="0.43"/><ellipse cx="431.3" cy="506.0" rx="1.1" ry="1.2" fill="#7d7068" opacity="0.51"/><ellipse cx="432.5" cy="509.1" rx="0.8" ry="0.9" fill="#8a7f7a" opacity="0.51"/><ellipse cx="437.5" cy="512.5" rx="1.0" ry="1.1" fill="#8a7f7a" opacity="0.35"/><ellipse cx="428.9" cy="515.0" rx="1.1" ry="1.0" fill="#6e6158" opacity="0.44"/><ellipse cx="429.9" cy="517.3" rx="1.1" ry="0.8" fill="#6e6158" opacity="0.50"/></g><g><ellipse cx="469.0" cy="460.3" rx="1.1" ry="1.1" fill="#6a6470" opacity="0.40"/><ellipse cx="469.9" cy="460.6" rx="1.3" ry="1.2" fill="#8a7f7a" opacity="0.67"/><ellipse cx="471.9" cy="461.3" rx="1.0" ry="1.0" fill="#6e6158" opacity="0.53"/><ellipse cx="473.3" cy="461.3" rx="0.7" ry="0.8" fill="#6e6158" opacity="0.69"/><ellipse cx="475.0" cy="462.7" rx="1.3" ry="1.5" fill="#8a7f7a" opacity="0.55"/><ellipse cx="477.1" cy="464.0" rx="1.0" ry="1.0" fill="#8a7f7a" opacity="0.57"/><ellipse cx="479.2" cy="463.6" rx="1.1" ry="1.3" fill="#8a7f7a" opacity="0.46"/><ellipse cx="480.3" cy="466.0" rx="1.3" ry="0.9" fill="#6e6158" opacity="0.70"/><ellipse cx="482.8" cy="462.4" rx="1.3" ry="1.0" fill="#6a6470" opacity="0.68"/><ellipse cx="483.9" cy="464.7" rx="0.9" ry="0.7" fill="#6a6470" opacity="0.59"/><ellipse cx="485.3" cy="467.2" rx="0.8" ry="0.7" fill="#6a6470" opacity="0.43"/><ellipse cx="486.7" cy="467.0" rx="0.8" ry="0.8" fill="#6a6470" opacity="0.41"/><ellipse cx="489.1" cy="465.8" rx="1.2" ry="1.2" fill="#7d7068" opacity="0.52"/><ellipse cx="490.8" cy="468.5" rx="0.8" ry="0.8" fill="#7d7068" opacity="0.65"/><ellipse cx="493.7" cy="465.6" rx="0.8" ry="0.6" fill="#8a7f7a" opacity="0.62"/><ellipse cx="494.9" cy="466.6" rx="1.3" ry="1.5" fill="#6e6158" opacity="0.45"/><ellipse cx="495.6" cy="468.4" rx="1.3" ry="1.1" fill="#7d7068" opacity="0.46"/><ellipse cx="498.0" cy="468.4" rx="0.9" ry="0.8" fill="#6e6158" opacity="0.47"/><ellipse cx="468.4" cy="464.6" rx="0.9" ry="1.0" fill="#7d7068" opacity="0.70"/><ellipse cx="469.4" cy="465.9" rx="0.7" ry="0.6" fill="#8a7f7a" opacity="0.64"/><ellipse cx="471.5" cy="466.1" rx="1.1" ry="1.2" fill="#8a7f7a" opacity="0.57"/><ellipse cx="473.7" cy="465.0" rx="0.8" ry="0.7" fill="#6e6158" opacity="0.70"/><ellipse cx="475.8" cy="466.4" rx="1.0" ry="1.2" fill="#6e6158" opacity="0.58"/><ellipse cx="477.3" cy="466.6" rx="1.1" ry="1.0" fill="#6a6470" opacity="0.69"/><ellipse cx="478.4" cy="468.2" rx="0.8" ry="0.9" fill="#7d7068" opacity="0.40"/><ellipse cx="480.5" cy="466.8" rx="0.8" ry="0.8" fill="#6e6158" opacity="0.47"/><ellipse cx="482.2" cy="467.6" rx="0.8" ry="0.9" fill="#6e6158" opacity="0.69"/><ellipse cx="484.5" cy="468.9" rx="1.2" ry="1.0" fill="#6e6158" opacity="0.68"/><ellipse cx="485.3" cy="469.9" rx="0.8" ry="0.8" fill="#7d7068" opacity="0.44"/><ellipse cx="488.3" cy="468.6" rx="0.8" ry="0.9" fill="#6a6470" opacity="0.48"/><ellipse cx="489.5" cy="470.2" rx="1.1" ry="0.8" fill="#7d7068" opacity="0.47"/><ellipse cx="490.7" cy="471.0" rx="1.0" ry="1.2" fill="#6e6158" opacity="0.55"/><ellipse cx="492.0" cy="471.9" rx="1.3" ry="1.5" fill="#6a6470" opacity="0.68"/><ellipse cx="494.2" cy="472.2" rx="1.3" ry="1.2" fill="#6e6158" opacity="0.69"/><ellipse cx="496.1" cy="471.2" rx="1.1" ry="1.3" fill="#6e6158" opacity="0.45"/><ellipse cx="498.2" cy="471.4" rx="1.1" ry="1.0" fill="#6a6470" opacity="0.60"/><ellipse cx="470.0" cy="463.8" rx="0.8" ry="0.8" fill="#7d7068" opacity="0.50"/><ellipse cx="471.7" cy="464.3" rx="1.2" ry="0.9" fill="#6a6470" opacity="0.64"/><ellipse cx="474.6" cy="461.4" rx="1.2" ry="1.2" fill="#6e6158" opacity="0.70"/><ellipse cx="475.4" cy="464.4" rx="1.1" ry="1.1" fill="#6e6158" opacity="0.45"/><ellipse cx="478.5" cy="463.0" rx="1.1" ry="1.2" fill="#7d7068" opacity="0.62"/><ellipse cx="478.9" cy="465.9" rx="1.0" ry="1.1" fill="#6e6158" opacity="0.43"/><ellipse cx="480.6" cy="465.8" rx="0.9" ry="0.9" fill="#6a6470" opacity="0.57"/><ellipse cx="483.1" cy="466.0" rx="1.2" ry="0.9" fill="#6a6470" opacity="0.49"/><ellipse cx="485.1" cy="465.2" rx="1.0" ry="0.8" fill="#6a6470" opacity="0.55"/><ellipse cx="485.9" cy="468.9" rx="1.3" ry="0.9" fill="#8a7f7a" opacity="0.49"/><ellipse cx="488.1" cy="466.8" rx="0.8" ry="0.8" fill="#7d7068" opacity="0.46"/><ellipse cx="489.7" cy="467.0" rx="1.1" ry="1.3" fill="#6e6158" opacity="0.43"/><ellipse cx="491.2" cy="469.1" rx="1.3" ry="1.1" fill="#7d7068" opacity="0.41"/><ellipse cx="494.0" cy="468.1" rx="1.2" ry="1.0" fill="#6e6158" opacity="0.66"/><ellipse cx="494.3" cy="471.2" rx="1.2" ry="1.3" fill="#6a6470" opacity="0.49"/><ellipse cx="497.0" cy="470.7" rx="1.2" ry="0.9" fill="#7d7068" opacity="0.44"/><ellipse cx="499.7" cy="468.2" rx="0.9" ry="1.0" fill="#6a6470" opacity="0.66"/></g><rect x="416" y="419" width="138.8" height="99.6" filter="url(#speck4)" opacity="0.45"/><path d="M488,421H545L540,436L495,432Z" fill="#c5c8d6" opacity="0.5" filter="url(#blur1)"/></g></g>
<path fill="none" stroke="#1a1a1a" stroke-width="1.8" d="M48.3,22.5V239.2H457.7"/><path fill="none" stroke="#1a1a1a" stroke-width="1.5" d="M44.6,238.8H48.3M44.6,195.5H48.3M44.6,152.2H48.3M44.6,108.8H48.3M44.6,65.5H48.3M44.6,22.2H48.3M52.2,239.2V242.8M93.1,239.2V242.8M134.0,239.2V242.8M174.9,239.2V242.8M215.8,239.2V242.8M256.7,239.2V242.8M297.6,239.2V242.8M338.5,239.2V242.8M379.4,239.2V242.8M420.3,239.2V242.8"/><text x="38.3" y="243.3" font-size="12.5" font-weight="bold" text-anchor="end" fill="#111" stroke="#111" stroke-width="0.35" >0</text><text x="38.3" y="200.0" font-size="12.5" font-weight="bold" text-anchor="end" fill="#111" stroke="#111" stroke-width="0.35" >10</text><text x="38.3" y="156.7" font-size="12.5" font-weight="bold" text-anchor="end" fill="#111" stroke="#111" stroke-width="0.35" >20</text><text x="38.3" y="113.3" font-size="12.5" font-weight="bold" text-anchor="end" fill="#111" stroke="#111" stroke-width="0.35" >30</text><text x="38.3" y="70.0" font-size="12.5" font-weight="bold" text-anchor="end" fill="#111" stroke="#111" stroke-width="0.35" >40</text><text x="38.3" y="26.7" font-size="12.5" font-weight="bold" text-anchor="end" fill="#111" stroke="#111" stroke-width="0.35" >50</text><text x="52.2" y="258.3" font-size="12" font-weight="bold" text-anchor="middle" fill="#111" stroke="#111" stroke-width="0.35" >0</text><text x="93.1" y="258.3" font-size="12" font-weight="bold" text-anchor="middle" fill="#111" stroke="#111" stroke-width="0.35" >5</text><text x="134.0" y="258.3" font-size="12" font-weight="bold" text-anchor="middle" fill="#111" stroke="#111" stroke-width="0.35" >10</text><text x="174.9" y="258.3" font-size="12" font-weight="bold" text-anchor="middle" fill="#111" stroke="#111" stroke-width="0.35" >15</text><text x="215.8" y="258.3" font-size="12" font-weight="bold" text-anchor="middle" fill="#111" stroke="#111" stroke-width="0.35" >20</text><text x="256.7" y="258.3" font-size="12" font-weight="bold" text-anchor="middle" fill="#111" stroke="#111" stroke-width="0.35" >25</text><text x="297.6" y="258.3" font-size="12" font-weight="bold" text-anchor="middle" fill="#111" stroke="#111" stroke-width="0.35" >30</text><text x="338.5" y="258.3" font-size="12" font-weight="bold" text-anchor="middle" fill="#111" stroke="#111" stroke-width="0.35" >35</text><text x="379.4" y="258.3" font-size="12" font-weight="bold" text-anchor="middle" fill="#111" stroke="#111" stroke-width="0.35" >40</text><text x="420.3" y="258.3" font-size="12" font-weight="bold" text-anchor="middle" fill="#111" stroke="#111" stroke-width="0.35" >45</text><polyline fill="none" stroke="#37378a" stroke-width="1.6" stroke-linejoin="round" points="52.2,145.2 60.4,108.0 68.6,91.5 76.7,85.9 84.9,77.2 93.1,77.6 101.3,78.5 109.5,80.7 117.6,78.5 125.8,84.1 134.0,79.8 142.2,87.2 150.4,91.5 158.5,88.0 166.7,98.0 174.9,105.8 183.1,109.3 191.3,118.4 199.4,124.9 207.6,130.9 215.8,146.5 224.0,151.7 232.2,176.4 240.3,171.7 248.5,188.5 256.7,192.9 264.9,198.5 273.1,210.2 281.2,218.9 289.4,221.0 297.6,221.9 305.8,226.7 314.0,231.0 322.1,237.5 330.3,232.3 338.5,238.8 346.7,237.9 354.9,238.8 363.0,238.4 371.2,238.4 379.4,238.4 387.6,238.4 395.8,238.4 403.9,238.4 412.1,238.4 420.3,238.4 428.5,238.4 436.7,238.4"/><path fill="none" stroke="#37378a" stroke-width="1.6" d="M52.2,118.4V172.1M49.2,118.4H55.2M49.2,172.1H55.2M60.4,99.3V116.6M57.4,99.3H63.4M57.4,116.6H63.4M68.6,88.0V95.0M65.6,88.0H71.6M65.6,95.0H71.6M76.7,74.2V97.6M73.7,74.2H79.7M73.7,97.6H79.7M84.9,66.8V87.6M81.9,66.8H87.9M81.9,87.6H87.9M93.1,75.9V79.4M90.1,75.9H96.1M90.1,79.4H96.1M101.3,75.9V81.1M98.3,75.9H104.3M98.3,81.1H104.3M109.5,77.2V84.1M106.5,77.2H112.5M106.5,84.1H112.5M117.6,69.9V87.2M114.6,69.9H120.6M114.6,87.2H120.6M125.8,77.2V91.1M122.8,77.2H128.8M122.8,91.1H128.8M134.0,74.6V85.0M131.0,74.6H137.0M131.0,85.0H137.0M142.2,82.8V91.5M139.2,82.8H145.2M139.2,91.5H145.2M150.4,85.0V98.0M147.4,85.0H153.4M147.4,98.0H153.4M158.5,82.4V93.7M155.5,82.4H161.5M155.5,93.7H161.5M166.7,90.6V105.4M163.7,90.6H169.7M163.7,105.4H169.7M174.9,100.2V111.4M171.9,100.2H177.9M171.9,111.4H177.9M183.1,102.8V115.8M180.1,102.8H186.1M180.1,115.8H186.1M191.3,112.3V124.4M188.3,112.3H194.3M188.3,124.4H194.3M199.4,119.2V130.5M196.4,119.2H202.4M196.4,130.5H202.4M207.6,124.4V137.4M204.6,124.4H210.6M204.6,137.4H210.6M215.8,140.5V152.6M212.8,140.5H218.8M212.8,152.6H218.8M224.0,146.1V157.4M221.0,146.1H227.0M221.0,157.4H227.0M232.2,166.9V185.9M229.2,166.9H235.2M229.2,185.9H235.2M240.3,164.7V178.6M237.3,164.7H243.3M237.3,178.6H243.3M248.5,178.2V198.9M245.5,178.2H251.5M245.5,198.9H251.5M256.7,187.7V198.1M253.7,187.7H259.7M253.7,198.1H259.7M264.9,197.2V199.8M261.9,197.2H267.9M261.9,199.8H267.9M273.1,204.6V215.8M270.1,204.6H276.1M270.1,215.8H276.1M281.2,214.5V223.2M278.2,214.5H284.2M278.2,223.2H284.2M289.4,216.3V225.8M286.4,216.3H292.4M286.4,225.8H292.4M297.6,215.8V228.0M294.6,215.8H300.6M294.6,228.0H300.6M305.8,224.1V229.3M302.8,224.1H308.8M302.8,229.3H308.8M314.0,227.5V234.5M311.0,227.5H317.0M311.0,234.5H317.0M322.1,236.6V238.4M319.1,236.6H325.1M319.1,238.4H325.1M330.3,231.0V233.6M327.3,231.0H333.3M327.3,233.6H333.3M346.7,237.1V238.8M343.7,237.1H349.7M343.7,238.8H349.7"/><circle cx="52.2" cy="145.2" r="2.3" fill="#37378a"/><circle cx="60.4" cy="108.0" r="2.3" fill="#37378a"/><circle cx="68.6" cy="91.5" r="2.3" fill="#37378a"/><circle cx="76.7" cy="85.9" r="2.3" fill="#37378a"/><circle cx="84.9" cy="77.2" r="2.3" fill="#37378a"/><circle cx="93.1" cy="77.6" r="2.3" fill="#37378a"/><circle cx="101.3" cy="78.5" r="2.3" fill="#37378a"/><circle cx="109.5" cy="80.7" r="2.3" fill="#37378a"/><circle cx="117.6" cy="78.5" r="2.3" fill="#37378a"/><circle cx="125.8" cy="84.1" r="2.3" fill="#37378a"/><circle cx="134.0" cy="79.8" r="2.3" fill="#37378a"/><circle cx="142.2" cy="87.2" r="2.3" fill="#37378a"/><circle cx="150.4" cy="91.5" r="2.3" fill="#37378a"/><circle cx="158.5" cy="88.0" r="2.3" fill="#37378a"/><circle cx="166.7" cy="98.0" r="2.3" fill="#37378a"/><circle cx="174.9" cy="105.8" r="2.3" fill="#37378a"/><circle cx="183.1" cy="109.3" r="2.3" fill="#37378a"/><circle cx="191.3" cy="118.4" r="2.3" fill="#37378a"/><circle cx="199.4" cy="124.9" r="2.3" fill="#37378a"/><circle cx="207.6" cy="130.9" r="2.3" fill="#37378a"/><circle cx="215.8" cy="146.5" r="2.3" fill="#37378a"/><circle cx="224.0" cy="151.7" r="2.3" fill="#37378a"/><circle cx="232.2" cy="176.4" r="2.3" fill="#37378a"/><circle cx="240.3" cy="171.7" r="2.3" fill="#37378a"/><circle cx="248.5" cy="188.5" r="2.3" fill="#37378a"/><circle cx="256.7" cy="192.9" r="2.3" fill="#37378a"/><circle cx="264.9" cy="198.5" r="2.3" fill="#37378a"/><circle cx="273.1" cy="210.2" r="2.3" fill="#37378a"/><circle cx="281.2" cy="218.9" r="2.3" fill="#37378a"/><circle cx="289.4" cy="221.0" r="2.3" fill="#37378a"/><circle cx="297.6" cy="221.9" r="2.3" fill="#37378a"/><circle cx="305.8" cy="226.7" r="2.3" fill="#37378a"/><circle cx="314.0" cy="231.0" r="2.3" fill="#37378a"/><circle cx="322.1" cy="237.5" r="2.3" fill="#37378a"/><circle cx="330.3" cy="232.3" r="2.3" fill="#37378a"/><circle cx="338.5" cy="238.8" r="2.3" fill="#37378a"/><circle cx="346.7" cy="237.9" r="2.3" fill="#37378a"/><circle cx="354.9" cy="238.8" r="2.3" fill="#37378a"/><circle cx="363.0" cy="238.4" r="2.3" fill="#37378a"/><circle cx="371.2" cy="238.4" r="2.3" fill="#37378a"/><circle cx="379.4" cy="238.4" r="2.3" fill="#37378a"/><circle cx="387.6" cy="238.4" r="2.3" fill="#37378a"/><circle cx="395.8" cy="238.4" r="2.3" fill="#37378a"/><circle cx="403.9" cy="238.4" r="2.3" fill="#37378a"/><circle cx="412.1" cy="238.4" r="2.3" fill="#37378a"/><circle cx="420.3" cy="238.4" r="2.3" fill="#37378a"/><circle cx="428.5" cy="238.4" r="2.3" fill="#37378a"/><circle cx="436.7" cy="238.4" r="2.3" fill="#37378a"/><polyline fill="none" stroke="#4b9259" stroke-width="1.6" stroke-linejoin="round" points="52.2,183.4 60.4,130.5 68.6,122.3 76.7,123.6 84.9,121.0 93.1,108.0 101.3,98.0 109.5,104.5 117.6,105.8 125.8,102.3 134.0,105.8 142.2,102.3 150.4,106.7 158.5,104.5 166.7,112.3 174.9,117.9 183.1,123.1 191.3,120.1 199.4,115.8 207.6,129.2 215.8,133.1 224.0,145.2 232.2,150.0 240.3,154.3 248.5,165.6 256.7,179.9 264.9,176.0 273.1,185.9 281.2,205.9 289.4,201.5 297.6,210.6 305.8,218.9 314.0,218.9 322.1,219.3 330.3,221.5 338.5,225.4 346.7,230.1 354.9,231.0 363.0,233.2 371.2,236.6 379.4,237.5 387.6,237.5 395.8,237.5 403.9,237.5 412.1,237.5 420.3,237.5 428.5,237.5 436.7,237.5"/><path fill="none" stroke="#4b9259" stroke-width="1.6" d="M52.2,174.7V192.0M49.2,174.7H55.2M49.2,192.0H55.2M60.4,108.8V152.2M57.4,108.8H63.4M57.4,152.2H63.4M68.6,107.1V137.4M65.6,107.1H71.6M65.6,137.4H71.6M76.7,106.2V140.9M73.7,106.2H79.7M73.7,140.9H79.7M84.9,107.1V134.8M81.9,107.1H87.9M81.9,134.8H87.9M93.1,95.4V120.5M90.1,95.4H96.1M90.1,120.5H96.1M101.3,83.7V112.3M98.3,83.7H104.3M98.3,112.3H104.3M109.5,98.9V110.1M106.5,98.9H112.5M106.5,110.1H112.5M117.6,97.6V114.0M114.6,97.6H120.6M114.6,114.0H120.6M125.8,94.1V110.6M122.8,94.1H128.8M122.8,110.6H128.8M134.0,97.1V114.5M131.0,97.1H137.0M131.0,114.5H137.0M142.2,95.8V108.8M139.2,95.8H145.2M139.2,108.8H145.2M150.4,101.5V111.9M147.4,101.5H153.4M147.4,111.9H153.4M158.5,93.2V115.8M155.5,93.2H161.5M155.5,115.8H161.5M166.7,108.8V115.8M163.7,108.8H169.7M163.7,115.8H169.7M174.9,110.1V125.7M171.9,110.1H177.9M171.9,125.7H177.9M183.1,120.5V125.7M180.1,120.5H186.1M180.1,125.7H186.1M191.3,113.2V127.0M188.3,113.2H194.3M188.3,127.0H194.3M199.4,110.6V121.0M196.4,110.6H202.4M196.4,121.0H202.4M207.6,117.9V140.5M204.6,117.9H210.6M204.6,140.5H210.6M215.8,123.6V142.6M212.8,123.6H218.8M212.8,142.6H218.8M224.0,132.2V158.2M221.0,132.2H227.0M221.0,158.2H227.0M232.2,147.8V152.2M229.2,147.8H235.2M229.2,152.2H235.2M240.3,145.7V163.0M237.3,145.7H243.3M237.3,163.0H243.3M248.5,155.2V176.0M245.5,155.2H251.5M245.5,176.0H251.5M256.7,171.2V188.5M253.7,171.2H259.7M253.7,188.5H259.7M264.9,169.1V182.9M261.9,169.1H267.9M261.9,182.9H267.9M273.1,174.3V197.6M270.1,174.3H276.1M270.1,197.6H276.1M281.2,198.1V213.7M278.2,198.1H284.2M278.2,213.7H284.2M289.4,195.0V208.0M286.4,195.0H292.4M286.4,208.0H292.4M297.6,206.3V215.0M294.6,206.3H300.6M294.6,215.0H300.6M305.8,213.7V224.1M302.8,213.7H308.8M302.8,224.1H308.8M314.0,214.5V223.2M311.0,214.5H317.0M311.0,223.2H317.0M322.1,214.5V224.1M319.1,214.5H325.1M319.1,224.1H325.1M330.3,216.7V226.2M327.3,216.7H333.3M327.3,226.2H333.3M338.5,221.9V228.8M335.5,221.9H341.5M335.5,228.8H341.5M346.7,227.1V233.2M343.7,227.1H349.7M343.7,233.2H349.7M354.9,228.0V234.0M351.9,228.0H357.9M351.9,234.0H357.9M363.0,231.0V235.3M360.0,231.0H366.0M360.0,235.3H366.0M371.2,235.3V237.9M368.2,235.3H374.2M368.2,237.9H374.2M379.4,236.6V238.4M376.4,236.6H382.4M376.4,238.4H382.4M387.6,236.6V238.4M384.6,236.6H390.6M384.6,238.4H390.6M395.8,236.6V238.4M392.8,236.6H398.8M392.8,238.4H398.8M403.9,236.6V238.4M400.9,236.6H406.9M400.9,238.4H406.9M412.1,236.6V238.4M409.1,236.6H415.1M409.1,238.4H415.1M420.3,236.6V238.4M417.3,236.6H423.3M417.3,238.4H423.3M428.5,236.6V238.4M425.5,236.6H431.5M425.5,238.4H431.5M436.7,236.6V238.4M433.7,236.6H439.7M433.7,238.4H439.7"/><rect x="49.6" y="180.8" width="5.2" height="5.2" fill="#4b9259"/><rect x="57.8" y="127.9" width="5.2" height="5.2" fill="#4b9259"/><rect x="66.0" y="119.7" width="5.2" height="5.2" fill="#4b9259"/><rect x="74.1" y="121.0" width="5.2" height="5.2" fill="#4b9259"/><rect x="82.3" y="118.4" width="5.2" height="5.2" fill="#4b9259"/><rect x="90.5" y="105.4" width="5.2" height="5.2" fill="#4b9259"/><rect x="98.7" y="95.4" width="5.2" height="5.2" fill="#4b9259"/><rect x="106.9" y="101.9" width="5.2" height="5.2" fill="#4b9259"/><rect x="115.0" y="103.2" width="5.2" height="5.2" fill="#4b9259"/><rect x="123.2" y="99.7" width="5.2" height="5.2" fill="#4b9259"/><rect x="131.4" y="103.2" width="5.2" height="5.2" fill="#4b9259"/><rect x="139.6" y="99.7" width="5.2" height="5.2" fill="#4b9259"/><rect x="147.8" y="104.1" width="5.2" height="5.2" fill="#4b9259"/><rect x="155.9" y="101.9" width="5.2" height="5.2" fill="#4b9259"/><rect x="164.1" y="109.7" width="5.2" height="5.2" fill="#4b9259"/><rect x="172.3" y="115.3" width="5.2" height="5.2" fill="#4b9259"/><rect x="180.5" y="120.5" width="5.2" height="5.2" fill="#4b9259"/><rect x="188.7" y="117.5" width="5.2" height="5.2" fill="#4b9259"/><rect x="196.8" y="113.2" width="5.2" height="5.2" fill="#4b9259"/><rect x="205.0" y="126.6" width="5.2" height="5.2" fill="#4b9259"/><rect x="213.2" y="130.5" width="5.2" height="5.2" fill="#4b9259"/><rect x="221.4" y="142.6" width="5.2" height="5.2" fill="#4b9259"/><rect x="229.6" y="147.4" width="5.2" height="5.2" fill="#4b9259"/><rect x="237.7" y="151.7" width="5.2" height="5.2" fill="#4b9259"/><rect x="245.9" y="163.0" width="5.2" height="5.2" fill="#4b9259"/><rect x="254.1" y="177.3" width="5.2" height="5.2" fill="#4b9259"/><rect x="262.3" y="173.4" width="5.2" height="5.2" fill="#4b9259"/><rect x="270.5" y="183.3" width="5.2" height="5.2" fill="#4b9259"/><rect x="278.6" y="203.3" width="5.2" height="5.2" fill="#4b9259"/><rect x="286.8" y="198.9" width="5.2" height="5.2" fill="#4b9259"/><rect x="295.0" y="208.0" width="5.2" height="5.2" fill="#4b9259"/><rect x="303.2" y="216.3" width="5.2" height="5.2" fill="#4b9259"/><rect x="311.4" y="216.3" width="5.2" height="5.2" fill="#4b9259"/><rect x="319.5" y="216.7" width="5.2" height="5.2" fill="#4b9259"/><rect x="327.7" y="218.9" width="5.2" height="5.2" fill="#4b9259"/><rect x="335.9" y="222.8" width="5.2" height="5.2" fill="#4b9259"/><rect x="344.1" y="227.5" width="5.2" height="5.2" fill="#4b9259"/><rect x="352.3" y="228.4" width="5.2" height="5.2" fill="#4b9259"/><rect x="360.4" y="230.6" width="5.2" height="5.2" fill="#4b9259"/><rect x="368.6" y="234.0" width="5.2" height="5.2" fill="#4b9259"/><rect x="376.8" y="234.9" width="5.2" height="5.2" fill="#4b9259"/><rect x="385.0" y="234.9" width="5.2" height="5.2" fill="#4b9259"/><rect x="393.2" y="234.9" width="5.2" height="5.2" fill="#4b9259"/><rect x="401.3" y="234.9" width="5.2" height="5.2" fill="#4b9259"/><rect x="409.5" y="234.9" width="5.2" height="5.2" fill="#4b9259"/><rect x="417.7" y="234.9" width="5.2" height="5.2" fill="#4b9259"/><rect x="425.9" y="234.9" width="5.2" height="5.2" fill="#4b9259"/><rect x="434.1" y="234.9" width="5.2" height="5.2" fill="#4b9259"/><text x="252.7" y="278.2" font-size="12.9" font-weight="normal" text-anchor="middle" fill="#111" letter-spacing="0.3">Crypt position</text><text x="0" y="0" font-size="12.85" font-weight="normal" text-anchor="middle" fill="#111" transform="translate(12.6,127.3) rotate(-90)">PCNA+ve nuclei/20 crypts</text><text x="252.7" y="15.6" font-size="14" font-weight="bold" text-anchor="middle" fill="#111" stroke="#111" stroke-width="0.35" >colon</text><path stroke="#37378a" stroke-width="1.8" d="M198.6,57.2H218.1"/><circle cx="208.8" cy="57.2" r="2.3" fill="#37378a"/><path stroke="#4b9259" stroke-width="1.8" d="M200.8,81.7H219.6"/><rect x="207.6" y="79.3" width="4.8" height="4.8" fill="#4b9259"/><text x="223.7" y="62.2" font-size="14.6" font-weight="bold" text-anchor="start" fill="#111" stroke="#111" stroke-width="0.35" >wt</text><text x="223.2" y="85.4" font-size="14.6" font-weight="bold" fill="#111"><tspan font-style="italic">creb</tspan> KO</text><text x="3" y="11.3" font-size="16.5" font-weight="bold" text-anchor="start" fill="#111" stroke="#111" stroke-width="0.35" >a</text><path fill="none" stroke="#1a1a1a" stroke-width="1.8" d="M45.8,316.6V534.0H455.7"/><path fill="none" stroke="#1a1a1a" stroke-width="1.5" d="M42,534.0H45.8M42,490.6H45.8M42,447.1H45.8M42,403.7H45.8M42,360.2H45.8M42,316.8H45.8M51.2,534V537.8M106.5,534V537.8M161.7,534V537.8M216.9,534V537.8M272.2,534V537.8M327.4,534V537.8M382.7,534V537.8M437.9,534V537.8"/><text x="38.3" y="538.5" font-size="12.5" font-weight="bold" text-anchor="end" fill="#111" stroke="#111" stroke-width="0.35" >0</text><text x="38.3" y="495.1" font-size="12.5" font-weight="bold" text-anchor="end" fill="#111" stroke="#111" stroke-width="0.35" >10</text><text x="38.3" y="451.6" font-size="12.5" font-weight="bold" text-anchor="end" fill="#111" stroke="#111" stroke-width="0.35" >20</text><text x="38.3" y="408.2" font-size="12.5" font-weight="bold" text-anchor="end" fill="#111" stroke="#111" stroke-width="0.35" >30</text><text x="38.3" y="364.7" font-size="12.5" font-weight="bold" text-anchor="end" fill="#111" stroke="#111" stroke-width="0.35" >40</text><text x="38.3" y="321.3" font-size="12.5" font-weight="bold" text-anchor="end" fill="#111" stroke="#111" stroke-width="0.35" >50</text><text x="51.2" y="554.2" font-size="12" font-weight="bold" text-anchor="middle" fill="#111" stroke="#111" stroke-width="0.35" >0</text><text x="106.5" y="554.2" font-size="12" font-weight="bold" text-anchor="middle" fill="#111" stroke="#111" stroke-width="0.35" >5</text><text x="161.7" y="554.2" font-size="12" font-weight="bold" text-anchor="middle" fill="#111" stroke="#111" stroke-width="0.35" >10</text><text x="216.9" y="554.2" font-size="12" font-weight="bold" text-anchor="middle" fill="#111" stroke="#111" stroke-width="0.35" >15</text><text x="272.2" y="554.2" font-size="12" font-weight="bold" text-anchor="middle" fill="#111" stroke="#111" stroke-width="0.35" >20</text><text x="327.4" y="554.2" font-size="12" font-weight="bold" text-anchor="middle" fill="#111" stroke="#111" stroke-width="0.35" >25</text><text x="382.7" y="554.2" font-size="12" font-weight="bold" text-anchor="middle" fill="#111" stroke="#111" stroke-width="0.35" >30</text><text x="437.9" y="554.2" font-size="12" font-weight="bold" text-anchor="middle" fill="#111" stroke="#111" stroke-width="0.35" >35</text><polyline fill="none" stroke="#37378a" stroke-width="1.6" stroke-linejoin="round" points="51.2,464.9 62.2,391.1 73.3,388.9 84.4,372.4 95.4,377.6 106.5,375.9 117.5,368.1 128.6,366.3 139.6,375.0 150.7,371.1 161.7,373.3 172.8,383.3 183.8,377.6 194.9,389.3 205.9,375.9 216.9,385.0 228.0,411.9 239.1,415.8 250.1,417.6 261.2,422.8 272.2,430.2 283.2,448.0 294.3,461.5 305.4,470.6 316.4,480.6 327.4,491.4 338.5,510.1 349.6,513.6 360.6,517.9 371.7,521.0 382.7,524.0 393.8,527.9 404.8,534.0 415.9,533.6 426.9,533.6 437.9,533.6"/><path fill="none" stroke="#37378a" stroke-width="1.6" d="M51.2,460.6V469.3M48.2,460.6H54.2M48.2,469.3H54.2M62.2,385.9V396.3M59.2,385.9H65.2M59.2,396.3H65.2M73.3,381.1V396.7M70.3,381.1H76.3M70.3,396.7H76.3M84.4,371.1V373.7M81.4,371.1H87.4M81.4,373.7H87.4M95.4,375.9V379.4M92.4,375.9H98.4M92.4,379.4H98.4M106.5,370.7V381.1M103.5,370.7H109.5M103.5,381.1H109.5M117.5,364.1V372.0M114.5,364.1H120.5M114.5,372.0H120.5M128.6,362.4V370.2M125.6,362.4H131.6M125.6,370.2H131.6M139.6,369.4V380.7M136.6,369.4H142.6M136.6,380.7H142.6M150.7,368.9V373.3M147.7,368.9H153.7M147.7,373.3H153.7M161.7,366.8V379.8M158.7,366.8H164.7M158.7,379.8H164.7M172.8,380.2V386.3M169.8,380.2H175.8M169.8,386.3H175.8M183.8,375.0V380.2M180.8,375.0H186.8M180.8,380.2H186.8M194.9,388.0V390.6M191.9,388.0H197.9M191.9,390.6H197.9M205.9,368.9V382.8M202.9,368.9H208.9M202.9,382.8H208.9M216.9,375.0V395.0M213.9,375.0H219.9M213.9,395.0H219.9M228.0,406.3V417.6M225.0,406.3H231.0M225.0,417.6H231.0M239.1,410.6V421.1M236.1,410.6H242.1M236.1,421.1H242.1M250.1,409.8V425.4M247.1,409.8H253.1M247.1,425.4H253.1M261.2,414.1V431.5M258.2,414.1H264.2M258.2,431.5H264.2M272.2,423.2V437.1M269.2,423.2H275.2M269.2,437.1H275.2M283.2,438.9V457.1M280.2,438.9H286.2M280.2,457.1H286.2M294.3,452.8V470.1M291.3,452.8H297.3M291.3,470.1H297.3M305.4,463.6V477.5M302.4,463.6H308.4M302.4,477.5H308.4M316.4,473.2V488.0M313.4,473.2H319.4M313.4,488.0H319.4M327.4,484.5V498.4M324.4,484.5H330.4M324.4,498.4H330.4M338.5,503.2V517.1M335.5,503.2H341.5M335.5,517.1H341.5M349.6,506.6V520.5M346.6,506.6H352.6M346.6,520.5H352.6M360.6,513.6V522.3M357.6,513.6H363.6M357.6,522.3H363.6M371.7,517.1V524.9M368.7,517.1H374.7M368.7,524.9H374.7M382.7,520.5V527.5M379.7,520.5H385.7M379.7,527.5H385.7M393.8,526.6V529.2M390.8,526.6H396.8M390.8,529.2H396.8"/><circle cx="51.2" cy="464.9" r="2.3" fill="#37378a"/><circle cx="62.2" cy="391.1" r="2.3" fill="#37378a"/><circle cx="73.3" cy="388.9" r="2.3" fill="#37378a"/><circle cx="84.4" cy="372.4" r="2.3" fill="#37378a"/><circle cx="95.4" cy="377.6" r="2.3" fill="#37378a"/><circle cx="106.5" cy="375.9" r="2.3" fill="#37378a"/><circle cx="117.5" cy="368.1" r="2.3" fill="#37378a"/><circle cx="128.6" cy="366.3" r="2.3" fill="#37378a"/><circle cx="139.6" cy="375.0" r="2.3" fill="#37378a"/><circle cx="150.7" cy="371.1" r="2.3" fill="#37378a"/><circle cx="161.7" cy="373.3" r="2.3" fill="#37378a"/><circle cx="172.8" cy="383.3" r="2.3" fill="#37378a"/><circle cx="183.8" cy="377.6" r="2.3" fill="#37378a"/><circle cx="194.9" cy="389.3" r="2.3" fill="#37378a"/><circle cx="205.9" cy="375.9" r="2.3" fill="#37378a"/><circle cx="216.9" cy="385.0" r="2.3" fill="#37378a"/><circle cx="228.0" cy="411.9" r="2.3" fill="#37378a"/><circle cx="239.1" cy="415.8" r="2.3" fill="#37378a"/><circle cx="250.1" cy="417.6" r="2.3" fill="#37378a"/><circle cx="261.2" cy="422.8" r="2.3" fill="#37378a"/><circle cx="272.2" cy="430.2" r="2.3" fill="#37378a"/><circle cx="283.2" cy="448.0" r="2.3" fill="#37378a"/><circle cx="294.3" cy="461.5" r="2.3" fill="#37378a"/><circle cx="305.4" cy="470.6" r="2.3" fill="#37378a"/><circle cx="316.4" cy="480.6" r="2.3" fill="#37378a"/><circle cx="327.4" cy="491.4" r="2.3" fill="#37378a"/><circle cx="338.5" cy="510.1" r="2.3" fill="#37378a"/><circle cx="349.6" cy="513.6" r="2.3" fill="#37378a"/><circle cx="360.6" cy="517.9" r="2.3" fill="#37378a"/><circle cx="371.7" cy="521.0" r="2.3" fill="#37378a"/><circle cx="382.7" cy="524.0" r="2.3" fill="#37378a"/><circle cx="393.8" cy="527.9" r="2.3" fill="#37378a"/><circle cx="404.8" cy="534.0" r="2.3" fill="#37378a"/><circle cx="415.9" cy="533.6" r="2.3" fill="#37378a"/><circle cx="426.9" cy="533.6" r="2.3" fill="#37378a"/><circle cx="437.9" cy="533.6" r="2.3" fill="#37378a"/><polyline fill="none" stroke="#4b9259" stroke-width="1.6" stroke-linejoin="round" points="51.2,480.1 62.2,415.4 73.3,417.1 84.4,404.5 95.4,392.8 106.5,395.0 117.5,398.5 128.6,395.0 139.6,399.3 150.7,398.5 161.7,393.3 172.8,397.6 183.8,401.1 194.9,408.0 205.9,411.9 216.9,420.6 228.0,430.2 239.1,445.4 250.1,452.8 261.2,466.7 272.2,481.4 283.2,482.3 294.3,501.0 305.4,508.8 316.4,512.7 327.4,515.3 338.5,516.2 349.6,519.2 360.6,522.7 371.7,526.6 382.7,531.8 393.8,531.0 404.8,529.7 415.9,533.1 426.9,533.1 437.9,532.7"/><path fill="none" stroke="#4b9259" stroke-width="1.6" d="M51.2,473.6V486.7M48.2,473.6H54.2M48.2,486.7H54.2M62.2,407.2V423.7M59.2,407.2H65.2M59.2,423.7H65.2M73.3,407.6V426.7M70.3,407.6H76.3M70.3,426.7H76.3M84.4,396.3V412.8M81.4,396.3H87.4M81.4,412.8H87.4M95.4,387.2V398.5M92.4,387.2H98.4M92.4,398.5H98.4M106.5,386.7V403.2M103.5,386.7H109.5M103.5,403.2H109.5M117.5,394.1V402.8M114.5,394.1H120.5M114.5,402.8H120.5M128.6,391.5V398.5M125.6,391.5H131.6M125.6,398.5H131.6M139.6,391.1V407.6M136.6,391.1H142.6M136.6,407.6H142.6M150.7,394.6V402.4M147.7,394.6H153.7M147.7,402.4H153.7M161.7,385.4V401.1M158.7,385.4H164.7M158.7,401.1H164.7M172.8,391.5V403.7M169.8,391.5H175.8M169.8,403.7H175.8M183.8,395.0V407.2M180.8,395.0H186.8M180.8,407.2H186.8M194.9,400.2V415.8M191.9,400.2H197.9M191.9,415.8H197.9M205.9,405.0V418.9M202.9,405.0H208.9M202.9,418.9H208.9M216.9,414.5V426.7M213.9,414.5H219.9M213.9,426.7H219.9M228.0,418.0V442.3M225.0,418.0H231.0M225.0,442.3H231.0M239.1,438.4V452.3M236.1,438.4H242.1M236.1,452.3H242.1M250.1,444.5V461.0M247.1,444.5H253.1M247.1,461.0H253.1M261.2,460.2V473.2M258.2,460.2H264.2M258.2,473.2H264.2M272.2,475.4V487.5M269.2,475.4H275.2M269.2,487.5H275.2M283.2,472.7V491.9M280.2,472.7H286.2M280.2,491.9H286.2M294.3,494.9V507.1M291.3,494.9H297.3M291.3,507.1H297.3M305.4,501.9V515.8M302.4,501.9H308.4M302.4,515.8H308.4M316.4,506.6V518.8M313.4,506.6H319.4M313.4,518.8H319.4M327.4,510.1V520.5M324.4,510.1H330.4M324.4,520.5H330.4M338.5,510.1V522.3M335.5,510.1H341.5M335.5,522.3H341.5M349.6,513.1V525.3M346.6,513.1H352.6M346.6,525.3H352.6M360.6,517.9V527.5M357.6,517.9H363.6M357.6,527.5H363.6M371.7,523.6V529.7M368.7,523.6H374.7M368.7,529.7H374.7M382.7,530.5V533.1M379.7,530.5H385.7M379.7,533.1H385.7M393.8,529.7V532.3M390.8,529.7H396.8M390.8,532.3H396.8M404.8,528.4V531.0M401.8,528.4H407.8M401.8,531.0H407.8M415.9,532.3V534.0M412.9,532.3H418.9M412.9,534.0H418.9M426.9,532.3V534.0M423.9,532.3H429.9M423.9,534.0H429.9M437.9,531.8V533.6M434.9,531.8H440.9M434.9,533.6H440.9"/><rect x="48.6" y="477.5" width="5.2" height="5.2" fill="#4b9259"/><rect x="59.6" y="412.8" width="5.2" height="5.2" fill="#4b9259"/><rect x="70.7" y="414.5" width="5.2" height="5.2" fill="#4b9259"/><rect x="81.8" y="401.9" width="5.2" height="5.2" fill="#4b9259"/><rect x="92.8" y="390.2" width="5.2" height="5.2" fill="#4b9259"/><rect x="103.9" y="392.4" width="5.2" height="5.2" fill="#4b9259"/><rect x="114.9" y="395.9" width="5.2" height="5.2" fill="#4b9259"/><rect x="126.0" y="392.4" width="5.2" height="5.2" fill="#4b9259"/><rect x="137.0" y="396.7" width="5.2" height="5.2" fill="#4b9259"/><rect x="148.1" y="395.9" width="5.2" height="5.2" fill="#4b9259"/><rect x="159.1" y="390.7" width="5.2" height="5.2" fill="#4b9259"/><rect x="170.2" y="395.0" width="5.2" height="5.2" fill="#4b9259"/><rect x="181.2" y="398.5" width="5.2" height="5.2" fill="#4b9259"/><rect x="192.3" y="405.4" width="5.2" height="5.2" fill="#4b9259"/><rect x="203.3" y="409.3" width="5.2" height="5.2" fill="#4b9259"/><rect x="214.3" y="418.0" width="5.2" height="5.2" fill="#4b9259"/><rect x="225.4" y="427.6" width="5.2" height="5.2" fill="#4b9259"/><rect x="236.5" y="442.8" width="5.2" height="5.2" fill="#4b9259"/><rect x="247.5" y="450.2" width="5.2" height="5.2" fill="#4b9259"/><rect x="258.6" y="464.1" width="5.2" height="5.2" fill="#4b9259"/><rect x="269.6" y="478.8" width="5.2" height="5.2" fill="#4b9259"/><rect x="280.6" y="479.7" width="5.2" height="5.2" fill="#4b9259"/><rect x="291.7" y="498.4" width="5.2" height="5.2" fill="#4b9259"/><rect x="302.8" y="506.2" width="5.2" height="5.2" fill="#4b9259"/><rect x="313.8" y="510.1" width="5.2" height="5.2" fill="#4b9259"/><rect x="324.8" y="512.7" width="5.2" height="5.2" fill="#4b9259"/><rect x="335.9" y="513.6" width="5.2" height="5.2" fill="#4b9259"/><rect x="346.9" y="516.6" width="5.2" height="5.2" fill="#4b9259"/><rect x="358.0" y="520.1" width="5.2" height="5.2" fill="#4b9259"/><rect x="369.1" y="524.0" width="5.2" height="5.2" fill="#4b9259"/><rect x="380.1" y="529.2" width="5.2" height="5.2" fill="#4b9259"/><rect x="391.1" y="528.4" width="5.2" height="5.2" fill="#4b9259"/><rect x="402.2" y="527.1" width="5.2" height="5.2" fill="#4b9259"/><rect x="413.2" y="530.5" width="5.2" height="5.2" fill="#4b9259"/><rect x="424.3" y="530.5" width="5.2" height="5.2" fill="#4b9259"/><rect x="435.3" y="530.1" width="5.2" height="5.2" fill="#4b9259"/><text x="251.1" y="574.6" font-size="13.2" font-weight="bold" text-anchor="middle" fill="#111" stroke="#111" stroke-width="0.35" >Crypt position</text><text x="0" y="0" font-size="12.8" font-weight="bold" text-anchor="middle" fill="#111" stroke="#111" stroke-width="0.35" transform="translate(12.2,422.2) rotate(-90)">PCNA+ve nuclei/20 crypts</text><text x="249.8" y="315.9" font-size="14.2" font-weight="bold" text-anchor="middle" fill="#111" stroke="#111" stroke-width="0.35" >small intestine</text><text x="2" y="312" font-size="16.5" font-weight="bold" text-anchor="start" fill="#111" stroke="#111" stroke-width="0.35" >c</text><rect x="125.7" y="716.2" width="20" height="88.8" fill="#4e5a8e" stroke="#111" stroke-width="1.3"/><rect x="155.7" y="721.0" width="20.5" height="84.0" fill="#4f8874" stroke="#111" stroke-width="1.3"/><path fill="none" stroke="#111" stroke-width="1.8" d="M135.7,716.2V713.1M130.7,713.1H140.7"/><path fill="none" stroke="#111" stroke-width="1.8" d="M165.9,721.0V718.6M160.9,718.6H170.9"/><path fill="none" stroke="#111" stroke-width="2.2" d="M118.8,646.2V805.2H184.8"/><path fill="none" stroke="#111" stroke-width="1.6" d="M114.8,805.0H118.8M114.8,773.3H118.8M114.8,741.6H118.8M114.8,709.9H118.8M114.8,678.2H118.8M114.8,646.5H118.8"/><text x="109.3" y="809.6" font-size="13.2" font-weight="normal" text-anchor="end" fill="#1a1a1a" >0</text><text x="109.3" y="777.9" font-size="13.2" font-weight="normal" text-anchor="end" fill="#1a1a1a" >0.2</text><text x="109.3" y="746.2" font-size="13.2" font-weight="normal" text-anchor="end" fill="#1a1a1a" >0.4</text><text x="109.3" y="714.5" font-size="13.2" font-weight="normal" text-anchor="end" fill="#1a1a1a" >0.6</text><text x="109.3" y="682.8" font-size="13.2" font-weight="normal" text-anchor="end" fill="#1a1a1a" >0.8</text><text x="109.3" y="651.1" font-size="13.2" font-weight="normal" text-anchor="end" fill="#1a1a1a" >1.0</text><text x="136.5" y="819.3" font-size="12.5" font-weight="bold" text-anchor="middle" fill="#111" stroke="#111" stroke-width="0.35" >WT</text><text x="167.39999999999998" y="819.3" font-size="12.5" font-weight="bold" text-anchor="middle" fill="#111" stroke="#111" stroke-width="0.35" >KO</text><text x="0" y="0" font-size="13.6" font-weight="bold" text-anchor="middle" fill="#111" stroke="#111" stroke-width="0.35" transform="translate(66.5,726) rotate(-90)">Positive nuclei/total</text><text x="0" y="0" font-size="13.6" font-weight="bold" text-anchor="middle" fill="#111" stroke="#111" stroke-width="0.35" transform="translate(80.19999999999999,726) rotate(-90)">crypts cells</text><text x="167.5" y="711.4" font-size="12.5" font-weight="normal" text-anchor="middle" fill="#111" >NS</text><text x="56.2" y="607.8" font-size="16" font-weight="bold" text-anchor="start" fill="#111" stroke="#111" stroke-width="0.35" >e</text><text x="149.5" y="607.8" font-size="13" font-weight="bold" text-anchor="middle" fill="#111" stroke="#111" stroke-width="0.35" >colon</text><rect x="269.2" y="661.6" width="20" height="143.4" fill="#4e5a8e" stroke="#111" stroke-width="1.3"/><rect x="298.2" y="690.1" width="20.5" height="114.9" fill="#4f8874" stroke="#111" stroke-width="1.3"/><path fill="none" stroke="#111" stroke-width="1.8" d="M279.2,661.6V659.5M274.2,659.5H284.2"/><path fill="none" stroke="#111" stroke-width="1.8" d="M308.4,690.1V687.7M303.4,687.7H313.4"/><path fill="none" stroke="#111" stroke-width="2.2" d="M263.2,646.2V805.2H329.2"/><path fill="none" stroke="#111" stroke-width="1.6" d="M259.2,805.0H263.2M259.2,773.3H263.2M259.2,741.6H263.2M259.2,709.9H263.2M259.2,678.2H263.2M259.2,646.5H263.2"/><text x="255.7" y="809.6" font-size="13.2" font-weight="normal" text-anchor="end" fill="#1a1a1a" >0</text><text x="255.7" y="777.9" font-size="13.2" font-weight="normal" text-anchor="end" fill="#1a1a1a" >0.2</text><text x="255.7" y="746.2" font-size="13.2" font-weight="normal" text-anchor="end" fill="#1a1a1a" >0.4</text><text x="255.7" y="714.5" font-size="13.2" font-weight="normal" text-anchor="end" fill="#1a1a1a" >0.6</text><text x="255.7" y="682.8" font-size="13.2" font-weight="normal" text-anchor="end" fill="#1a1a1a" >0.8</text><text x="255.7" y="651.1" font-size="13.2" font-weight="normal" text-anchor="end" fill="#1a1a1a" >1.0</text><text x="280.0" y="819.3" font-size="12.5" font-weight="bold" text-anchor="middle" fill="#111" stroke="#111" stroke-width="0.35" >WT</text><text x="311.4" y="819.3" font-size="12.5" font-weight="bold" text-anchor="middle" fill="#111" stroke="#111" stroke-width="0.35" >KO</text><text x="0" y="0" font-size="13.6" font-weight="bold" text-anchor="middle" fill="#111" stroke="#111" stroke-width="0.35" transform="translate(212.70000000000002,726) rotate(-90)">Positive nuclei/total</text><text x="0" y="0" font-size="13.6" font-weight="bold" text-anchor="middle" fill="#111" stroke="#111" stroke-width="0.35" transform="translate(226.4,726) rotate(-90)">crypts cells</text><text x="308.4" y="688.2" font-size="20.5" font-weight="bold" text-anchor="middle" fill="#111" stroke="#111" stroke-width="0.35" >***</text><rect x="274" y="659.2" width="10.6" height="4.6" fill="#222"/><text x="202.5" y="610.5" font-size="16.8" font-weight="bold" text-anchor="start" fill="#111" stroke="#111" stroke-width="0.35" >f</text><text x="293.6" y="609.2" font-size="13" font-weight="bold" text-anchor="middle" fill="#111" stroke="#111" stroke-width="0.35" >SI</text><path fill="none" stroke="#111" stroke-width="2.2" d="M410.4,623.8V804.8H492"/><path fill="none" stroke="#111" stroke-width="1.6" d="M404.4,804.8H410.4M404.4,759.6H410.4M404.4,714.5H410.4M404.4,669.3H410.4M404.4,624.1H410.4"/><text x="400.2" y="809.2" font-size="12.5" font-weight="bold" text-anchor="end" fill="#111" stroke="#111" stroke-width="0.35" >0</text><text x="400.2" y="764.0" font-size="12.5" font-weight="bold" text-anchor="end" fill="#111" stroke="#111" stroke-width="0.35" >50</text><text x="400.2" y="718.9" font-size="12.5" font-weight="bold" text-anchor="end" fill="#111" stroke="#111" stroke-width="0.35" >100</text><text x="400.2" y="673.7" font-size="12.5" font-weight="bold" text-anchor="end" fill="#111" stroke="#111" stroke-width="0.35" >150</text><text x="400.2" y="628.5" font-size="12.5" font-weight="bold" text-anchor="end" fill="#111" stroke="#111" stroke-width="0.35" >200</text><text x="438.4" y="819" font-size="12.5" font-weight="normal" text-anchor="middle" fill="#111" >WT</text><text x="480.4" y="819" font-size="12.5" font-weight="normal" text-anchor="middle" fill="#111" >KO</text><path fill="none" stroke="#111" stroke-width="2.2" d="M412.7,675.3H461.4M423.4,670.9H448.9M422.4,681.3H447.6M435.6,670V682"/><circle cx="434.9" cy="667.9" r="3.3" fill="#111"/><rect x="442.3" y="670.6" width="6.4" height="6.4" fill="#111"/><circle cx="445.5" cy="680.5" r="3.2" fill="#111"/><circle cx="445.5" cy="686.4" r="3.4" fill="#111"/><path fill="none" stroke="#111" stroke-width="2.2" d="M457.2,740.4H506.2M470.1,727.2H494.2M470.1,753.2H494.2M481.6,727V753.5"/><rect x="478.2" y="711.3" width="7.4" height="7.4" fill="#111"/><rect x="489" y="745.1" width="7.2" height="7.4" fill="#111"/><rect x="478.4" y="753.6" width="7.2" height="7.2" fill="#111"/><path fill="none" stroke="#111" stroke-width="2" d="M435,652.6V662.3M435,657.4H481.3M481.3,652.6V662.3"/><text x="458.2" y="656.8" font-size="21" font-weight="bold" text-anchor="middle" fill="#111" stroke="#111" stroke-width="0.35" >**</text><text x="412.5" y="608.7" font-size="13.5" font-weight="bold" fill="#111"><tspan font-style="italic">pcna</tspan> mRNA</text><text x="344.8" y="609.5" font-size="16" font-weight="bold" text-anchor="start" fill="#111" stroke="#111" stroke-width="0.35" >g</text><text x="0" y="0" font-size="13.5" font-weight="bold" text-anchor="middle" fill="#111" stroke="#111" stroke-width="0.35" transform="translate(355.0,714.8) rotate(-90)">Relative expression</text><text x="0" y="0" font-size="13.6" font-weight="bold" text-anchor="middle" fill="#111" stroke="#111" stroke-width="0.35" transform="translate(370.8,715.8) rotate(-90)">to GAPDH</text>
<text x="552.5" y="18.8" font-size="12.8" font-weight="normal" text-anchor="end" fill="#1c1e2a" >x20</text><text x="545.6" y="100.5" font-size="13.2" font-weight="normal" text-anchor="end" fill="#1c1e2a" >WT</text><text x="554.6" y="211" font-size="13.6" font-weight="normal" text-anchor="end" fill="#1c1e2a" >KO</text><text x="555.4" y="329.4" font-size="12.8" font-weight="normal" text-anchor="end" fill="#1c1e2a" >x20</text><text x="552.5" y="405.7" font-size="12.9" font-weight="normal" text-anchor="end" fill="#1c1e2a" >WT</text><text x="549.2" y="512.4" font-size="13.6" font-weight="normal" text-anchor="end" fill="#1c1e2a" >KO</text><text x="402" y="14.8" font-size="16.5" font-weight="bold" text-anchor="start" fill="#111" stroke="#111" stroke-width="0.35" >b</text><text x="402" y="315.4" font-size="16.5" font-weight="bold" text-anchor="start" fill="#111" stroke="#111" stroke-width="0.35" >d</text>
</svg>
</body></html>
